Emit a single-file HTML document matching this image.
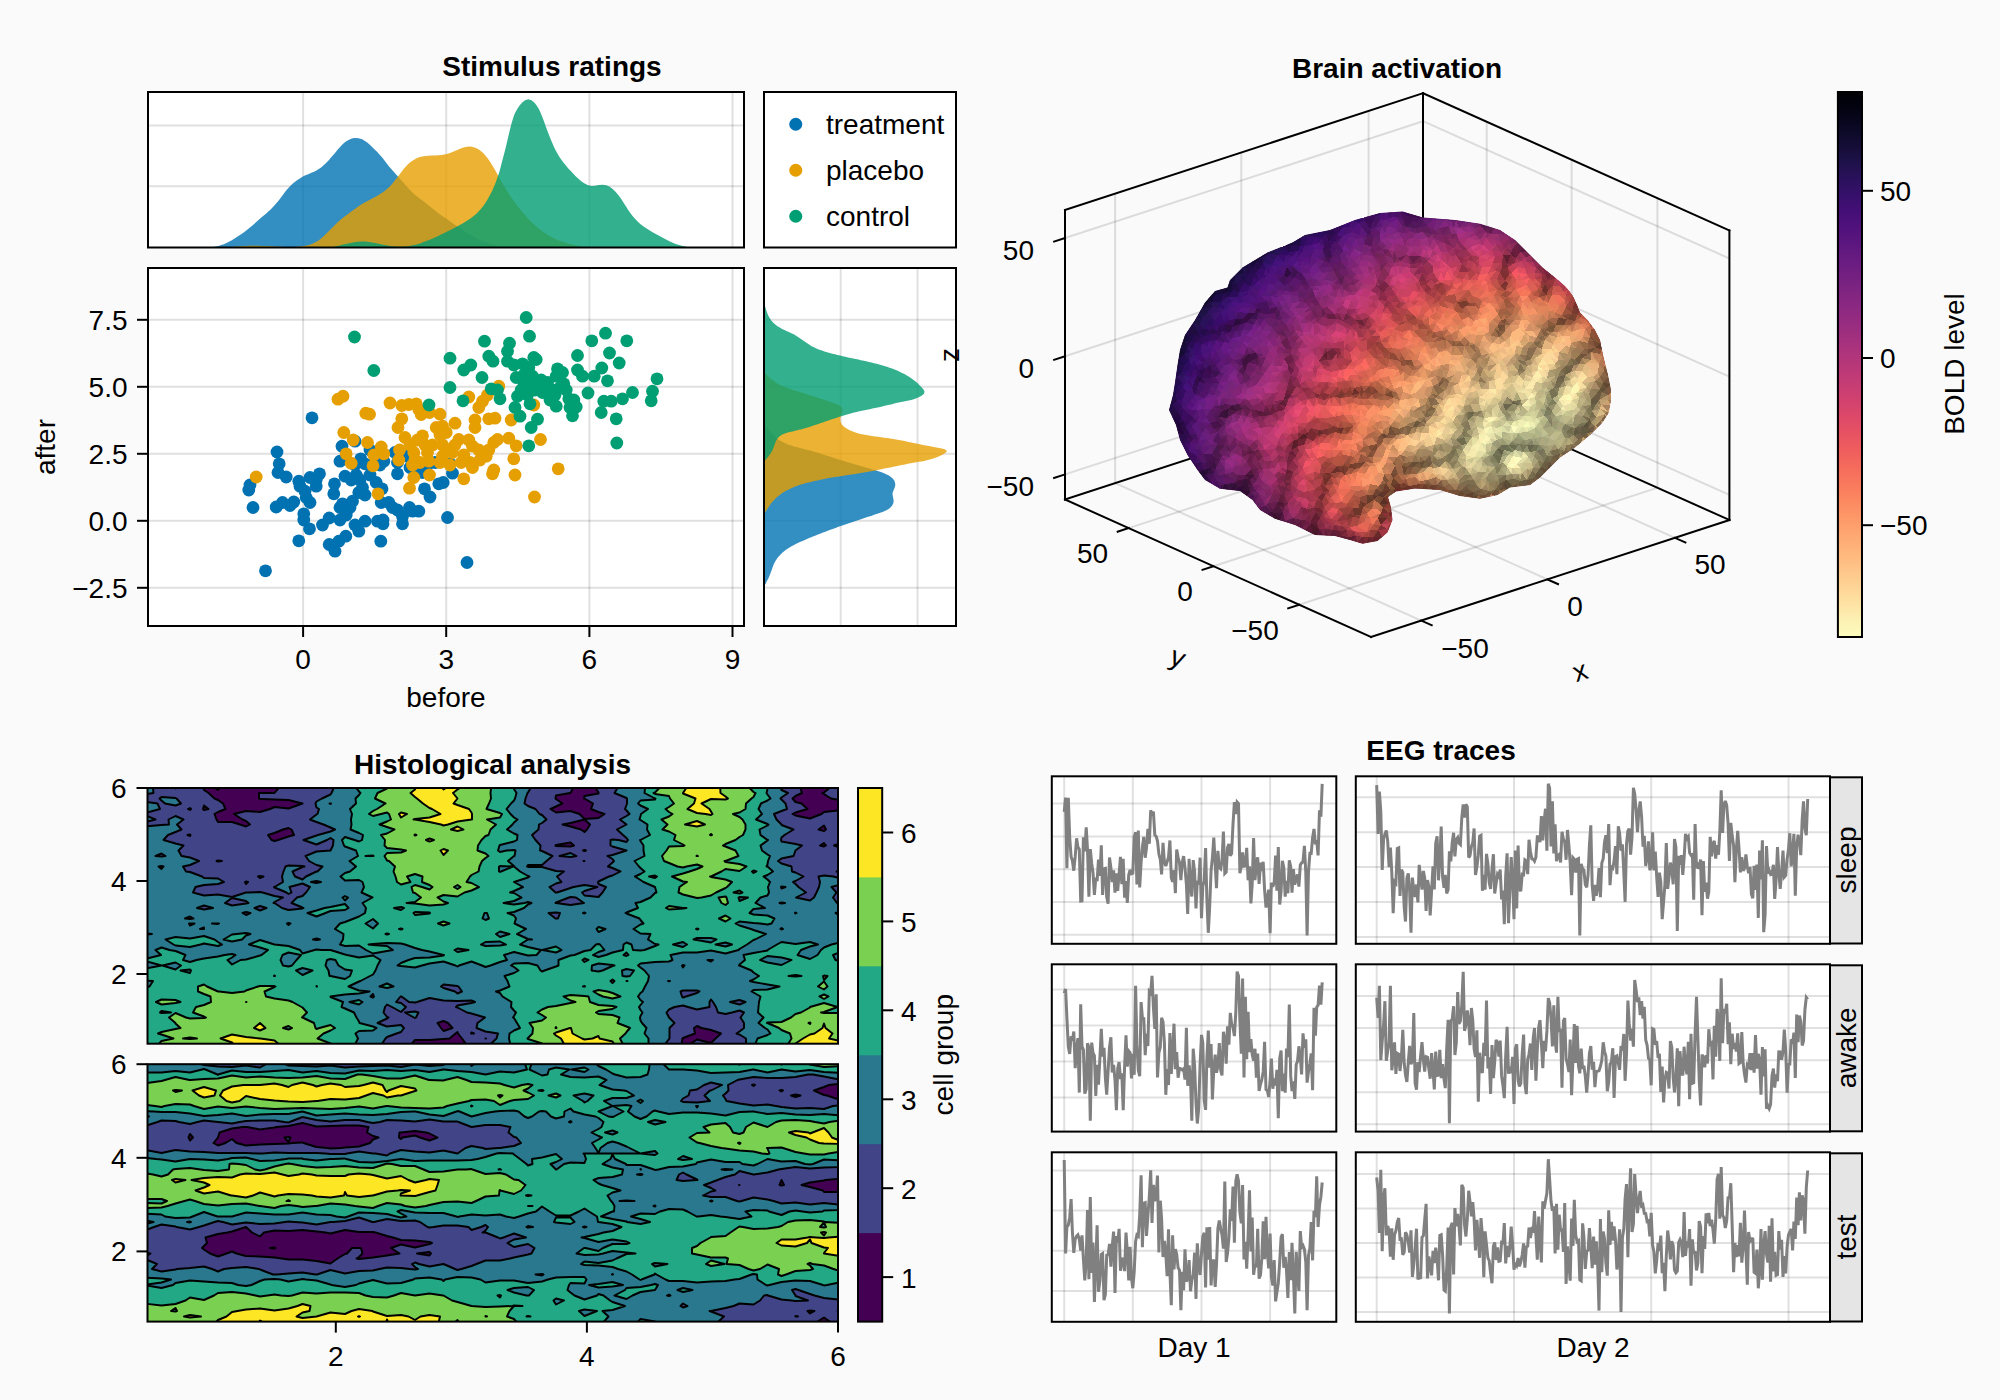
<!DOCTYPE html>
<html lang="en"><head><meta charset="utf-8"><title>Figure</title>
<style>
html,body{margin:0;padding:0;background:#fafafa;}
body{width:2000px;height:1400px;overflow:hidden;}
svg{display:block;font-family:"Liberation Sans", sans-serif;}
</style></head><body>
<svg width="2000" height="1400" viewBox="0 0 2000 1400">
<rect width="2000" height="1400" fill="#fafafa"/>
<g id="panel_a">
<text x="552" y="76" font-size="28" text-anchor="middle" font-weight="bold" fill="#000">Stimulus ratings</text>
<rect x="148" y="92" width="596" height="155.5" fill="#fff" stroke="none" stroke-width="2"/>
<line x1="303.1" y1="92" x2="303.1" y2="247.5" stroke="rgba(0,0,0,0.12)" stroke-width="2"/>
<line x1="446.2" y1="92" x2="446.2" y2="247.5" stroke="rgba(0,0,0,0.12)" stroke-width="2"/>
<line x1="589.4" y1="92" x2="589.4" y2="247.5" stroke="rgba(0,0,0,0.12)" stroke-width="2"/>
<line x1="732.5" y1="92" x2="732.5" y2="247.5" stroke="rgba(0,0,0,0.12)" stroke-width="2"/>
<line x1="148" y1="125.5" x2="744" y2="125.5" stroke="rgba(0,0,0,0.12)" stroke-width="2"/>
<line x1="148" y1="186.2" x2="744" y2="186.2" stroke="rgba(0,0,0,0.12)" stroke-width="2"/>
<clipPath id="cA1"><rect x="148" y="92" width="596" height="155.5"/></clipPath>
<g clip-path="url(#cA1)" fill-opacity="0.8">
<polygon fill="#0072b2" points="207.5,249.5 207.5,247.5 210.3,247.2 213.1,246.9 215.8,246.5 218.5,245.9 221.2,245.1 223.8,244.2 226.4,243.1 228.9,241.8 231.4,240.5 233.8,239.1 236.1,237.6 238.4,236.1 240.7,234.5 243,232.9 245.3,231.2 247.5,229.5 249.6,227.8 251.8,226 253.9,224.2 256,222.3 258,220.5 260.1,218.6 262.2,216.8 264.4,215 266.5,213.2 268.6,211.3 270.6,209.4 272.5,207.5 274.4,205.4 276.3,203.3 278.1,201.2 279.8,199 281.5,196.8 283.2,194.5 284.8,192.3 286.6,190.1 288.4,188 290.3,186 292.3,184.1 294.4,182.3 296.7,180.6 299,179 301.3,177.5 303.7,176.1 306.2,174.9 308.8,173.9 311.4,172.8 314,171.7 316.5,170.5 318.8,169 321.1,167.4 323.3,165.6 325.3,163.7 327.3,161.7 329.2,159.7 331,157.6 332.8,155.5 334.6,153.4 336.4,151.3 338.2,149.1 340.1,147 341.9,144.9 344,143 346.2,141.3 348.6,139.9 351.2,138.8 353.9,138.1 356.7,138 359.5,138.4 362.2,139.3 364.6,140.7 366.9,142.3 369,144.1 371.1,146 373.1,147.9 375.1,149.9 377.1,151.8 379,153.9 380.8,156 382.6,158.1 384.3,160.3 386,162.5 387.7,164.7 389.5,166.9 391.3,169 393.1,171.1 395,173.2 396.8,175.2 398.7,177.3 400.6,179.4 402.4,181.5 404.2,183.6 406,185.7 407.9,187.8 409.8,189.8 411.8,191.8 413.8,193.7 415.9,195.5 418.1,197.2 420.3,198.9 422.5,200.6 424.7,202.3 426.9,204 429.1,205.8 431.3,207.5 433.4,209.3 435.6,211 437.8,212.7 440,214.4 442.3,216 444.6,217.6 446.9,219.1 449.2,220.7 451.5,222.3 453.8,223.9 456,225.5 458.3,227.1 460.6,228.7 462.9,230.3 465.2,231.8 467.6,233.3 470,234.7 472.4,236.1 474.9,237.4 477.3,238.7 479.9,239.9 482.4,241 485,242.1 487.6,243 490.3,243.9 492.9,244.7 495.6,245.4 498.4,246 501.1,246.4 503.9,246.8 506.6,247 509.4,247.2 512.2,247.4 515,247.5 515,249.5"/>
<polygon fill="#e69f00" points="230,249.5 230,247.2 233.2,246.9 236.4,246.6 239.6,246.4 242.8,246.1 246,245.9 249.2,245.8 252.4,245.7 255.6,245.7 258.8,245.8 262,245.9 265.2,246 268.4,246.1 271.6,246.3 274.8,246.5 278,246.7 281.2,246.8 284.4,246.9 287.6,247 290.8,247 294,246.9 297.2,246.7 300.5,246.5 303.7,246.1 306.9,245.5 310,244.7 312.9,243.6 315.8,242.1 318.5,240.4 321.1,238.4 323.6,236.3 325.9,234.1 328.2,231.8 330.4,229.5 332.7,227.2 334.9,225 337.2,222.8 339.6,220.6 342.1,218.6 344.6,216.6 347.1,214.7 349.7,212.7 352.3,210.8 354.9,208.9 357.5,207 360.1,205.2 362.8,203.5 365.6,202 368.5,200.4 371.3,199 374.1,197.5 377,195.9 379.7,194.3 382.4,192.6 385,190.7 387.5,188.6 389.8,186.4 392,184.1 394.1,181.6 396,179.1 398,176.5 399.9,173.9 401.8,171.4 403.8,168.8 405.9,166.4 408.2,164.1 410.6,162 413.2,160.2 416.1,158.6 419,157.3 422.1,156.5 425.2,156 428.4,155.7 431.7,155.5 434.9,155.4 438.2,155.2 441.4,154.9 444.6,154.4 447.7,153.7 450.7,152.8 453.7,151.6 456.6,150.3 459.5,148.9 462.6,147.8 465.7,146.9 468.8,146.5 472,146.8 475.2,147.7 478.1,149.1 480.7,150.9 483.2,153 485.3,155.4 487.4,157.9 489.2,160.5 491,163.2 492.7,165.9 494.3,168.7 495.9,171.5 497.4,174.3 499,177.1 500.6,179.9 502.2,182.7 503.8,185.4 505.4,188.2 507.1,190.9 508.8,193.6 510.6,196.3 512.4,198.9 514.3,201.5 516.2,204.1 518.1,206.7 520.1,209.2 522.2,211.7 524.2,214.1 526.4,216.5 528.5,218.9 530.8,221.2 533,223.5 535.4,225.6 537.8,227.8 540.3,229.8 542.9,231.7 545.5,233.5 548.2,235.2 551,236.8 553.9,238.2 556.8,239.5 559.8,240.7 562.8,241.8 565.9,242.8 569,243.7 572.1,244.6 575.2,245.3 578.3,246 581.5,246.5 584.7,246.8 587.9,247.1 591.1,247.3 594.3,247.4 597.5,247.5 597.5,249.5"/>
<polygon fill="#009e73" points="332.5,249.5 332.5,247.2 336.1,246.3 339.7,245.4 343.2,244.5 346.9,243.7 350.5,242.9 354.1,242.2 357.8,241.7 361.5,241.5 365.2,241.6 368.9,242 372.5,242.5 376.2,243.2 379.8,244 383.4,244.7 387.1,245.4 390.7,246 394.4,246.4 398.1,246.7 401.8,246.7 405.5,246.5 409.2,246 412.8,245.3 416.4,244.4 420,243.4 423.5,242.1 426.9,240.8 430.4,239.4 433.8,238 437.1,236.4 440.5,234.8 443.8,233.2 447.1,231.6 450.4,229.9 453.7,228.2 457,226.5 460.2,224.7 463.5,222.9 466.6,221 469.7,218.9 472.7,216.7 475.6,214.4 478.3,211.8 480.8,209.1 483.1,206.2 485.2,203.2 487.2,200.1 489,196.8 490.8,193.5 492.4,190.2 493.9,186.8 495.3,183.4 496.6,180 497.8,176.5 499,172.9 500,169.4 501,165.8 501.9,162.2 502.8,158.7 503.8,155.1 504.7,151.5 505.6,147.9 506.5,144.3 507.3,140.7 508.2,137.1 509,133.4 509.9,129.8 510.8,126.2 511.7,122.7 512.8,119.2 513.9,115.8 515.3,112.5 517.1,109.2 519.2,106 521.9,102.8 525,100.3 528.3,99.2 531.5,100.2 534.5,102.8 537,106 539,109.3 540.5,112.6 541.9,115.9 543.2,119.3 544.5,122.8 545.7,126.2 547,129.7 548.3,133.2 549.7,136.7 551,140.1 552.5,143.6 554,147 555.6,150.3 557.4,153.5 559.3,156.7 561.4,159.7 563.6,162.7 565.9,165.6 568.3,168.4 570.8,171.1 573.3,173.8 575.9,176.4 578.7,178.9 581.6,181.4 584.7,183.6 588,185.2 591.6,185.9 595.3,185.7 599,185.1 602.7,184.8 606.3,185.3 609.7,186.8 612.7,189.1 615.5,191.8 617.9,194.6 620.2,197.6 622.2,200.6 624.2,203.7 626.2,206.8 628.2,209.9 630.3,213 632.6,215.9 635,218.7 637.6,221.4 640.3,223.9 643.2,226.2 646.2,228.3 649.4,230.3 652.6,232.2 655.8,234 659.1,235.7 662.3,237.5 665.6,239.3 668.9,241 672.2,242.6 675.6,244 679.1,245.1 682.7,246 686.3,246.8 690,247.5 690,249.5"/>
</g>
<rect x="148" y="92" width="596" height="155.5" fill="none" stroke="#000" stroke-width="2"/>
<rect x="764" y="92" width="192" height="155.5" fill="#fff" stroke="#000" stroke-width="2"/>
<circle cx="795.75" cy="124.25" r="6.5" fill="#0072b2"/>
<text x="826" y="134.2" font-size="28" text-anchor="start" fill="#000">treatment</text>
<circle cx="795.75" cy="170.25" r="6.5" fill="#e69f00"/>
<text x="826" y="180.2" font-size="28" text-anchor="start" fill="#000">placebo</text>
<circle cx="795.75" cy="216.25" r="6.5" fill="#009e73"/>
<text x="826" y="226.2" font-size="28" text-anchor="start" fill="#000">control</text>
<rect x="148" y="268" width="596" height="358" fill="#fff" stroke="none" stroke-width="2"/>
<line x1="303.1" y1="268" x2="303.1" y2="626" stroke="rgba(0,0,0,0.12)" stroke-width="2"/>
<line x1="446.2" y1="268" x2="446.2" y2="626" stroke="rgba(0,0,0,0.12)" stroke-width="2"/>
<line x1="589.4" y1="268" x2="589.4" y2="626" stroke="rgba(0,0,0,0.12)" stroke-width="2"/>
<line x1="732.5" y1="268" x2="732.5" y2="626" stroke="rgba(0,0,0,0.12)" stroke-width="2"/>
<line x1="148" y1="319.8" x2="744" y2="319.8" stroke="rgba(0,0,0,0.12)" stroke-width="2"/>
<line x1="148" y1="386.8" x2="744" y2="386.8" stroke="rgba(0,0,0,0.12)" stroke-width="2"/>
<line x1="148" y1="453.8" x2="744" y2="453.8" stroke="rgba(0,0,0,0.12)" stroke-width="2"/>
<line x1="148" y1="520.8" x2="744" y2="520.8" stroke="rgba(0,0,0,0.12)" stroke-width="2"/>
<line x1="148" y1="587.8" x2="744" y2="587.8" stroke="rgba(0,0,0,0.12)" stroke-width="2"/>
<g fill="#0072b2">
<circle cx="265.5" cy="570.8" r="6.4"/>
<circle cx="467" cy="562.5" r="6.4"/>
<circle cx="447.5" cy="517.5" r="6.4"/>
<circle cx="312" cy="417.8" r="6.4"/>
<circle cx="277" cy="452" r="6.4"/>
<circle cx="279.2" cy="463.8" r="6.4"/>
<circle cx="278" cy="472.5" r="6.4"/>
<circle cx="286.2" cy="477" r="6.4"/>
<circle cx="250" cy="485" r="6.4"/>
<circle cx="248.8" cy="490" r="6.4"/>
<circle cx="253" cy="507.5" r="6.4"/>
<circle cx="276.2" cy="507" r="6.4"/>
<circle cx="282.5" cy="502.5" r="6.4"/>
<circle cx="290" cy="505.5" r="6.4"/>
<circle cx="293.8" cy="502" r="6.4"/>
<circle cx="298.8" cy="481.2" r="6.4"/>
<circle cx="300" cy="486.2" r="6.4"/>
<circle cx="310" cy="477.5" r="6.4"/>
<circle cx="316.2" cy="480" r="6.4"/>
<circle cx="319.5" cy="473.8" r="6.4"/>
<circle cx="316.2" cy="486.2" r="6.4"/>
<circle cx="305" cy="491.2" r="6.4"/>
<circle cx="306.2" cy="497.5" r="6.4"/>
<circle cx="310" cy="502.5" r="6.4"/>
<circle cx="303.8" cy="513.8" r="6.4"/>
<circle cx="303.8" cy="520" r="6.4"/>
<circle cx="309.5" cy="528.8" r="6.4"/>
<circle cx="298.8" cy="540.8" r="6.4"/>
<circle cx="322.5" cy="525" r="6.4"/>
<circle cx="329.2" cy="518" r="6.4"/>
<circle cx="329.2" cy="544.5" r="6.4"/>
<circle cx="335" cy="551.2" r="6.4"/>
<circle cx="338.8" cy="541.2" r="6.4"/>
<circle cx="345.8" cy="536.2" r="6.4"/>
<circle cx="334.5" cy="483.8" r="6.4"/>
<circle cx="333.8" cy="493.8" r="6.4"/>
<circle cx="340" cy="507.5" r="6.4"/>
<circle cx="342.5" cy="503.8" r="6.4"/>
<circle cx="340" cy="520" r="6.4"/>
<circle cx="346.2" cy="515" r="6.4"/>
<circle cx="350" cy="507.5" r="6.4"/>
<circle cx="352.5" cy="501.2" r="6.4"/>
<circle cx="345" cy="476.2" r="6.4"/>
<circle cx="351.2" cy="480" r="6.4"/>
<circle cx="356.2" cy="475" r="6.4"/>
<circle cx="360" cy="480" r="6.4"/>
<circle cx="362.5" cy="487.5" r="6.4"/>
<circle cx="365" cy="495" r="6.4"/>
<circle cx="358.8" cy="492.5" r="6.4"/>
<circle cx="355" cy="525" r="6.4"/>
<circle cx="358.8" cy="531.2" r="6.4"/>
<circle cx="365" cy="521.2" r="6.4"/>
<circle cx="377.5" cy="521.2" r="6.4"/>
<circle cx="383" cy="520" r="6.4"/>
<circle cx="383" cy="523.8" r="6.4"/>
<circle cx="380.8" cy="541.2" r="6.4"/>
<circle cx="376.2" cy="482.5" r="6.4"/>
<circle cx="382" cy="488.8" r="6.4"/>
<circle cx="381.2" cy="502.5" r="6.4"/>
<circle cx="388.8" cy="502.5" r="6.4"/>
<circle cx="392.5" cy="507.5" r="6.4"/>
<circle cx="397.5" cy="510" r="6.4"/>
<circle cx="402.5" cy="516.2" r="6.4"/>
<circle cx="402.5" cy="523.8" r="6.4"/>
<circle cx="409.5" cy="507.5" r="6.4"/>
<circle cx="412.5" cy="511.2" r="6.4"/>
<circle cx="418.8" cy="511.2" r="6.4"/>
<circle cx="397.5" cy="473.8" r="6.4"/>
<circle cx="410" cy="467.5" r="6.4"/>
<circle cx="424.5" cy="488.8" r="6.4"/>
<circle cx="430" cy="497" r="6.4"/>
<circle cx="438.8" cy="483.8" r="6.4"/>
<circle cx="443.2" cy="482.5" r="6.4"/>
<circle cx="452.5" cy="473.2" r="6.4"/>
<circle cx="342" cy="446.2" r="6.4"/>
<circle cx="340" cy="461.2" r="6.4"/>
<circle cx="355" cy="441.2" r="6.4"/>
<circle cx="360.8" cy="458.8" r="6.4"/>
<circle cx="365" cy="463.8" r="6.4"/>
<circle cx="383.8" cy="461.2" r="6.4"/>
<circle cx="397.5" cy="462.5" r="6.4"/>
<circle cx="450" cy="463.8" r="6.4"/>
<circle cx="407.5" cy="456.2" r="6.4"/>
<circle cx="417.5" cy="470" r="6.4"/>
<circle cx="427.5" cy="465" r="6.4"/>
<circle cx="422.5" cy="472.5" r="6.4"/>
<circle cx="370" cy="450" r="6.4"/>
<circle cx="395" cy="452.5" r="6.4"/>
<circle cx="435" cy="462.5" r="6.4"/>
<circle cx="380" cy="465" r="6.4"/>
<circle cx="355" cy="465" r="6.4"/>
<circle cx="370" cy="475" r="6.4"/>
</g>
<g fill="#e69f00">
<circle cx="256.2" cy="477" r="6.4"/>
<circle cx="338" cy="399.2" r="6.4"/>
<circle cx="343" cy="396.2" r="6.4"/>
<circle cx="365.8" cy="413.2" r="6.4"/>
<circle cx="369.5" cy="414.2" r="6.4"/>
<circle cx="390" cy="403" r="6.4"/>
<circle cx="401.8" cy="405.5" r="6.4"/>
<circle cx="408.8" cy="404.5" r="6.4"/>
<circle cx="416.2" cy="403.8" r="6.4"/>
<circle cx="418.8" cy="409.5" r="6.4"/>
<circle cx="421.2" cy="414.5" r="6.4"/>
<circle cx="429.5" cy="412.5" r="6.4"/>
<circle cx="440" cy="414.2" r="6.4"/>
<circle cx="401.8" cy="418.8" r="6.4"/>
<circle cx="398" cy="427.5" r="6.4"/>
<circle cx="343.8" cy="432.5" r="6.4"/>
<circle cx="353.2" cy="440" r="6.4"/>
<circle cx="367.5" cy="442.5" r="6.4"/>
<circle cx="381.2" cy="447" r="6.4"/>
<circle cx="383.8" cy="453.8" r="6.4"/>
<circle cx="373.8" cy="455" r="6.4"/>
<circle cx="346.2" cy="453.8" r="6.4"/>
<circle cx="351.2" cy="463.2" r="6.4"/>
<circle cx="373" cy="465.8" r="6.4"/>
<circle cx="378" cy="493.8" r="6.4"/>
<circle cx="405" cy="437.5" r="6.4"/>
<circle cx="422.5" cy="435.8" r="6.4"/>
<circle cx="410" cy="445" r="6.4"/>
<circle cx="425" cy="445" r="6.4"/>
<circle cx="399.5" cy="450" r="6.4"/>
<circle cx="398.8" cy="460" r="6.4"/>
<circle cx="413.8" cy="452.5" r="6.4"/>
<circle cx="415" cy="460" r="6.4"/>
<circle cx="420" cy="462.5" r="6.4"/>
<circle cx="427.5" cy="452.5" r="6.4"/>
<circle cx="428.8" cy="461.2" r="6.4"/>
<circle cx="436.2" cy="427.5" r="6.4"/>
<circle cx="442.5" cy="426.2" r="6.4"/>
<circle cx="455" cy="423.2" r="6.4"/>
<circle cx="440" cy="435" r="6.4"/>
<circle cx="446.2" cy="432.5" r="6.4"/>
<circle cx="442.5" cy="445" r="6.4"/>
<circle cx="446.2" cy="450" r="6.4"/>
<circle cx="442.5" cy="456.2" r="6.4"/>
<circle cx="440" cy="462.5" r="6.4"/>
<circle cx="450" cy="465" r="6.4"/>
<circle cx="458.8" cy="439.5" r="6.4"/>
<circle cx="468.8" cy="440" r="6.4"/>
<circle cx="472.5" cy="446.2" r="6.4"/>
<circle cx="463.8" cy="455" r="6.4"/>
<circle cx="461.2" cy="462.5" r="6.4"/>
<circle cx="470" cy="462.5" r="6.4"/>
<circle cx="472.5" cy="467.5" r="6.4"/>
<circle cx="478.8" cy="450" r="6.4"/>
<circle cx="486.2" cy="456.2" r="6.4"/>
<circle cx="488.8" cy="450" r="6.4"/>
<circle cx="493.8" cy="442.5" r="6.4"/>
<circle cx="497.5" cy="439.5" r="6.4"/>
<circle cx="508.8" cy="438.2" r="6.4"/>
<circle cx="516.2" cy="445.8" r="6.4"/>
<circle cx="513.8" cy="458.8" r="6.4"/>
<circle cx="515" cy="475" r="6.4"/>
<circle cx="492.5" cy="473.8" r="6.4"/>
<circle cx="493.8" cy="470" r="6.4"/>
<circle cx="463.8" cy="478.8" r="6.4"/>
<circle cx="429.5" cy="475" r="6.4"/>
<circle cx="413.8" cy="477.5" r="6.4"/>
<circle cx="409.5" cy="488.2" r="6.4"/>
<circle cx="534.5" cy="497" r="6.4"/>
<circle cx="558.2" cy="468.8" r="6.4"/>
<circle cx="540.5" cy="439.5" r="6.4"/>
<circle cx="475" cy="420" r="6.4"/>
<circle cx="475" cy="427.5" r="6.4"/>
<circle cx="488.8" cy="418.8" r="6.4"/>
<circle cx="495" cy="418.2" r="6.4"/>
<circle cx="511.2" cy="420" r="6.4"/>
<circle cx="478.8" cy="407.5" r="6.4"/>
<circle cx="482.5" cy="401.2" r="6.4"/>
<circle cx="487.5" cy="395" r="6.4"/>
<circle cx="468.8" cy="397" r="6.4"/>
<circle cx="498.8" cy="386.2" r="6.4"/>
<circle cx="533.8" cy="405" r="6.4"/>
<circle cx="417.5" cy="440" r="6.4"/>
<circle cx="432.5" cy="445" r="6.4"/>
<circle cx="452.5" cy="452.5" r="6.4"/>
<circle cx="455" cy="445" r="6.4"/>
<circle cx="480" cy="460" r="6.4"/>
<circle cx="412.5" cy="465" r="6.4"/>
</g>
<g fill="#009e73">
<circle cx="526.2" cy="317.5" r="6.4"/>
<circle cx="529.5" cy="336.2" r="6.4"/>
<circle cx="354.5" cy="337" r="6.4"/>
<circle cx="373.8" cy="370.5" r="6.4"/>
<circle cx="429" cy="405" r="6.4"/>
<circle cx="450" cy="358.2" r="6.4"/>
<circle cx="450" cy="387.5" r="6.4"/>
<circle cx="463" cy="400.8" r="6.4"/>
<circle cx="463.8" cy="370" r="6.4"/>
<circle cx="470.8" cy="365" r="6.4"/>
<circle cx="484.5" cy="341.2" r="6.4"/>
<circle cx="482" cy="377.5" r="6.4"/>
<circle cx="488.8" cy="356.2" r="6.4"/>
<circle cx="493" cy="361.2" r="6.4"/>
<circle cx="491.2" cy="388.8" r="6.4"/>
<circle cx="497.5" cy="390" r="6.4"/>
<circle cx="500" cy="398.8" r="6.4"/>
<circle cx="509.5" cy="343.2" r="6.4"/>
<circle cx="507.5" cy="351.2" r="6.4"/>
<circle cx="507.5" cy="361.2" r="6.4"/>
<circle cx="513.8" cy="365" r="6.4"/>
<circle cx="522.5" cy="363.8" r="6.4"/>
<circle cx="533.8" cy="357.5" r="6.4"/>
<circle cx="536.2" cy="359.5" r="6.4"/>
<circle cx="528.8" cy="367.5" r="6.4"/>
<circle cx="523.8" cy="375" r="6.4"/>
<circle cx="532.5" cy="376.2" r="6.4"/>
<circle cx="523.8" cy="382.5" r="6.4"/>
<circle cx="541.2" cy="380" r="6.4"/>
<circle cx="521.2" cy="390" r="6.4"/>
<circle cx="517.5" cy="396.2" r="6.4"/>
<circle cx="527.5" cy="395" r="6.4"/>
<circle cx="530" cy="403.8" r="6.4"/>
<circle cx="515" cy="407.5" r="6.4"/>
<circle cx="520" cy="416.2" r="6.4"/>
<circle cx="537.5" cy="419.2" r="6.4"/>
<circle cx="531.2" cy="427.5" r="6.4"/>
<circle cx="528.8" cy="445.8" r="6.4"/>
<circle cx="536.2" cy="387.5" r="6.4"/>
<circle cx="545" cy="385" r="6.4"/>
<circle cx="552.5" cy="390" r="6.4"/>
<circle cx="557.5" cy="368.8" r="6.4"/>
<circle cx="556.2" cy="376.2" r="6.4"/>
<circle cx="562.5" cy="372.5" r="6.4"/>
<circle cx="563.8" cy="383.8" r="6.4"/>
<circle cx="566.2" cy="390" r="6.4"/>
<circle cx="550" cy="400" r="6.4"/>
<circle cx="556.2" cy="406.2" r="6.4"/>
<circle cx="568.8" cy="398.8" r="6.4"/>
<circle cx="576.2" cy="407" r="6.4"/>
<circle cx="572.5" cy="415.8" r="6.4"/>
<circle cx="577.5" cy="355.5" r="6.4"/>
<circle cx="577.5" cy="370" r="6.4"/>
<circle cx="582.5" cy="376.2" r="6.4"/>
<circle cx="588" cy="393" r="6.4"/>
<circle cx="591.8" cy="340.8" r="6.4"/>
<circle cx="594.2" cy="376.2" r="6.4"/>
<circle cx="601.8" cy="368" r="6.4"/>
<circle cx="605.5" cy="333.2" r="6.4"/>
<circle cx="609.5" cy="353" r="6.4"/>
<circle cx="607.5" cy="380.8" r="6.4"/>
<circle cx="619.2" cy="363" r="6.4"/>
<circle cx="626.8" cy="340.8" r="6.4"/>
<circle cx="603.8" cy="401.2" r="6.4"/>
<circle cx="611.2" cy="401.2" r="6.4"/>
<circle cx="601.2" cy="412.5" r="6.4"/>
<circle cx="616.2" cy="418.8" r="6.4"/>
<circle cx="622.5" cy="398.8" r="6.4"/>
<circle cx="632.5" cy="392.5" r="6.4"/>
<circle cx="652.5" cy="391.2" r="6.4"/>
<circle cx="651.2" cy="400.8" r="6.4"/>
<circle cx="657" cy="378.8" r="6.4"/>
<circle cx="616.8" cy="443" r="6.4"/>
<circle cx="542.5" cy="392.5" r="6.4"/>
<circle cx="547.5" cy="382.5" r="6.4"/>
<circle cx="516.2" cy="377.5" r="6.4"/>
<circle cx="530" cy="385" r="6.4"/>
<circle cx="527.5" cy="372.5" r="6.4"/>
<circle cx="535" cy="390" r="6.4"/>
<circle cx="555" cy="395" r="6.4"/>
<circle cx="560" cy="387.5" r="6.4"/>
<circle cx="570" cy="407.5" r="6.4"/>
<circle cx="573.8" cy="400" r="6.4"/>
</g>
<rect x="148" y="268" width="596" height="358" fill="none" stroke="#000" stroke-width="2"/>
<line x1="303.1" y1="626" x2="303.1" y2="637" stroke="#000" stroke-width="2"/>
<text x="303.1" y="669" font-size="28" text-anchor="middle" fill="#000">0</text>
<line x1="446.2" y1="626" x2="446.2" y2="637" stroke="#000" stroke-width="2"/>
<text x="446.2" y="669" font-size="28" text-anchor="middle" fill="#000">3</text>
<line x1="589.4" y1="626" x2="589.4" y2="637" stroke="#000" stroke-width="2"/>
<text x="589.4" y="669" font-size="28" text-anchor="middle" fill="#000">6</text>
<line x1="732.5" y1="626" x2="732.5" y2="637" stroke="#000" stroke-width="2"/>
<text x="732.5" y="669" font-size="28" text-anchor="middle" fill="#000">9</text>
<line x1="137" y1="319.8" x2="148" y2="319.8" stroke="#000" stroke-width="2"/>
<text x="127.5" y="329.8" font-size="28" text-anchor="end" fill="#000">7.5</text>
<line x1="137" y1="386.8" x2="148" y2="386.8" stroke="#000" stroke-width="2"/>
<text x="127.5" y="396.8" font-size="28" text-anchor="end" fill="#000">5.0</text>
<line x1="137" y1="453.8" x2="148" y2="453.8" stroke="#000" stroke-width="2"/>
<text x="127.5" y="463.8" font-size="28" text-anchor="end" fill="#000">2.5</text>
<line x1="137" y1="520.8" x2="148" y2="520.8" stroke="#000" stroke-width="2"/>
<text x="127.5" y="530.8" font-size="28" text-anchor="end" fill="#000">0.0</text>
<line x1="137" y1="587.8" x2="148" y2="587.8" stroke="#000" stroke-width="2"/>
<text x="127.5" y="597.8" font-size="28" text-anchor="end" fill="#000">−2.5</text>
<text x="446" y="707" font-size="28" text-anchor="middle" fill="#000">before</text>
<text x="55" y="447" font-size="28" text-anchor="middle" transform="rotate(-90 55 447)" fill="#000">after</text>
<rect x="764" y="268" width="192" height="358" fill="#fff" stroke="none" stroke-width="2"/>
<line x1="840.7" y1="268" x2="840.7" y2="626" stroke="rgba(0,0,0,0.12)" stroke-width="2"/>
<line x1="917.5" y1="268" x2="917.5" y2="626" stroke="rgba(0,0,0,0.12)" stroke-width="2"/>
<line x1="764" y1="319.8" x2="956" y2="319.8" stroke="rgba(0,0,0,0.12)" stroke-width="2"/>
<line x1="764" y1="386.8" x2="956" y2="386.8" stroke="rgba(0,0,0,0.12)" stroke-width="2"/>
<line x1="764" y1="453.8" x2="956" y2="453.8" stroke="rgba(0,0,0,0.12)" stroke-width="2"/>
<line x1="764" y1="520.8" x2="956" y2="520.8" stroke="rgba(0,0,0,0.12)" stroke-width="2"/>
<line x1="764" y1="587.8" x2="956" y2="587.8" stroke="rgba(0,0,0,0.12)" stroke-width="2"/>
<clipPath id="cA2"><rect x="764" y="268" width="192" height="358"/></clipPath>
<g clip-path="url(#cA2)" fill-opacity="0.8">
<polygon fill="#0072b2" points="762,424.2 764.4,424.2 765.9,426.2 767.4,428.1 768.8,430 770.4,431.8 771.9,433.6 773.6,435.3 775.2,436.9 777,438.4 778.8,439.8 780.8,441 782.8,442.1 784.9,443.1 787,444 789.2,444.9 791.5,445.6 793.8,446.4 796.1,447 798.4,447.6 800.8,448.2 803.1,448.8 805.5,449.4 807.8,450 810.2,450.6 812.5,451.3 814.8,451.9 817,452.6 819.3,453.3 821.6,454 823.8,454.7 826,455.4 828.3,456.1 830.5,456.8 832.7,457.6 835,458.3 837.2,459 839.4,459.7 841.7,460.4 843.9,461.1 846.2,461.8 848.4,462.5 850.7,463.1 853,463.8 855.3,464.4 857.5,465.1 859.8,465.7 862.1,466.4 864.3,467 866.6,467.7 868.9,468.3 871.1,469 873.4,469.7 875.6,470.3 877.8,471.1 880.1,471.8 882.3,472.6 884.5,473.5 886.7,474.5 888.9,475.6 890.9,476.9 892.7,478.5 894.1,480.3 895,482.5 895.3,484.9 894.8,487.2 893.9,489.4 892.9,491.7 892.5,493.9 892.8,496.2 893.3,498.6 893.7,500.9 893.3,503.2 892.2,505.4 890.7,507.3 889,508.8 886.9,510 884.8,511.1 882.5,511.9 880.2,512.8 878,513.6 875.7,514.3 873.5,515.1 871.2,515.9 869,516.6 866.7,517.3 864.5,518 862.3,518.8 860.1,519.5 857.9,520.2 855.6,520.9 853.4,521.7 851.2,522.4 848.9,523.2 846.7,524 844.5,524.7 842.3,525.5 840,526.3 837.8,527.1 835.6,527.9 833.3,528.7 831.1,529.5 828.9,530.3 826.7,531.2 824.5,532 822.3,532.8 820.1,533.7 817.9,534.5 815.7,535.4 813.5,536.3 811.3,537.2 809.1,538.1 807,539 804.8,539.9 802.6,540.9 800.5,541.8 798.3,542.8 796.2,543.8 794,544.9 792,546 789.9,547.2 787.9,548.5 786,549.8 784.1,551.3 782.3,552.8 780.6,554.4 778.9,556.2 777.4,558 776.1,560 774.9,562 773.9,564.1 773,566.3 772.2,568.5 771.4,570.8 770.6,573 769.7,575.2 768.8,577.4 767.8,579.5 766.7,581.6 765.6,583.7 764.4,585.7 762,585.7"/>
<polygon fill="#e69f00" points="762,372.6 764.4,372.6 766.6,374.7 768.7,376.8 770.9,378.8 773.2,380.6 775.6,382.3 778.1,383.9 780.7,385.2 783.3,386.4 786.1,387.5 788.9,388.5 791.8,389.5 794.6,390.4 797.5,391.3 800.4,392.2 803.3,393.1 806.1,394 808.9,394.9 811.7,395.7 814.4,396.6 817.1,397.4 819.7,398.3 822.4,399.1 825.1,400.1 828,401 831,402.1 834.3,403.2 837.5,404.5 840.3,406.1 842.1,408 842.6,410.3 841.9,413.1 840.8,416.1 840.3,419.2 840.7,422.1 842,424.7 844.1,426.8 846.6,428.5 849.3,430 852.1,431.3 854.9,432.3 857.7,433.2 860.5,433.9 863.4,434.6 866.3,435.1 869.2,435.5 872.1,436 875.1,436.4 878.1,436.8 881.1,437.2 884.2,437.7 887.2,438.1 890.2,438.6 893.2,439.1 896.1,439.6 899,440.1 901.9,440.6 904.6,441.1 907.3,441.7 909.9,442.2 912.4,442.7 914.9,443.2 917.4,443.8 920,444.3 922.8,444.9 925.8,445.5 929,446.1 932.5,446.8 936.4,447.5 940.5,448.2 944,449.1 946.4,450.2 946.8,451.6 944.9,453.2 941.9,455 938.6,456.5 935.5,457.7 932.5,458.7 929.6,459.6 926.9,460.3 924.2,460.9 921.5,461.4 918.8,461.8 916.1,462.3 913.4,462.8 910.6,463.3 907.8,463.8 905,464.4 902.1,465 899.2,465.6 896.3,466.2 893.3,466.8 890.4,467.4 887.4,468 884.4,468.6 881.5,469.2 878.5,469.8 875.6,470.4 872.6,470.9 869.7,471.5 866.8,472 863.8,472.5 860.9,473 858,473.4 855.1,473.9 852.2,474.4 849.3,474.8 846.4,475.3 843.5,475.7 840.6,476.2 837.7,476.7 834.8,477.1 831.9,477.6 829,478.1 826.1,478.6 823.2,479.2 820.3,479.8 817.4,480.4 814.5,481 811.6,481.7 808.7,482.4 805.8,483.1 803,483.9 800.1,484.8 797.3,485.7 794.6,486.8 791.8,487.9 789.2,489.2 786.5,490.5 784,492 781.5,493.6 779.1,495.4 776.8,497.3 774.6,499.4 772.6,501.5 770.8,503.8 769.1,506.2 767.5,508.7 765.9,511.2 764.4,513.8 762,513.8"/>
<polygon fill="#009e73" points="762,303.4 764.4,303.4 765.1,306.1 765.8,308.7 766.6,311.3 767.5,313.8 768.6,316.2 770,318.5 771.5,320.7 773.3,322.7 775.3,324.5 777.5,326.2 779.8,327.6 782.1,328.9 784.5,330.1 787,331.2 789.4,332.3 791.9,333.4 794.2,334.6 796.5,336 798.8,337.4 801,339 803.2,340.5 805.3,342.1 807.6,343.6 809.8,345 812.1,346.4 814.5,347.6 816.9,348.7 819.4,349.7 822,350.6 824.5,351.4 827.1,352.2 829.7,353 832.3,353.7 834.9,354.3 837.5,355 840.2,355.6 842.8,356.2 845.4,356.8 848,357.4 850.6,357.9 853.2,358.5 855.8,359.1 858.4,359.6 861,360.2 863.7,360.8 866.3,361.3 868.9,361.9 871.5,362.5 874.1,363.2 876.7,363.8 879.2,364.5 881.8,365.2 884.4,366 887,366.8 889.5,367.7 892.1,368.6 894.6,369.6 897.1,370.6 899.6,371.7 902.1,372.9 904.5,374.1 906.8,375.4 909,376.8 911.2,378.2 913.3,379.7 915.3,381.3 917.3,383 919.3,384.9 921.3,386.9 923.3,389.2 924.5,391.5 924,393.7 922,395.5 919.2,397.1 916.4,398.3 913.8,399.2 911.2,400 908.7,400.6 906.2,401.1 903.7,401.5 901.2,402 898.7,402.6 896.1,403.1 893.5,403.7 890.9,404.4 888.3,405 885.6,405.6 883,406.3 880.3,406.9 877.7,407.5 875,408.1 872.4,408.6 869.7,409.2 867.1,409.7 864.5,410.2 861.9,410.8 859.3,411.3 856.7,411.9 854.1,412.5 851.5,413.2 848.9,413.9 846.3,414.7 843.8,415.5 841.2,416.3 838.6,417.1 836.1,417.9 833.5,418.8 831,419.6 828.4,420.5 825.9,421.3 823.4,422.2 820.9,423.1 818.4,423.9 815.9,424.7 813.4,425.6 810.9,426.4 808.4,427.2 805.9,427.9 803.3,428.7 800.7,429.4 798,430.1 795.3,430.8 792.5,431.4 789.7,432.1 786.9,432.8 784.3,433.7 781.8,434.8 779.7,436.2 777.9,437.9 776.5,440 775.4,442.4 774.5,445 773.6,447.6 772.5,450.2 771.2,452.5 769.7,454.8 768,456.9 766.3,458.9 764.4,460.9 762,460.9"/>
</g>
<rect x="764" y="268" width="192" height="358" fill="none" stroke="#000" stroke-width="2"/>
</g>
<g id="panel_b">
<text x="1397" y="78" font-size="28" text-anchor="middle" font-weight="bold" fill="#000">Brain activation</text>
<g stroke="rgba(0,0,0,0.12)" stroke-width="2">
<line x1="1115.1" y1="483.2" x2="1115.1" y2="193.7"/>
<line x1="1421.2" y1="620.6" x2="1115.2" y2="483.1"/>
<line x1="1241.3" y1="442" x2="1241.3" y2="152.5"/>
<line x1="1547.5" y1="579.4" x2="1241.5" y2="441.9"/>
<line x1="1368.6" y1="400.5" x2="1368.6" y2="111"/>
<line x1="1674.9" y1="537.8" x2="1368.9" y2="400.3"/>
<line x1="1486.7" y1="411.3" x2="1486.7" y2="121.8"/>
<line x1="1128.6" y1="528.1" x2="1486.6" y2="411.4"/>
<line x1="1571.6" y1="449.3" x2="1571.6" y2="159.8"/>
<line x1="1213.4" y1="566.2" x2="1571.4" y2="449.4"/>
<line x1="1657.4" y1="487.7" x2="1657.4" y2="198.2"/>
<line x1="1299.1" y1="604.7" x2="1657.1" y2="487.9"/>
<line x1="1065" y1="474.4" x2="1423" y2="357.6"/>
<line x1="1423" y1="357.6" x2="1729.4" y2="494.9"/>
<line x1="1065" y1="356.2" x2="1423" y2="239.4"/>
<line x1="1423" y1="239.4" x2="1729.4" y2="376.7"/>
<line x1="1065" y1="238" x2="1423" y2="121.2"/>
<line x1="1423" y1="121.2" x2="1729.4" y2="258.5"/>
</g>
<g stroke="#000" stroke-width="2" stroke-linecap="square" fill="none">
<line x1="1065" y1="499.5" x2="1065" y2="210"/>
<line x1="1065" y1="210" x2="1423" y2="93.2"/>
<line x1="1423" y1="93.2" x2="1729.4" y2="230.5"/>
<line x1="1423" y1="382.8" x2="1423" y2="93.2"/>
<line x1="1729.4" y1="520" x2="1729.4" y2="230.5"/>
<line x1="1065" y1="499.5" x2="1371" y2="637"/>
<line x1="1371" y1="637" x2="1729.4" y2="520"/>
<line x1="1065" y1="499.5" x2="1423" y2="382.8"/>
<line x1="1423" y1="382.8" x2="1729.4" y2="520"/>
<line x1="1128.6" y1="528.1" x2="1117.7" y2="531.7"/>
<line x1="1213.4" y1="566.2" x2="1202.5" y2="569.8"/>
<line x1="1299.1" y1="604.7" x2="1288.2" y2="608.3"/>
<line x1="1421.2" y1="620.6" x2="1431.7" y2="625.3"/>
<line x1="1547.5" y1="579.4" x2="1558" y2="584.1"/>
<line x1="1674.9" y1="537.8" x2="1685.4" y2="542.5"/>
<line x1="1065" y1="474.4" x2="1054.1" y2="478"/>
<line x1="1065" y1="356.2" x2="1054.1" y2="359.8"/>
<line x1="1065" y1="238" x2="1054.1" y2="241.6"/>
</g>
<text x="1034" y="260" font-size="28" text-anchor="end" fill="#000">50</text>
<text x="1034" y="377.5" font-size="28" text-anchor="end" fill="#000">0</text>
<text x="1034" y="496" font-size="28" text-anchor="end" fill="#000">−50</text>
<text x="1092.5" y="562.5" font-size="28" text-anchor="middle" fill="#000">50</text>
<text x="1185" y="601" font-size="28" text-anchor="middle" fill="#000">0</text>
<text x="1255" y="640" font-size="28" text-anchor="middle" fill="#000">−50</text>
<text x="1465" y="657.5" font-size="28" text-anchor="middle" fill="#000">−50</text>
<text x="1575" y="615.8" font-size="28" text-anchor="middle" fill="#000">0</text>
<text x="1710" y="573.8" font-size="28" text-anchor="middle" fill="#000">50</text>
<text x="1174.5" y="666" font-size="28" text-anchor="middle" transform="rotate(21.5 1174.5 666)" fill="#000">y</text>
<text x="1583" y="680" font-size="28" text-anchor="middle" transform="rotate(-18.1 1583 680)" fill="#000">x</text>
<text x="959" y="355" font-size="28" text-anchor="middle" transform="rotate(-90 959 355)" fill="#000">z</text>
<clipPath id="cBrain"><path d="M1423,217.5 1402.5,211.5 1380,213 1355,220 1330,230 1305,235 1292.5,242.5 1267.5,252.5 1242.5,267.5 1230,280 1227.5,287.5 1215,291 1205,302.5 1195,320 1185,335 1180,350 1177.5,365 1175,382.5 1173,395 1169,410 1176,425 1180,440 1187.5,455 1197.5,470 1205,480 1220,488.8 1240,491 1252.5,500 1260,510 1275,518.8 1295,525 1315,535 1335,536 1350,540 1362.5,543.8 1377.5,541 1387.5,532.5 1392.5,520 1391,507.5 1388,497 1396,491.5 1415,488.5 1440,490 1460,496 1480,498.8 1497.5,495 1510,487.5 1530,485 1540,477.5 1547.5,470 1560,457.5 1575,447.5 1590,435 1602.5,422.5 1608.8,412.5 1611,400 1611,390 1608,375 1603.5,357 1600,340 1595,330 1587.5,320 1580,312.5 1577.5,306 1572.5,295 1565,286 1555,277.5 1542.5,267.5 1530,255 1515,240 1500,230 1480,223.8 1455,220z"/></clipPath>
<g clip-path="url(#cBrain)" shape-rendering="crispEdges">
<path d="M1423,217.5 1402.5,211.5 1380,213 1355,220 1330,230 1305,235 1292.5,242.5 1267.5,252.5 1242.5,267.5 1230,280 1227.5,287.5 1215,291 1205,302.5 1195,320 1185,335 1180,350 1177.5,365 1175,382.5 1173,395 1169,410 1176,425 1180,440 1187.5,455 1197.5,470 1205,480 1220,488.8 1240,491 1252.5,500 1260,510 1275,518.8 1295,525 1315,535 1335,536 1350,540 1362.5,543.8 1377.5,541 1387.5,532.5 1392.5,520 1391,507.5 1388,497 1396,491.5 1415,488.5 1440,490 1460,496 1480,498.8 1497.5,495 1510,487.5 1530,485 1540,477.5 1547.5,470 1560,457.5 1575,447.5 1590,435 1602.5,422.5 1608.8,412.5 1611,400 1611,390 1608,375 1603.5,357 1600,340 1595,330 1587.5,320 1580,312.5 1577.5,306 1572.5,295 1565,286 1555,277.5 1542.5,267.5 1530,255 1515,240 1500,230 1480,223.8 1455,220z" fill="#8a4a6a"/>
<path fill="#785436" d="M1604 371l6 1-2 5zM1553 332l-5-5 8-2z"/>
<path fill="#842a6c" d="M1511 234l-7 1-2-7zM1480 226l-4 9-2-7zM1242 466l-7 0 6-2zM1267 370l-5-4 8-1zM1267 498l-8-4 5-4zM1284 523l7 1 6 5zM1321 297l7-2-1 7zM1267 370l-3 4-4-2zM1342 285l2 5-5-1z"/>
<path fill="#782460" d="M1504 235l-5-1 3-6zM1237 445l5 4-6 5zM1434 239l-2-5 6 0zM1257 480l2-6 2 6zM1247 417l-6-2 1-6zM1242 466l5-4 4 7zM1248 400l-3 5-1-6zM1281 342l-1-7 7 2zM1312 311l4 7-5 3zM1317 315l-1-9 6 2z"/>
<path fill="#6c1e60" d="M1495 227l-11-4 18 5zM1480 226l-6 2 5-5zM1375 252l3-7 5 4zM1259 494l5 9-9 0zM1432 234l2-5 4 5zM1444 235l-5-7 10-2zM1251 380l-6 3 5-6zM1265 506l-7 2 6-5zM1340 274l9 0-5 3zM1260 372l-2-7 4 1zM1338 279l4 6-8-2zM1278 326l8-2-3 5zM1278 326l5 3-8 3zM1311 302l-3-4 7-1zM1308 298l3 4-6 1zM1258 357l8 0-4 9z"/>
<path fill="#782466" d="M1499 234l-4-7 7 1zM1385 255l-10-3 8-3zM1231 452l6-7-1 9zM1229 446l-2-9 8 0zM1242 466l3 9-7 0zM1256 375l3 6-8-1zM1275 334l5 1-4 5zM1258 365l2 7-5-2zM1304 312l6-5 2 4zM1342 285l-3 4-5-6zM1353 279l-4-5 7 0zM1311 302l5 4-6 1z"/>
<path fill="#5a1854" d="M1495 227l-8 1-3-5zM1229 409l-3-5 6 1zM1218 444l3-5 3 7zM1221 439l6-2-3 9zM1236 481l-1 2-4-5zM1254 496l5-2-4 9zM1248 363l7-4 3 6z"/>
<path fill="#725436" d="M1606 388l5-4 3 5z"/>
<path fill="#724e36" d="M1611 384l-1-12 4 17zM1456 490l5 1-5 6zM1444 487l-3 5-4-7zM1448 490l8 0-5 7zM1591 352l-3 2 0-5zM1396 435l-8 0 2-9zM1499 331l-1-6 7 0z"/>
<path fill="#845a3c" d="M1610 372l1 12-3-7zM1604 371l0-6 6 7zM1396 464l-1 2-2-3zM1404 475l4-8 2 7zM1408 467l-6-1 2-3zM1427 480l5 5-7-1zM1399 429l-3 6-6-9zM1591 352l5-4 4 6zM1499 331l3 4-3 2z"/>
<path fill="#6c543c" d="M1603 383l3 5-6 1zM1498 498l-3-8 4 0zM1473 492l-8 3 3-6zM1465 495l-4-4 7-2zM1517 484l8 3 0 2zM1486 495l3-4 2 3zM1417 427l-4 0 3-6z"/>
<path fill="#72543c" d="M1611 384l-8-1 5-6zM1525 487l5-4-5 6zM1588 354l-6 4-2-4zM1439 386l0-3 6-2z"/>
<path fill="#604830" d="M1603 383l8 1-5 4z"/>
<path fill="#d2845a" d="M1610 372l-6-7 4-7zM1381 421l8 0 1 5zM1373 463l0-6 7 5zM1387 468l4 6-7 0zM1454 341l4-4 2 4z"/>
<path fill="#7e5a42" d="M1608 395l-2-7 8 1zM1441 480l3 7-7-2z"/>
<path fill="#c69060" d="M1613 400l-5-5 6-6zM1464 346l4 7-5 2z"/>
<path fill="#1e124e" d="M1172 386l3-17 1 8z"/>
<path fill="#1e0c48" d="M1175 369l7 2-6 6zM1182 371l-7-2 4-4zM1180 358l4 7-5 0zM1176 394l-4 6 0-14zM1175 384l2 3-5-1zM1228 292l4-1-4 6zM1195 335l-3 5-5-4zM1212 302l3-7 6 7zM1221 302l-6-7 8-1zM1244 273l1 8-5-4z"/>
<path fill="#3c1248" d="M1246 497l-16-6 5-1zM1255 313l1-4 2 4z"/>
<path fill="#6c1e4e" d="M1258 469l-7 0 1-7zM1251 469l-4-7 5 0zM1517 243l-3-5 11 7zM1250 454l5 1-3 7zM1397 258l9-3-6 6z"/>
<path fill="#5a1866" d="M1213 415l-7 2 5-8zM1210 423l-4-6 7-2zM1223 478l2 6-9-4zM1363 238l4-4 0 3zM1329 263l3-6 3 6zM1340 254l1 7-9-4zM1301 280l0 4-6 3zM1269 317l-5 2 3-5zM1267 314l-3 5-6-6zM1241 359l-3 5-5-4z"/>
<path fill="#300c5a" d="M1179 446l-7-20 6 7zM1205 336l4 5-8-4zM1202 344l-7-2 6-5zM1180 391l2 9-6-6zM1210 330l2-4 6 5zM1182 406l-9-1 4-5zM1309 237l5-5 3 5zM1256 272l3 8-6-2z"/>
<path fill="#180c36" d="M1218 289l4-3 1 8zM1180 358l-4-1 1-2zM1187 347l-8 1 6-7zM1185 354l-5 4-3-3zM1172 400l-5 7 5-21zM1189 329l-1-4 5-2zM1222 286l6 6-5 2zM1232 284l-10 2 5-8zM1261 258l-9 0 17-8zM1209 297l3 5-4 1zM1190 320l7-3-4 6zM1255 263l-3-5 9 0zM1252 258l-8 6-4 2z"/>
<path fill="#120c30" d="M1213 292l9-6-4 3zM1187 336l-2 5-2-9zM1179 348l6 6-8 1zM1188 325l2-5 3 3zM1188 325l1 4-6 3zM1208 303l-5 5 1-12zM1232 284l-4 8-6-6zM1215 295l-2-3 5-3zM1209 297l-1 6-4-7zM1209 297l6-2-3 7zM1255 263l-6-1 3-4z"/>
<path fill="#5a1e2a" d="M1370 547l7-5 10-4zM1292 450l1-9 5 5z"/>
<path fill="#9c3c42" d="M1393 512l0 12-3-6z"/>
<path fill="#ae6648" d="M1373 495l-6 0 1-4zM1367 435l8-4-3 6zM1515 307l-3 8-6-7zM1576 323l-6 2 5-4zM1384 395l3 5-4 0z"/>
<path fill="#724230" d="M1373 495l1 5-7-5zM1358 463l7-1-4 5zM1572 314l3 7-8-2zM1376 489l1 7-4-1z"/>
<path fill="#96363c" d="M1314 490l7-5 2 7zM1387 529l3-6 0 8zM1555 279l-2 7-5-6z"/>
<path fill="#fcfcc0" d="M1513 456l9 2-6 6zM1512 468l-4-4 8 0zM1518 427l-4 6-3-7z"/>
<path fill="#8a6648" d="M1515 491l2-7 8 5zM1600 377l4-6 4 6zM1422 468l-5 6-4-7zM1448 490l1-6 7 6zM1584 349l4 5-8 0zM1433 386l6 0-1 9z"/>
<path fill="#cc9c6c" d="M1595 426l6 2-3 5zM1454 375l5 8-10-1zM1570 347l-2 7-3-8zM1418 418l-2 3-6-4zM1545 340l4-5 4 9z"/>
<path fill="#c6966c" d="M1607 422l-2-8 6 3zM1469 369l-3-4 10-1z"/>
<path fill="#a8966c" d="M1591 423l5-6-1 9zM1532 471l-5 9 0-11zM1556 369l-1 7-6-6zM1434 445l7-1-3 6zM1589 394l2 5-5 0zM1441 444l5-1-1 9zM1434 456l8 2-5 2z"/>
<path fill="#604e36" d="M1606 388l-4 4-2-3zM1540 468l7 1-2 5z"/>
<path fill="#725a42" d="M1608 395l-6-3 4-4zM1473 492l8-3-3 6zM1461 491l5-6 2 4zM1432 463l-3 4-4-6zM1582 358l-3 6-4-4z"/>
<path fill="#b4a878" d="M1569 438l4 6-7 1zM1481 479l5-7 0 6zM1522 473l-2 8-1-7z"/>
<path fill="#842a66" d="M1509 238l-5-3 7-1zM1514 238l-5 0 2-4zM1247 439l2 7-5-2zM1261 485l5-1-2 6zM1242 466l-1-2 6-2zM1385 255l8 3-6 5zM1266 484l5 5-7 1zM1299 337l-7-1 3-6z"/>
<path fill="#6c1e72" d="M1479 223l-10 0-7-6zM1469 223l-6 0-1-6zM1217 398l2 8-5 0zM1210 434l8-2-5 9zM1230 364l8 0-3 5zM1238 364l0 7-3-2zM1211 445l2-4 5 3zM1327 267l1 5-5 1zM1333 268l-5 4-1-5zM1280 312l2-5 3 5zM1298 296l-8-1 1-3zM1311 278l7 2-4 6zM1341 261l5-6 2 6zM1298 291l0 5-7-4zM1237 353l4 6-8 1z"/>
<path fill="#7e2466" d="M1491 234l4-7 4 7zM1377 258l0 5-4-7zM1440 241l-6-2 4-5zM1261 485l-4-5 4 0zM1256 491l5-6 3 5zM1242 449l0 8-6-3zM1240 441l-3 4-2-8zM1444 235l-4 6-2-7zM1261 485l-9 0 5-5zM1245 475l-3-9 9 3zM1267 370l-7 2 2-6zM1259 494l8 4-3 5zM1268 503l-3 3-1-3zM1283 353l-5-7 8 3zM1339 289l-6 1 1-7zM1292 336l-3 6-2-5zM1290 332l3-8 2 6zM1353 279l-4 6-5-8z"/>
<path fill="#601e4e" d="M1491 234l-4-6 8-1zM1241 415l-4-4 5-2zM1265 506l3-3 3 9z"/>
<path fill="#8a6042" d="M1475 501l3-6 8 6zM1448 490l-4-3 5-3zM1502 335l-3-4 6 0z"/>
<path fill="#606048" d="M1502 456l-5-7 7 1z"/>
<path fill="#360c5a" d="M1334 229l9-2-6 8zM1375 216l-8 1 12-7zM1188 456l7 7-8-2zM1188 456l-7-5 8 0zM1336 241l-8 0 6-6zM1380 215l-5 1 4-6zM1184 422l5 1-3 4zM1226 324l-4 7-3-6zM1202 378l-5-2 2-6zM1181 451l4-7 4 7zM1185 444l2-6 3 5z"/>
<path fill="#481278" d="M1343 227l2 8-8 0zM1211 352l-10-3 7-3zM1235 312l-6 8-2-7zM1202 363l-6 2 3-6zM1211 352l-9 3-1-6zM1201 349l1-5 6 2zM1229 307l6 5-8 1zM1248 295l-2 6-5-4zM1292 256l6 1-1 4zM1287 263l-3-1 3-7zM1284 262l3 5-8 0zM1287 267l-3-5 3 1zM1251 303l-5-2 2-6zM1292 256l6-5 0 6zM1309 250l-5-4 7-1zM1304 246l5 4-6 1zM1268 274l-4 1 2-6zM1268 274l4-8 3 8zM1262 285l-3 6-4-6zM1248 291l4-2-4 6z"/>
<path fill="#300c60" d="M1345 222l-2 5-9 2zM1184 365l5-5 2 5zM1266 269l-7 0 4-6zM1180 391l-3-4 6 0zM1177 387l5-5 1 5zM1189 370l-5-5 7 0zM1317 237l2-4 3 5zM1319 233l8 1-5 4zM1176 394l6 6-5 0zM1283 250l4 5-9 0zM1283 250l6 2-2 3zM1215 321l-3 5-1-8zM1309 237l-5 9-3-8z"/>
<path fill="#8a2a72" d="M1377 263l-8-2 4-5zM1432 234l2 5-6-1zM1241 415l6 2-3 6zM1451 234l3-6 3 6zM1280 335l1 7-5-2zM1306 323l-7 0 5-5zM1328 295l5-5 3 7zM1293 324l6-1-4 7zM1293 324l3-7 3 6zM1262 366l4-9 4 8zM1319 303l2-6 6 5z"/>
<path fill="#8a2a78" d="M1369 261l-5-6 9 1zM1364 255l5 6-8 0zM1474 228l-1 4-5-6zM1454 228l-3 6-2-8zM1420 239l3-7 5 6zM1235 466l-1-6 7 4zM1234 460l-9 0 5-3zM1303 308l-4 7-4-7zM1386 245l7-1-4 6zM1273 346l-4 6-2-6zM1303 308l1 4-5 3zM1350 269l9-3-3 8z"/>
<path fill="#48126c" d="M1393 211l-7-1 21-2zM1361 226l-3-3 7-2zM1211 352l0 7-5 1zM1183 409l7 1-1 4zM1400 212l-7-1 14-3z"/>
<path fill="#5a185a" d="M1372 247l-8-3 3-7zM1373 238l-1 9-5-10zM1218 410l1-4 3 5zM1223 478l2-4 6 4zM1244 358l-3 1 3-4z"/>
<path fill="#c6845a" d="M1383 457l-6-8 9 0zM1382 469l5-1-3 6zM1596 360l4-6 2 3zM1567 329l-9 3 6-7zM1543 324l-8 2 4-6z"/>
<path fill="#d28a5a" d="M1373 457l10 0-3 5zM1402 386l1 6-6 1zM1567 329l3-4 2 7z"/>
<path fill="#c67e5a" d="M1383 457l-10 0 4-8zM1377 449l5-6 4 6zM1387 468l-1-5 7 0z"/>
<path fill="#e4d89c" d="M1472 463l4 0-4 5z"/>
<path fill="#180c3c" d="M1175 369l1-12 3 8zM1176 357l4 1-1 7zM1185 354l-6-6 8-1zM1189 329l-2 7-4-4zM1235 275l0 5-8-2zM1285 246l9-8-1 7zM1187 336l5 4-7 1zM1235 280l-3 4-5-6zM1228 292l4-8 0 7zM1215 295l3-6 5 5zM1197 317l-7 3 5-7zM1244 273l-9 2 5-9zM1199 314l-2-5 6-1zM1197 309l2 5-4-1zM1240 266l4-2 4 5zM1244 264l5-2-1 7zM1255 263l-2 5-4-6z"/>
<path fill="#240c4e" d="M1184 365l-2 6-3-6zM1185 354l4 6-9-2zM1177 387l-1 7-4-8zM1190 352l-5 2 2-7zM1182 382l-7 2 1-7zM1329 229l-2 5-6-7zM1329 229l16-7-11 7zM1192 340l3-5 0 7zM1245 281l-1-8 6 0zM1245 281l-7 3 2-7zM1253 268l3 4-6 1z"/>
<path fill="#240c54" d="M1189 360l-5 5-4-7zM1182 382l-5 5-2-3z"/>
<path fill="#421254" d="M1241 324l-5 7-3-5zM1206 475l8-2-4 8zM1413 217l-2 5-3-6zM1284 275l3 2-4 8zM1293 266l5 6-7 1z"/>
<path fill="#240c48" d="M1172 400l4-6 1 6zM1171 410l2-5 5 7zM1171 410l-3 7-3-6zM1175 417l-5 5-2-5zM1228 292l0 5-5-3zM1201 337l-6-2 3-3zM1205 329l0 7-7-4zM1232 291l6-7 1 8zM1259 269l-4-6 8 0zM1289 252l-4-6 8-1zM1253 268l2-5 4 6zM1253 268l-3 5-2-4z"/>
<path fill="#24124e" d="M1175 384l-3 2 4-9zM1193 323l7 2-2 7zM1271 254l4-4 3 5zM1261 258l6-3-4 8zM1240 277l-2 7-3-4zM1283 250l-8 0 10-4zM1305 235l-4 3-1-3z"/>
<path fill="#3c0c4e" d="M1211 378l-6-9 7 1zM1413 217l-2-5 10 6zM1411 212l2 5-5-1z"/>
<path fill="#360c4e" d="M1212 370l-7-1 5-4zM1195 473l0-3 3 4zM1202 463l-7 7 0-7zM1187 438l2-5 4 6zM1199 382l-4-2 2-4zM1205 383l-6-1 3-4z"/>
<path fill="#300c4e" d="M1205 369l-3 9-3-8zM1367 217l-4 1 16-8zM1328 241l-1-7 7 1zM1189 433l-5 1 2-7zM1222 331l-4 0 1-6zM1182 441l3 3-6 2zM1187 438l-3-4 5-1zM1187 438l-2 6-3-3z"/>
<path fill="#3c0c54" d="M1202 378l3-9 6 9zM1370 229l-5-8 8 0zM1324 246l6 3-7 1zM1330 249l-6-3 4-5zM1202 463l2 7-9 0zM1190 443l-3-5 6 1z"/>
<path fill="#9c306c" d="M1268 469l6 6-10-3zM1495 240l-4-6 8 0zM1274 475l-6 5-4-8zM1437 244l8-1-4 9zM1495 240l-9-2 5-4zM1375 272l-1 7-4-5zM1397 266l-3-3 6-2zM1288 369l-6-3 6-1zM1358 291l-3 4-3-3zM1299 337l4 4-7 1zM1262 400l3-7 3 6zM1276 376l7 0-3 6zM1338 313l-4 1 2-5zM1265 393l8 0-5 6z"/>
<path fill="#54126c" d="M1202 480l11 3 5 9zM1193 418l6-1-2 5zM1205 398l-4-6 7 2zM1199 441l-2 2-4-4z"/>
<path fill="#48125a" d="M1213 483l7 3-2 6zM1220 486l3 4-5 2zM1216 480l4 6-7-3zM1403 218l-3-6 8 4zM1371 232l-4 2 3-5zM1269 309l-8 0 6-8zM1261 309l8 0-2 5zM1202 463l5-1-3 8zM1416 222l-3-5 8 1zM1254 324l-9-1 4-4zM1301 280l-3-8 4 1z"/>
<path fill="#721e78" d="M1257 511l-6-11 4 3zM1361 252l-2-6 5-2zM1396 229l6-3-4 6zM1437 220l-3 9-2-9zM1398 220l4 6-6 3zM1260 326l4-7 3 5zM1262 331l-2-5 7-2z"/>
<path fill="#78247e" d="M1246 497l5 3 6 11zM1217 398l4-5 1 5zM1221 393l3-5 4 4zM1224 388l5 0-1 4zM1346 255l4 1-2 5zM1257 329l3 8-8 0zM1262 331l-2 6-3-8zM1249 343l8-1-4 7zM1257 342l3-5 3 6zM1257 342l-8 1 3-6z"/>
<path fill="#962a60" d="M1270 456l-7 1 2-7zM1316 537l8-1 5 2zM1503 246l-3-5 9-3zM1272 461l3 7-7 1zM1448 252l-3-9 8 4zM1277 479l1 6-6 0zM1273 393l5-1-4 9z"/>
<path fill="#782454" d="M1249 446l9 0-5 5zM1254 441l4 5-9 0zM1380 267l4 0-3 5zM1384 267l-3-3 6-1zM1255 455l3 6-6 1zM1258 461l0 8-6-7zM1445 243l3-4 5 8zM1283 513l1-6 5 5zM1292 349l-1 5-5-5z"/>
<path fill="#601e48" d="M1254 475l-3-6 7 0zM1247 452l2-6 4 5zM1303 527l2 3-8-1zM1296 526l7 1-6 2z"/>
<path fill="#4e184e" d="M1222 456l-7 2 4-7zM1225 424l-8-3 1-4zM1219 406l7-2-4 7zM1250 492l4 4-8 1zM1251 500l3-4 1 7zM1215 460l5 0-4 8zM1215 458l-2-6 6-1zM1243 366l2 6-7-1z"/>
<path fill="#9c3084" d="M1232 428l-1-5 6-1zM1254 394l-9 1 3-7zM1242 393l3 2-1 4zM1296 317l3-2 5 3z"/>
<path fill="#78246c" d="M1233 414l-2 9-4-5zM1230 399l5-1-3 7zM1235 398l4 6-7 1zM1245 383l6-3-3 8zM1280 335l-5-1 0-2zM1349 274l1-5 6 5zM1350 269l-1 5-2-5z"/>
<path fill="#842a78" d="M1231 423l2-9 4 8zM1242 388l3-5 3 5zM1330 284l3-3 1 2zM1320 290l1 7-6 0z"/>
<path fill="#240c42" d="M1173 405l-1-5 5 0zM1171 410l4 7-7 0zM1175 417l-4-7 7 2z"/>
<path fill="#1e063c" d="M1172 426l8 0-2 7zM1170 422l9 1-7 3zM1179 423l-9-1 5-5z"/>
<path fill="#3c123c" d="M1218 417l4-6 5 7zM1248 363l-5 3 1-8zM1249 354l-1 9-4-5z"/>
<path fill="#842478" d="M1225 428l7 0-4 7zM1360 256l4-1-3 6zM1242 393l-10 1 4-6zM1232 394l10-1-7 5zM1404 233l4 6-6-1zM1233 472l-8-3 7-1zM1269 340l6-6 1 6zM1273 346l-4-6 7 0zM1293 324l-7 0 5-7zM1264 355l-5-9 8 0z"/>
<path fill="#902a7e" d="M1225 428l6-5 1 5zM1234 460l1 6-3 2zM1245 395l-3-7 6 0zM1393 244l2-4 2 4zM1296 317l-2-3 5 1zM1310 307l-6 5-1-4zM1321 297l4-7 3 5z"/>
<path fill="#3c0c60" d="M1187 461l8 2-3 5zM1367 217l-2 4-2-3zM1202 363l3 6-6 1zM1181 418l2-9 6 5zM1181 451l7 5-1 5zM1327 234l1 7-6-3zM1328 241l8 0-4 3zM1217 340l-8 1 4-7zM1220 336l-3 4-4-6zM1328 241l-4 5-2-8zM1184 422l-3-4 8-4zM1182 406l1 3-5 3zM1197 376l-3-7 5 1z"/>
<path fill="#2a0c54" d="M1228 297l-7 5 2-8zM1187 347l5-7 1 9zM1192 340l3 2-2 7zM1177 387l3 4-4 3zM1321 227l-2 6-2-4zM1327 234l-8-1 2-6zM1314 232l5 1-2 4zM1200 325l5 4-7 3zM1289 252l-6-2 2-4zM1256 272l-3 6-3-5zM1253 278l-8 3 5-8zM1238 284l6-1-5 9zM1245 281l-1 2-6 1zM1298 251l-9 1 4-7zM1300 246l-2 5-5-6zM1250 286l-6-3 1-2zM1250 286l-5-5 8-3z"/>
<path fill="#4e1272" d="M1345 235l-3 2-5-2zM1384 220l-4-5 6-5zM1238 312l-2 7-1-7zM1187 405l3 5-7-1zM1190 443l5 6-6 2zM1195 449l2 7-8-5zM1293 266l-6 1 0-4zM1287 267l-3 8-5-8zM1350 227l2 5-7 3zM1252 289l7 2-2 7zM1308 257l1-7 2 7zM1274 285l-5-2 4-2z"/>
<path fill="#5a1878" d="M1342 237l2 7-6-1zM1227 357l-6 3 2-6zM1200 429l-8-3 5-4zM1192 426l8 3-3 6zM1367 234l-7 1 1-9zM1221 360l-5-9 7 3zM1216 351l5-3 2 6zM1240 337l-8 1 4-7zM1316 262l-6 1 1-6zM1271 291l0 5-5-5zM1298 272l2-4 2 5zM1271 291l3-6 4 5z"/>
<path fill="#300c54" d="M1334 235l0-6 3 6zM1183 409l-2 9-3-6zM1205 336l5-6 3 4zM1173 405l9 1-4 6z"/>
<path fill="#782442" d="M1389 285l-5 7-4-6zM1287 462l6-2-6 9zM1311 521l-6-1 5-7zM1307 509l-4 6-2-8z"/>
<path fill="#72243c" d="M1384 292l-4-2 0-4zM1319 361l4-6 4 5zM1293 472l-2 7-5-5zM1287 462l2-8 4 6zM1333 348l4 5-10-1zM1291 395l-4-6 9-2z"/>
<path fill="#902a54" d="M1380 290l-3 4-6-3zM1422 273l-4-5 5-2zM1376 285l4 5-9 1zM1286 474l-5-6 6 1zM1413 264l10-2-5 6zM1278 416l0 4-7-5zM1456 255l-2-6 8 1zM1293 496l-8 1 6-6z"/>
<path fill="#9c3054" d="M1377 294l3 1-1 5zM1463 258l4-8 4 5zM1392 289l-5 8-3-5zM1351 326l-6 1-2-6zM1296 397l-5-2 8-1z"/>
<path fill="#963054" d="M1380 290l0 5-3-1zM1278 462l7-5 2 5zM1462 250l5 0-4 8zM1531 256l2 6-6 0zM1456 255l6-5 1 8zM1427 261l6 6-10-1zM1297 489l-4 7-2-5z"/>
<path fill="#842a48" d="M1380 295l0-5 4 2zM1292 450l-3 4-4-3zM1286 487l5-3 0 7zM1296 387l4-3 1 4zM1351 326l0-8 4 2z"/>
<path fill="#ae3660" d="M1374 301l3-7 2 6zM1279 439l7-1-5 8zM1446 255l5 1-4 8zM1323 355l-4 6-4-6zM1374 301l-6-4 9-3zM1322 342l5 0-2 6zM1357 314l-2 6-5-5zM1456 255l-3 7-2-6zM1347 335l-2-8 5 2zM1278 420l7-6-2 8zM1289 398l7-1-2 9zM1286 406l3-8 5 8zM1288 411l-4-1 2-4z"/>
<path fill="#784e36" d="M1451 497l5-7 0 7zM1393 495l-9 2 6-7zM1391 474l4-8 3 8zM1386 483l-4 9-3-6zM1386 483l-3-3 6 1zM1444 487l4 3-7 2z"/>
<path fill="#d87e5a" d="M1436 492l5 0 4 3zM1555 313l-6-2 5-1zM1420 352l-2 8-2-5z"/>
<path fill="#7e4830" d="M1441 492l-5 0 1-7zM1356 469l2-6 3 4zM1420 484l5 0-5 6z"/>
<path fill="#ae3c54" d="M1366 544l4 3-7 1zM1305 449l-6 2-1-5zM1299 451l6-2-2 6zM1330 366l2-6 4 3zM1303 468l-5-1 0-6zM1332 360l5-7 0 6z"/>
<path fill="#f08460" d="M1377 509l4 4-5 2zM1358 438l2-4 3 6zM1360 486l1-8 2 9zM1360 422l5-5 5 3z"/>
<path fill="#c6724e" d="M1377 509l-3-9 6 4zM1379 407l-4-8 8 1zM1404 372l-4 3-1-5zM1387 400l-3 5-1-5z"/>
<path fill="#c66c4e" d="M1381 513l-3 5-2-3zM1358 452l-2-9 7 4zM1585 329l5-4 1 4zM1361 454l-3 9-4-6zM1515 307l-5-5 7 0zM1408 353l-3 7-4-7zM1478 314l-7 1 4-9zM1471 315l-5-9 9 0z"/>
<path fill="#662a24" d="M1378 518l9 0-6 7z"/>
<path fill="#72362a" d="M1387 518l-9 0 3-5zM1361 515l-2-7 4-1zM1341 472l2-6 2 9z"/>
<path fill="#c0724e" d="M1383 508l-6 1 3-5zM1590 337l-5-8 6 0zM1361 454l4-2 2 5zM1377 429l-2 2-3-5zM1375 431l2-2 5 5zM1515 307l3 6-6 2zM1521 308l-3 5-3-6zM1500 309l-2 5-3-5zM1431 349l3-7 2 5z"/>
<path fill="#b46648" d="M1377 509l6-1-2 5zM1368 446l-5 1 0-7zM1367 435l5 2-9 3zM1365 462l5 4-9 1zM1356 469l5-2-4 5zM1399 370l-3-4 6 0zM1580 318l-4 5-1-2zM1404 372l-5-2 3-4zM1442 331l6-1-4 7zM1434 342l-7 0 5-4zM1432 338l-5 4-1-6zM1463 313l8 2-3 2z"/>
<path fill="#7e3630" d="M1347 520l2-6 4 3zM1334 426l1 6-7-3zM1354 515l6 3-7-1zM1335 432l-7 3 0-6zM1500 286l8-2-3 7zM1334 397l6-4 1 5zM1324 473l7 4-8 1zM1398 494l3-5 9 1zM1338 428l-3 4-1-6z"/>
<path fill="#b44248" d="M1390 531l0-8 3 1zM1400 308l0 7-6-8zM1343 514l-6 7 0-8zM1337 387l-7 8-1-8zM1330 395l-6-2 5-6zM1566 296l2-6 4 5zM1469 280l-1-8 8 1zM1322 422l-3 8-1-7z"/>
<path fill="#a83c48" d="M1387 518l3 5-9 2zM1312 495l6 3-2 3zM1313 485l-6-5 7 0zM1360 341l4-4 3 3zM1357 532l6 5-7-1zM1320 395l-7-3 9-3zM1334 525l-3-6 6 2zM1500 272l-5-3 7-1zM1308 423l10 0-7 5zM1352 361l-4 5-4-8zM1307 438l6 3-5 3zM1565 286l-1 6-4-6zM1305 428l3-5 3 5z"/>
<path fill="#a83c42" d="M1393 524l-3-1 0-5zM1376 342l-9-2 4-4zM1308 423l9-5 1 5z"/>
<path fill="#843c30" d="M1390 523l-3-5 3 0z"/>
<path fill="#722a36" d="M1370 547l1-6 6 1zM1507 264l1 3-6 1zM1316 512l7 0-3 6z"/>
<path fill="#66242a" d="M1371 541l3-4 3 5zM1374 537l9 1-6 4z"/>
<path fill="#722a30" d="M1374 537l-3 4-2-4zM1325 495l-7 3 5-6zM1318 498l7-3-3 6z"/>
<path fill="#60242a" d="M1371 541l-5 3 3-7zM1308 433l-1 5-4-4z"/>
<path fill="#782a36" d="M1366 544l5-3-1 6zM1308 433l5 8-6-3z"/>
<path fill="#782a30" d="M1377 542l6-4 4 0zM1366 544l-3-7 6 0zM1308 433l9 2-4 6zM1317 435l-9-2 3-5z"/>
<path fill="#963642" d="M1318 498l4 3-6 0zM1354 531l-6 6-1-7z"/>
<path fill="#9c3642" d="M1318 498l-4-8 9 2zM1383 538l4-9 0 9zM1400 302l0 6-6-1zM1322 389l5-7 2 5zM1324 393l-2-4 7-2zM1429 295l-4-3 7-3z"/>
<path fill="#a23648" d="M1318 498l-6-3 2-5zM1425 292l-4-6 5-2zM1392 314l-5-7 7 0zM1387 307l4-5 3 5zM1471 269l-3 3-2-5zM1324 517l-1-5 4 0z"/>
<path fill="#b4424e" d="M1321 485l-8 0 1-5zM1313 485l8 0-7 5zM1327 382l5 1-3 4zM1354 531l3 1-1 4zM1342 526l-8-1 3-4zM1426 284l9 0-3 5z"/>
<path fill="#ae3c4e" d="M1312 495l-4-4 6-1zM1305 449l-7-3 6-1zM1327 382l-5 7-2-7zM1421 286l-2 6-4-9zM1307 438l1 6-4 1zM1495 269l7-6 0 5zM1341 353l3-4 0 9zM1343 365l-6-6 7-1zM1343 365l-7-2 1-4zM1372 326l-3-9 6 4z"/>
<path fill="#c64854" d="M1308 491l5-6 1 5zM1332 383l5 4-8 0zM1456 278l-3-4 6-2zM1367 350l-10-4 3-5zM1406 303l1 6-7-1zM1306 475l8-3 0 8zM1308 444l5-3-2 8zM1435 284l3-4 5 3z"/>
<path fill="#ae4248" d="M1314 472l6 1-6 7zM1387 529l3 2-3 7zM1400 308l5 6-5 1zM1323 478l-2 7-7-5zM1553 286l2-7 5 7zM1468 272l3-3 5 4zM1407 309l-2 5-5-6zM1393 321l-1-7 8 1zM1443 283l6 3-3 6zM1318 423l1 7-8-2zM1349 527l-7-1 5-6z"/>
<path fill="#fc6060" d="M1324 456l-7 2 2-9zM1345 369l5 6-7 3zM1353 369l-3 6-5-6z"/>
<path fill="#cc4e4e" d="M1317 458l7-2-6 4zM1516 280l-4-2 0-5zM1566 296l-2-4 4-2z"/>
<path fill="#f05a60" d="M1317 458l-6-9 8 0zM1317 418l-3-6 6-1z"/>
<path fill="#de4e5a" d="M1311 449l6 9-7 0zM1353 349l4-3 4 6zM1386 326l-5-5 8-3zM1313 441l5 4-7 4z"/>
<path fill="#722436" d="M1298 446l0-7 6 6zM1545 274l8-1-5 7zM1319 508l-3 4-2-4zM1341 536l-1-5 7-1z"/>
<path fill="#969672" d="M1508 455l-6 1 2-6zM1524 440l8-1-5 6zM1535 438l4 7-5 0zM1524 440l-5 4-3-6zM1519 444l-7-3 4-3z"/>
<path fill="#e4dea8" d="M1522 458l1 5-7 1zM1528 457l-5 6-1-5zM1508 464l-5-1 5-8zM1491 426l5 2-2 5zM1497 440l-7-1 4-6zM1481 443l5 1 0 8zM1481 457l-3-6 8 1zM1528 412l-6-6 9 0z"/>
<path fill="#7e6c4e" d="M1588 429l3-6 4 3zM1578 440l1 7-6-3zM1568 452l-3-1 1-6zM1469 484l-2-4 7 0zM1467 480l-1 5-7-1zM1469 484l-3 1 1-5zM1477 486l4 3-8 3zM1477 486l-8-2 5-4zM1525 361l-5 2-3-3z"/>
<path fill="#665a42" d="M1591 423l-3 6 0-7zM1580 433l7 0-4 4zM1540 468l5 6-9 0zM1587 433l-4-7 5 3zM1525 487l-5-6 7-1zM1591 399l6 4-6 2zM1597 403l-6-4 8 1z"/>
<path fill="#784230" d="M1602 349l-2-6-1-14zM1358 463l-2 6-6-5zM1401 489l-1-5 4-1z"/>
<path fill="#8a4e36" d="M1600 343l-5-5 4-9z"/>
<path fill="#904e36" d="M1595 338l-4-9 8 0zM1400 361l5-1-3 6z"/>
<path fill="#7e6042" d="M1601 421l4-7 2 8zM1426 412l5-6 5 3zM1408 435l-2-9 7 1z"/>
<path fill="#b4966c" d="M1605 414l-4 7-5-4zM1561 366l-6-2 3-4zM1571 372l3-7 1 6zM1471 380l4-5 4 7zM1600 409l-3-6 4 2zM1480 377l8 0-2 6z"/>
<path fill="#ba9066" d="M1601 428l0-7 6 1zM1449 395l-2-7 6-2zM1444 391l-1 9-5-5zM1406 457l6-5 3 3zM1416 421l-9 3 3-7zM1478 358l5 1-3 6z"/>
<path fill="#b49c6c" d="M1596 417l5 4-6 5zM1454 478l5 2 0 4z"/>
<path fill="#7e6648" d="M1601 421l0 7-6-2zM1486 495l-5-6 8 2zM1477 486l-4 6-5-3zM1534 342l7-1-4 6zM1432 416l-7 1 1-5zM1425 417l1 6-5-1zM1531 359l-6 2 2-6z"/>
<path fill="#846c48" d="M1541 480l4-6 7-2zM1595 381l8 2-3 6z"/>
<path fill="#66543c" d="M1545 474l-4 6-5-6zM1530 483l-5 4 2-7zM1499 484l7-4-3 6zM1535 478l-5 5-3-3zM1541 480l-6-2 1-4z"/>
<path fill="#90724e" d="M1547 469l6-2-1 5zM1605 414l2-3 4 6zM1415 455l5 7-8 0zM1444 487l3-7 2 4zM1541 341l1 8-5-2zM1413 427l-6-3 9-3zM1425 417l-4-7 5 2z"/>
<path fill="#7e6048" d="M1545 474l2-5 5 3z"/>
<path fill="#604e3c" d="M1547 469l3-7 3 5z"/>
<path fill="#6c5a42" d="M1550 462l-3 7-3-7zM1560 454l-2 7-5-5zM1499 484l4 2-4 4zM1593 432l-5-3 7-3zM1599 400l-2-7 5-1zM1599 400l-8-1 6-6z"/>
<path fill="#c09c6c" d="M1591 440l-12 7 4-10zM1425 426l1-3 3 3z"/>
<path fill="#907254" d="M1573 444l6 3-4 5zM1525 361l-5-6 7 0z"/>
<path fill="#a88a60" d="M1566 456l2-4 7 0zM1449 484l5-6 5 6zM1424 449l-4 8-2-8zM1520 355l3-8 4 8z"/>
<path fill="#8a7854" d="M1573 444l-5 8-2-7zM1597 393l-6-4 9 0zM1459 480l5-5 3 5zM1496 481l3 3-4 6zM1437 460l5-2 3 3z"/>
<path fill="#786648" d="M1568 452l5-8 2 8zM1512 486l2-7 3 5zM1469 484l8 2-9 3zM1561 370l5-4-1 9zM1579 364l-5 1 1-5zM1574 365l-3-7 4 2z"/>
<path fill="#726042" d="M1558 461l-8 1 3-6zM1560 454l5-3 1 5zM1495 490l4-6 0 6z"/>
<path fill="#786048" d="M1550 462l8-1-5 6zM1430 455l2 8-7-2z"/>
<path fill="#ae9066" d="M1553 467l5-6-6 11zM1449 484l-2-4 7-2zM1568 354l-4 6-5-8zM1480 377l-5-2 2-4zM1515 354l5 1-3 5zM1517 360l3 3-7 1z"/>
<path fill="#dedea8" d="M1513 456l2-6 7 8zM1502 432l0 6-8-5zM1502 426l7 7-7-1zM1502 426l5-5 4 5zM1518 433l4-6 5 5zM1528 421l-9-1 4-4z"/>
<path fill="#b4ae84" d="M1555 444l0-3 6 5zM1528 457l2-5 4 5zM1555 444l-6-6 6 3zM1548 446l1-8 6 6zM1481 457l8-1-7 5zM1559 400l-2 3-5-4zM1544 416l-8 2 4-9zM1562 432l3 6-10 3zM1511 416l4-5 1 4z"/>
<path fill="#7e2460" d="M1514 238l-3-4 14 11zM1381 264l4-9 2 8zM1451 234l2 5-5 0zM1444 235l7-1-3 5zM1272 495l-5 3-3-8zM1291 524l5 2 1 3zM1292 349l-3-7 7 0zM1355 285l-2-6 6 1zM1344 290l5-5 3 7z"/>
<path fill="#8a2a5a" d="M1510 243l-7 3 6-8zM1510 243l7 0-5 7zM1258 446l1 4-6 1zM1258 422l6-2-4 8zM1384 281l-7-1 4-8zM1278 472l-1 7-3-4zM1457 243l2-3 4 6zM1462 250l-5-7 6 3zM1423 262l-3-6 3 1zM1265 416l6-1-7 5zM1457 243l-3 6-1-2zM1278 485l-4 4-2-4zM1268 399l4 5-7 2zM1294 360l5-2-4 5zM1299 358l-5 2 2-5zM1268 399l6 2-2 3zM1283 376l5-7 3 6zM1288 384l-5-8 8-1zM1273 393l1 8-6-2z"/>
<path fill="#78245a" d="M1510 243l4-5 3 5zM1385 255l-4 9-4-6zM1242 457l8-3-3 8zM1445 243l-1-8 4 4zM1291 354l-8-1 3-4zM1389 250l4 8-8-3zM1322 308l5-1-1 7zM1289 342l3-6 4 6zM1317 315l5-7 0 9z"/>
<path fill="#842460" d="M1514 238l-4 5-1-5zM1459 240l-6-1 4-5zM1247 417l4-7 2 8zM1271 489l1 6-8-5z"/>
<path fill="#a2308a" d="M1457 234l2-6 7 4z"/>
<path fill="#902a78" d="M1459 228l9-2-2 6zM1359 266l4 8-7 0zM1420 239l-8 7 1-8zM1266 357l3-5 5 7zM1299 315l5-3 0 6z"/>
<path fill="#72246c" d="M1479 223l-5 5-5-5zM1226 404l4-5 2 6zM1231 423l-6 1 2-6zM1222 435l3-7 3 7zM1434 229l5-1-1 6zM1333 281l-5-9 6-1zM1271 331l1-4 3 5z"/>
<path fill="#842472" d="M1474 228l-6-2 1-3zM1237 434l-2 3-7-2zM1259 494l-3-3 8-1zM1235 466l-2 6-1-4zM1248 388l3-8 3 6zM1239 404l-4-6 9 1zM1333 290l-3-6 4-1zM1269 352l-3 5-2-2zM1278 346l-5 0 3-6zM1266 357l-8 0 6-2z"/>
<path fill="#a23072" d="M1429 247l8-3-4 6zM1258 433l-6 2 0-6zM1263 469l5 0-4 3zM1258 422l-6 7-2-6zM1476 235l4 5-5 0zM1374 279l-9 0 5-5zM1266 484l2-4 4 5zM1486 232l0 6-6 2zM1288 365l-6 1 2-7zM1336 309l4-7 3 4zM1313 324l4-1-3 6zM1363 284l-4-4 6-1zM1271 382l5-6 4 6z"/>
<path fill="#a8307e" d="M1459 240l-2-6 9-2zM1365 279l-2-5 7 0zM1424 245l-1 4-3-3zM1424 245l3 6-4-2zM1247 439l-3-5 8 1zM1248 429l-4 5-3-6zM1252 429l-4 0 2-6zM1340 302l-6 1 2-6zM1310 332l-7 0 3-9zM1275 366l-3 6-2-7zM1263 386l-2 8-7-8z"/>
<path fill="#a83072" d="M1459 240l9-2-5 8zM1252 435l6-2 0 6zM1258 422l2 6-8 1zM1268 480l9-1-5 6zM1374 279l-5 5-4-5zM1343 306l-3-4 5-2zM1317 334l-3 1 0-6zM1369 284l-6 0 2-5z"/>
<path fill="#a23078" d="M1468 238l-9 2 7-8zM1434 239l3 5-8 3zM1423 249l-10 2 7-5zM1374 267l1 5-5 2zM1409 256l0-7 4 2zM1409 256l-3-1 3-6zM1244 434l4-5 4 6zM1303 332l-4 5-4-7zM1334 303l6-1-4 7zM1313 324l-3 8-4-9zM1281 372l-9 0 3-6zM1261 394l2-8 2 7zM1271 382l-5 1 4-9z"/>
<path fill="#ba3678" d="M1437 254l0-10 4 8zM1397 275l-5-8 5-1zM1304 335l10 5-4 3zM1351 300l4-5 4 7z"/>
<path fill="#ba367e" d="M1437 244l0 10-4-4zM1260 428l-2 5-6-4zM1263 435l-5-2 2-5zM1423 249l4 2-4 6zM1355 295l3-4 2 5zM1349 295l2 5-6 0zM1349 295l6 0-4 5zM1314 335l-4-3 4-3zM1270 388l3 5-8 0z"/>
<path fill="#782448" d="M1542 266l0-2 8 4zM1384 281l5 4-9 1zM1277 479l9-5-2 7zM1380 290l-4-5 4 1zM1337 319l1-6 5 8zM1287 389l1-5 4 0z"/>
<path fill="#ba3c5a" d="M1560 286l-5-7 10 1zM1294 477l5-3 4 5zM1298 467l5 1-4 6zM1453 262l9 2-5 3zM1450 268l3-6 4 5zM1356 330l-2 8-4-9zM1312 381l-2 7-5-7z"/>
<path fill="#8a2a42" d="M1542 266l3 8-3 0zM1358 323l7 3-5 3zM1310 388l-6 4-3-4zM1333 348l6 0-2 5z"/>
<path fill="#7e2442" d="M1545 274l-3-8 8 2zM1303 515l4-6 3 4z"/>
<path fill="#963042" d="M1545 274l-3 5 0-5zM1431 279l-5 5 0-3zM1298 433l7-5-2 6z"/>
<path fill="#8a303c" d="M1542 279l3-5 3 6zM1426 284l-5 2 5-5zM1348 537l6-6 2 5zM1316 501l3 7-5 0zM1323 512l-4-4 5-1z"/>
<path fill="#f6725a" d="M1516 289l8 0-4 7zM1347 404l3 7-7 0zM1350 411l-6 4-1-4zM1344 415l6-4 2 4zM1341 450l-9 0 5-3zM1341 478l5 6-7 2zM1346 484l-6 5-1-3z"/>
<path fill="#d2ba84" d="M1452 473l1-4 3 5zM1454 478l-2-5 4 1zM1571 372l3 4-4 4zM1508 377l5-1-1 7z"/>
<path fill="#966c48" d="M1498 498l1-8 4 6zM1584 349l4-6 0 6zM1588 343l-4 6-5-8z"/>
<path fill="#d29666" d="M1498 498l5-2-17 5zM1553 332l5 0-1 5zM1505 341l-3-6 8 2z"/>
<path fill="#b47e5a" d="M1491 494l7 4-12 3zM1396 435l1 4-4-1z"/>
<path fill="#6c4e36" d="M1495 490l3 8-7-4zM1478 495l8 0 0 6zM1413 467l-5 0 4-5zM1596 348l-5 4-3-3z"/>
<path fill="#968460" d="M1467 480l4-5 3 5zM1441 444l4 8-7-2zM1433 452l1 4-4-1zM1434 456l-1-4 5-2z"/>
<path fill="#96845a" d="M1495 490l-6 1 0-8zM1433 452l1-7 4 5z"/>
<path fill="#786042" d="M1489 491l6-1-4 4zM1587 433l4 7-8-3zM1565 451l3 1-2 4zM1481 489l5 6-8 0zM1429 467l-7 1 3-7z"/>
<path fill="#421260" d="M1375 216l5 4-7 1zM1236 331l-6 1 3-6zM1217 340l3-4 4 6zM1236 319l2-7 4 7zM1197 388l4 4-6 3zM1189 423l4-5 4 4zM1197 456l5 7-7 0z"/>
<path fill="#3c0c5a" d="M1367 217l8-1-2 5zM1195 470l0 3-3-5zM1336 241l-2-6 3 0zM1229 320l7-1-3 7zM1188 456l9 0-2 7zM1197 456l-9 0 1-5zM1330 249l-2-8 4 3zM1408 216l-8-4 7-4zM1226 324l3-4 4 6zM1193 418l-4 5 0-9zM1189 423l-5-1 5-8z"/>
<path fill="#360c54" d="M1365 221l2-4 6 4zM1195 463l0 7-3-2zM1218 331l2 5-7-2zM1192 388l5 0-2 7zM1218 331l4 0-2 5zM1195 380l2 8-5 0z"/>
<path fill="#601e6c" d="M1364 244l-1-6 4-1zM1423 220l9 0-5 6z"/>
<path fill="#6c1e7e" d="M1356 239l7-1 1 6zM1219 383l5 5-7 1zM1210 434l-3 5-5-6zM1273 302l6-1-2 6zM1230 364l-2 6-4-5zM1238 341l1 7-7 1zM1229 354l8-1-4 7zM1310 273l-4 7-4-7zM1243 342l-4 6-1-7zM1246 336l-3 6-3-5z"/>
<path fill="#902a72" d="M1374 267l-5-6 8 2zM1434 239l-5 8-1-9zM1476 235l-3-3 1-4zM1244 434l-4 7-3-7zM1402 250l-8 1 3-7zM1408 239l4 7-7 0zM1279 359l-5 0 3-6zM1273 346l5 0-1 7zM1328 295l6 8-7-1zM1304 312l8-1-8 7zM1359 280l-6-1 3-5z"/>
<path fill="#421266" d="M1393 211l-4 7-3-8zM1202 363l4-3 4 5zM1205 369l-3-6 8 2zM1380 215l0 5-5-4zM1192 426l-3 7-3-6zM1189 423l3 3-6 1zM1220 336l2-5 4 3zM1197 388l2-6 5 7z"/>
<path fill="#481266" d="M1370 229l-9-3 4-5zM1332 244l4-3 2 2zM1336 241l6-4-4 6zM1206 360l5-1-1 6zM1220 336l6-2-2 8zM1336 249l-6 0 2-5zM1238 312l10 1-6 6zM1201 392l-4-4 7 1zM1400 212l-5 5-2-6zM1287 267l6-1-2 7zM1199 382l6 1-1 6z"/>
<path fill="#842466" d="M1377 258l4 6-4-1zM1266 484l-5 1 0-5zM1486 232l-10 3 4-9zM1278 346l5 7-6 0zM1312 311l-1 10-7-3z"/>
<path fill="#721e60" d="M1375 252l2 6-4-2zM1370 251l5 1-2 4zM1252 485l9 0-5 6zM1311 302l-1 5-5-4z"/>
<path fill="#72245a" d="M1375 252l10 3-8 3zM1249 446l-7 3 2-5zM1453 239l-2-5 6 0zM1237 445l3-4 4 3zM1252 406l-1 4-6-5zM1248 400l4 6-7-1zM1292 336l-2-4 5-2zM1353 279l2 6-6 0zM1316 306l1 9-5-4zM1344 290l-2-5 7 0zM1316 306l3-3 3 5z"/>
<path fill="#54186c" d="M1427 217l-4 3-2-2zM1210 387l4-4 3 6zM1200 449l-3-6 5 4zM1250 308l5 5-7 0zM1243 330l-3 7-4-6zM1200 449l-5 0 2-6zM1256 309l-1 4-5-5zM1288 284l-3 7-2-6zM1398 220l-3-3 8 1zM1271 296l0-5 7-1z"/>
<path fill="#b47854" d="M1388 445l-4-7 9 0zM1599 364l3-7 2 8zM1388 457l9 0-4 6z"/>
<path fill="#ea9066" d="M1389 421l-8 0 4-5zM1423 365l-5-5 8-2z"/>
<path fill="#d88a60" d="M1381 421l9 5-6 3zM1585 329l5 8-7 0zM1390 417l-1 4-4-5zM1386 463l2-6 5 6zM1572 332l4-9 4 6zM1458 337l6 0-4 4zM1538 314l4 1-3 5zM1447 351l-8 1 7-3zM1419 369l1 8-7-1z"/>
<path fill="#ba7e54" d="M1395 466l-8 2 6-5zM1510 325l-5 6 0-6zM1590 337l-2 6-5-6zM1491 336l-2-4 6-3zM1452 346l4 0-4 9z"/>
<path fill="#f68460" d="M1358 438l-2 5-4-3zM1356 443l2 9-7-3zM1389 376l1-7 4 8zM1358 438l-5-6 7 2zM1372 509l5 0-1 6zM1360 416l5 1-5 5zM1389 376l-3-8 4 1zM1380 378l6-10 3 8zM1446 320l6-1-1 6zM1482 315l-3-6 6-3z"/>
<path fill="#e47e5a" d="M1363 447l-7-4 7-3zM1498 304l-3 5-6-6zM1418 347l-8 3 3-6zM1425 346l-7 1 5-6zM1448 330l-3-4 6-1z"/>
<path fill="#fc8a66" d="M1356 443l2-5 5 2zM1361 478l-5 2 1-8zM1356 443l-6 1 2-4zM1528 296l-5 6-3-6zM1445 326l-3 5-6-8z"/>
<path fill="#d27254" d="M1358 452l-4 5-3-8zM1375 399l4 8-6-2zM1410 350l-2 3-3-6z"/>
<path fill="#ae6c48" d="M1373 457l0 6-6-6zM1375 431l3 6-6 0zM1391 474l-2 7-5-7zM1404 475l-2 5-4-6zM1409 486l-3-7 9-2zM1602 357l-2-3 8 4zM1376 489l-6-5 9 2z"/>
<path fill="#9c5a42" d="M1373 463l-8-1 2-5zM1402 480l4-1-2 4zM1365 462l-4-8 6 3zM1443 340l-9 2 4-5z"/>
<path fill="#cc3c72" d="M1400 274l10-2-4 6zM1414 275l-3 3-1-6zM1279 428l-1-8 5 2zM1310 366l-3 5-4-4z"/>
<path fill="#d24278" d="M1398 280l2-6 6 4zM1437 254l4 6-5 2zM1274 435l5-7 3 5zM1483 245l6 6-8-1z"/>
<path fill="#de6654" d="M1437 312l3-6 3 7zM1365 520l5 3-8 0zM1485 291l-6 7-1-8zM1472 296l-3-6 9 0zM1424 314l5 3-6 4zM1402 340l-5-6 6 3zM1376 366l-5 3-2-3zM1344 496l3 8-5-2zM1365 370l6-1-2 9z"/>
<path fill="#ea6c54" d="M1440 306l8 2-5 5zM1396 342l-4 6-4-6zM1344 496l-4-7 11 0z"/>
<path fill="#842a42" d="M1419 281l3-8 4 8zM1292 450l7 1-3 5zM1357 542l9 2-3 4zM1317 523l3-5 4 6zM1316 512l-6 1 4-5zM1536 268l6-2 0 8zM1369 317l-4 9-3-6z"/>
<path fill="#a8365a" d="M1419 281l-5-6 8-2zM1394 286l-2 3-3-4zM1357 314l8-1-3 7zM1501 252l4-3-2 6zM1293 496l4-7 1 8zM1327 342l6 6-8 0zM1291 395l5-8 3 7z"/>
<path fill="#cc4266" d="M1414 275l5 6-4 2zM1483 255l-4 2 2-7zM1402 283l5 2 0 4zM1354 338l-7-3 3-6zM1312 381l-1-4 5 0zM1287 428l4 6-9-1z"/>
<path fill="#cc4260" d="M1407 289l6 2-4 6zM1407 285l6 6-6-2zM1324 369l-7 0 5-4zM1384 306l-1 7-6-5zM1400 297l7-8 2 8zM1400 297l-4-2 2-6zM1347 343l7-5 2 2zM1303 492l-5-8 8 1zM1306 405l-5 0 0-4z"/>
<path fill="#90303c" d="M1425 292l1-8 6 5zM1324 393l-4 2 2-6zM1305 428l3 5-5 1z"/>
<path fill="#b4a278" d="M1471 475l7-3-4 8zM1464 406l1 8-4-2zM1457 429l5 4-8 0zM1475 422l-2-6 4 0zM1442 458l3-6 3 2z"/>
<path fill="#c0b484" d="M1478 472l-7 3 1-7zM1495 467l-5 5-3-6zM1545 392l-6 8-2-8zM1579 398l7 1-4 7zM1471 429l4-7 2 5zM1492 417l-6-7 6-1zM1458 460l8 0-4 6zM1463 450l3 6-7 1z"/>
<path fill="#d2c696" d="M1476 463l2 9-6-4zM1482 461l0 5-6-3zM1512 468l7 6-7 0zM1574 410l3-4 3 4z"/>
<path fill="#727254" d="M1493 455l4-6 5 7zM1534 445l2 6-6 1zM1539 445l-3 6-2-6zM1515 445l4-1-4 6zM1497 449l4-4 3 5z"/>
<path fill="#9c9672" d="M1482 461l8 0-3 5zM1482 461l7-5 1 5zM1552 421l-1-6 4 1zM1539 445l9 1-4 3zM1565 424l8 0-2 3zM1559 421l-7 6 0-6zM1497 440l4 5-4 4z"/>
<path fill="#3c0c6c" d="M1201 349l-6 6-2-6zM1319 243l-2-6 5 1zM1195 359l1 6-5 0zM1196 365l-2 4-3-4zM1189 370l2 8-6-3zM1224 321l-9 0 6-9zM1215 321l9 0-5 4zM1185 444l-4 7-2-5zM1287 255l-3 7-6-7zM1311 245l-2-8 8 0zM1351 220l-1 7-5-5zM1350 227l-7 0 2-5zM1264 275l-5-6 7 0zM1298 251l-6 5-3-4zM1304 246l5-9 2 8zM1264 275l-5 5-3-8zM1253 278l6 2-4 5zM1298 251l2-5 3 5z"/>
<path fill="#2a0c5a" d="M1205 336l-4 1-3-5zM1237 297l-5-6 7 1zM1232 291l5 6-9 0zM1184 365l5 5-7 1zM1212 326l-6-1 5-7zM1304 246l-4 0 1-8z"/>
<path fill="#541278" d="M1221 348l-4-8 7 2zM1389 218l-5 2 2-10zM1319 243l5 3-1 4zM1187 405l4-5 4 6zM1360 235l-6-6 7-3zM1352 232l2-3 6 6zM1196 401l-5-1 4-5zM1350 227l4 2-2 3zM1251 303l5 6-6-1zM1261 296l-3 7-1-5zM1310 263l-2-6 3 0zM1278 280l-4 5-1-4z"/>
<path fill="#120c2a" d="M1185 341l-6 7 4-16zM1240 266l-5 9-8 3zM1215 295l-6 2 4-5zM1249 262l-5 2 8-6z"/>
<path fill="#1e0c42" d="M1189 329l4-6 5 9zM1173 405l-6 2 5-7zM1171 410l-4-3 6-2zM1167 407l4 3-6 1zM1192 340l-5 7-2-6zM1203 308l5-5 4 4zM1267 255l-6 3 8-8zM1189 329l6 6-8 1zM1232 284l6 0-6 7zM1250 273l-6 0 4-4zM1255 263l6-5 2 5zM1300 235l1 3-7 0zM1249 262l4 6-5 1zM1294 238l6 8-7-1zM1301 238l-1 8-6-8z"/>
<path fill="#360c6c" d="M1195 342l6 7-8 0zM1232 302l-4 1 0-6zM1272 266l-2-2 5-4z"/>
<path fill="#4e1266" d="M1241 324l2 6-7 1zM1375 228l-5 1 3-8zM1210 387l-2 7-4-5zM1205 383l5 4-6 2zM1210 387l-5-4 9 0zM1197 443l-7 0 3-4zM1197 456l3-7 3 5zM1336 249l-4-5 6-1zM1245 323l-2 7-2-6zM1201 392l4 6-10-3zM1208 394l-7-2 3-3zM1230 332l2 6-6-4zM1232 338l-2-6 6-1zM1336 249l-4 8-2-8zM1395 217l5-5 3 6zM1343 251l-7-2 2-6z"/>
<path fill="#3c1272" d="M1237 297l-5 5-4-5zM1195 355l0 4-6 1zM1189 360l6-1-4 6zM1229 307l-1-4 4-1zM1228 303l1 4-4 2zM1185 375l6 3-5 4zM1284 262l-9-2 3-5zM1270 264l2 2-6 3zM1248 291l-7 6-2-5z"/>
<path fill="#4e127e" d="M1237 308l-5-6 9 1zM1213 347l-2 5-3-6zM1209 341l4 6-5-1zM1246 301l-5 7 0-5zM1293 266l-6-3 10-2zM1287 263l5-7 5 5zM1272 266l7 1-4 7zM1309 250l2-5 4 4zM1266 277l2-3 5 7zM1259 280l3 5-7 0z"/>
<path fill="#421278" d="M1232 302l5-5 4 6zM1196 365l-1-6 4 0zM1221 312l4-3 2 4zM1186 382l6 6-9-1zM1225 309l4-2-2 6zM1224 321l-3-9 6 1zM1272 266l3-6 4 7z"/>
<path fill="#4e126c" d="M1226 334l3 9-5-1zM1190 410l3 8-4-4zM1192 426l5 9-8-2zM1190 410l7 0-4 8zM1216 365l-5-6 10 1zM1192 426l-3-3 8-1zM1197 456l-2-7 5 0zM1395 217l-6 1 4-7zM1284 275l-6 5-3-6zM1251 303l7 0-2 6z"/>
<path fill="#6c1e84" d="M1208 394l6 1-3 2zM1246 336l-6 1 3-7zM1273 302l-2-6 6 2zM1318 271l-7-4 8 1zM1311 267l5-5 3 6z"/>
<path fill="#54184e" d="M1226 404l3 5-7 2zM1487 228l-7-2 4-3zM1250 492l2-7 4 6zM1265 506l0 9-7-7zM1238 371l7 1-3 3z"/>
<path fill="#361236" d="M1222 411l7-2-2 9zM1235 483l5 4-5 3zM1245 479l3 6-8 2zM1242 489l6-4 2 7z"/>
<path fill="#4e1848" d="M1229 409l4 5-6 4zM1218 444l6 2-5 5zM1265 515l0-9 6 6z"/>
<path fill="#5a1860" d="M1218 410l-5 5-2-6zM1217 421l-7 2 3-8zM1421 227l2-7 4 6zM1225 474l-2 4-5-3zM1214 429l-8-2 4-4zM1277 320l3-8 1 8z"/>
<path fill="#601866" d="M1214 406l4 4-7-1zM1373 238l-2-6 9 1zM1333 268l-4-5 6 0zM1327 267l-3-6 5 2zM1298 291l-7 1 4-5zM1301 284l-3 7-3-4zM1275 313l-6 4-2-3z"/>
<path fill="#54185a" d="M1218 410l0 7-5-2zM1219 406l-1 4-4-4zM1218 444l-5-3 8-2zM1213 441l5-9 3 7zM1402 226l2-4 3 5zM1212 454l1-2 2 6zM1416 228l0-6 5 5zM1306 280l3 6-8-2zM1280 312l-5 1 2-6zM1241 359l2 7-5-2z"/>
<path fill="#541854" d="M1218 417l0-7 4 1zM1217 421l8 3-3 2zM1220 460l-5-2 7-2zM1218 432l-4-3 8-3zM1249 354l-5 4 0-3z"/>
<path fill="#721e84" d="M1214 395l3 3-6-1zM1214 406l-8-2 5-7zM1206 404l-1-6 6-1zM1359 246l-7 0 4-7zM1204 409l2-5 5 5zM1398 220l-2 9-5-7zM1282 295l-3 6-2-3zM1279 301l-6 1 4-4zM1318 271l-7 7-1-5zM1239 348l-2 5-5-4zM1254 324l3 5-6 1zM1240 337l3 5-5-1zM1249 343l-6-1 3-6z"/>
<path fill="#721e7e" d="M1217 398l-3 8-3-9zM1206 404l8 2-3 3zM1352 246l7 0-5 3zM1396 229l-8-3 3-4zM1350 251l2-5 2 3zM1213 441l-2 4-4-6zM1290 295l-5-4 6 1zM1350 256l0-5 4-2zM1228 370l2-6 5 5zM1318 271l1-3 4 5zM1286 301l-7 0 3-6zM1237 353l2-5 5 7zM1350 256l-4-1 4-4zM1260 326l-3 3-3-5zM1229 375l-5-1 4-4zM1229 375l-1-5 7-1zM1243 342l4 5-8 1zM1252 337l-3 6-3-7z"/>
<path fill="#2a125a" d="M1182 371l3 4-9 2zM1185 354l5-2-1 8zM1202 319l4 6-6 0zM1206 325l-4-6 9-1zM1218 308l-6-6 9 0zM1319 233l-5-1 3-3zM1206 325l-1 4-5-4zM1275 250l8 0-5 5zM1314 232l-9 3 12-6z"/>
<path fill="#420c6c" d="M1196 365l6-2-3 7zM1199 359l3-4 4 5zM1191 378l1 10-6-6zM1197 376l-6 2 3-9z"/>
<path fill="#420c66" d="M1202 363l-3-4 7 1zM1342 237l-6 4 1-6zM1185 444l5-1-1 8z"/>
<path fill="#481260" d="M1214 383l-9 0 6-5zM1380 220l-5 8-2-7zM1427 217l-16-5-4-4zM1411 212l16 5-6 1zM1370 229l-3 5-6-8zM1211 359l5 6-6 0zM1197 435l2 6-6-2zM1216 365l4 7-8-2zM1256 309l2-6 3 6zM1261 309l-3-6 9-2zM1287 277l1 7-5 1z"/>
<path fill="#42125a" d="M1205 383l-3-5 9 0zM1215 377l-4 1 1-8zM1189 433l8 2-4 4zM1216 365l-4 5-2-5zM1278 280l6-5-1 10zM1294 278l-7-1 4-4z"/>
<path fill="#7e247e" d="M1221 393l7-1-6 6zM1324 280l-6 0 5-7zM1233 380l7 4-4 4zM1328 272l-4 8-1-7zM1290 310l-4-9 6 2zM1263 343l-3-6 6-1zM1260 337l2-6 4 5zM1259 346l-2-4 6 1z"/>
<path fill="#661e72" d="M1221 393l-7 2 3-6zM1319 268l8-1-4 6zM1211 445l2 7-5-2zM1207 439l4 6-9 2zM1208 450l4 4-9 0zM1279 301l3 6-5 0zM1260 326l-6-2 3-5zM1346 255l-5 6-1-7zM1306 280l5-2-2 8z"/>
<path fill="#6c1e78" d="M1221 393l-4 5-3-3zM1456 220l-8-5 14 2zM1359 246l-3-7 8 5zM1382 227l6-1-3 7zM1210 434l3 7-6-2zM1285 291l5 4-8 0zM1224 374l4 7-9 2zM1346 255l-3-4 7 0zM1311 278l-5 2 4-7zM1224 374l5 1-1 6z"/>
<path fill="#5a186c" d="M1214 383l5 0-2 6zM1208 394l2-7 4 8zM1206 427l-6 2 2-7zM1203 454l-3-5 2-2zM1230 364l-6 1 3-8zM1285 291l3-7 3 8zM1285 291l-7-1 5-5zM1288 284l6-6 1 9zM1294 278l7 2-6 7z"/>
<path fill="#721e6c" d="M1230 399l-4 5-4-6zM1456 220l7 3-4 5zM1412 232l-8 1 3-6z"/>
<path fill="#782478" d="M1228 392l2 7-8-1zM1393 234l3-5 2 3zM1229 388l3 6-4-2zM1232 394l-2 5-2-7zM1229 388l4-8 3 8zM1434 229l3-9 2 8zM1449 226l-4-6 6 1zM1282 307l8 3-5 2zM1350 256l4 5-6 0zM1238 371l-1 6-2-8zM1298 296l2 6-8 1zM1313 290l-4-4 5 0zM1272 327l-1 4-4-7zM1249 343l4 6-6-2zM1271 331l-9 0 5-7zM1257 342l2 4-6 3z"/>
<path fill="#ae3672" d="M1275 468l-1 7-6-6zM1480 240l-1 4-4-4zM1468 238l3 9-8-1zM1427 251l3 7-7-1zM1317 334l4-3 5 6zM1365 288l4-4 2 7zM1314 335l0 5-10-5zM1303 341l1-6 6 8zM1273 393l3-5 2 4z"/>
<path fill="#b43666" d="M1270 456l5-7 3 6zM1275 449l-4-6 6 3zM1357 314l-1-5 6-2z"/>
<path fill="#a83060" d="M1275 449l-5 7-5-6zM1278 472l3-4 5 6zM1281 468l-3-6 9 0zM1300 384l-3-6 5-3z"/>
<path fill="#360c48" d="M1210 481l3 2-11-3zM1411 212l-3 4-1-8zM1245 323l-4 1 1-5z"/>
<path fill="#240636" d="M1195 473l3 1 4 6z"/>
<path fill="#2a0c36" d="M1198 474l8 1-4 5zM1242 489l4 8-11-7zM1206 475l-2-5 7-2z"/>
<path fill="#300c42" d="M1206 475l4 6-8-1zM1241 324l-5-5 6 0zM1195 470l9 0-6 4zM1230 332l-4-8 7 2zM1284 275l3-8 4 6zM1287 277l-3-2 7-2z"/>
<path fill="#4e1260" d="M1223 490l7 1-12 1zM1210 481l6-1-3 3zM1215 377l-1 6-3-5zM1215 377l4 6-5 0zM1287 277l7 1-6 6zM1298 272l3 8-7-2z"/>
<path fill="#300c36" d="M1230 491l5-8 0 7zM1223 490l2-6 5 7zM1240 487l2 2-7 1z"/>
<path fill="#5a1848" d="M1254 475l3 5-7-1zM1271 512l-3-9 5 7zM1291 524l-7-1 1-2z"/>
<path fill="#4e1842" d="M1245 479l0-4 5 4zM1229 409l8 2-4 3zM1285 521l-1 2-4-3zM1274 513l-3-1 2-2z"/>
<path fill="#421236" d="M1245 475l9 0-4 4zM1274 513l9 0-3 7zM1274 513l0 7-3-8z"/>
<path fill="#4e183c" d="M1254 475l-9 0 6-6zM1279 506l-5 7-1-3zM1274 513l5-7 4 7z"/>
<path fill="#5a184e" d="M1245 475l0 4-7-4zM1245 479l-9 2 2-6zM1228 451l1-5 2 6z"/>
<path fill="#902a5a" d="M1263 457l-4-7 6 0zM1264 420l2 7-6 1zM1510 243l-5 6-2-3zM1413 264l-3 4 0-4zM1294 370l1-7 4 7zM1328 319l3 6-7 1zM1337 319l-6 6-3-6zM1294 370l3 8-6-3zM1343 321l-5-8 8 1zM1272 404l2-3 4 3z"/>
<path fill="#661e48" d="M1259 450l-4 5-2-4zM1247 462l3-8 2 8zM1250 454l-8 3 5-5zM1253 418l-2-8 4 0zM1413 264l-4-8 11 0zM1259 416l-6 2 2-8z"/>
<path fill="#722448" d="M1255 455l4-5 4 7zM1311 523l-6 7-2-3zM1281 494l-3-9 7 6zM1526 252l5 4-6 1zM1288 503l-4 0 1-6z"/>
<path fill="#9c3066" d="M1264 461l-1-4 7-1zM1263 446l-4 4-1-4zM1298 514l-5 4-4-6zM1346 314l-8-1 5-7zM1298 349l3 5-5 1z"/>
<path fill="#902a60" d="M1263 469l1-8 4 8zM1400 261l6-6 4 9zM1328 319l-4 7-2-9zM1262 400l6-1-3 7z"/>
<path fill="#963060" d="M1263 446l-5 0 0-7zM1430 258l-3 3-4-4zM1283 376l5 8-8-2z"/>
<path fill="#a8306c" d="M1259 450l4-4 2 4zM1369 284l5-5 2 6zM1493 246l-7-8 9 2zM1486 238l-3 7-3-5zM1321 331l-4 3-3-5z"/>
<path fill="#8a2a60" d="M1258 446l-4-5 4-2zM1448 239l5 0 0 8zM1375 272l5-5 1 5zM1453 239l4 4-4 4zM1392 267l-8 0 3-4zM1324 326l-7-3 5-6zM1292 349l6 0-2 6zM1303 341l-5 8-2-7z"/>
<path fill="#ae3678" d="M1254 441l-2-6 6 4zM1321 331l-4-8 7 3zM1340 302l3-5 2 3zM1343 297l6-2-4 5zM1272 372l9 0-5 4zM1276 388l-5-6 9 0zM1271 382l5 6-6 0zM1270 388l6 0-3 5z"/>
<path fill="#a83078" d="M1254 441l-7-2 5-4zM1468 238l8-3-1 5zM1343 297l-3 5-4-5zM1288 369l-7 3 1-6zM1334 314l-7-7 9 2zM1261 394l4-1-3 7zM1276 376l-5 6-1-8z"/>
<path fill="#902a6c" d="M1247 439l7 2-5 5zM1434 239l6 2-3 3zM1367 266l7 1-4 7zM1261 480l-2-6 5-2zM1279 359l4-6 1 6zM1240 441l4-7 3 5zM1406 255l-4-5 7-1zM1393 258l-4-8 5 1zM1268 503l-1-5 5-3zM1252 406l-4-6 10-2zM1282 366l-7 0 4-7zM1316 318l-3 6-2-3zM1349 295l-5-5 8 2z"/>
<path fill="#661e5a" d="M1231 478l2-6 5 3zM1227 437l2 9-5 0zM1231 452l-2-6 8-1zM1283 329l-3 6-5-3zM1303 298l5 0-3 5zM1319 303l-8-1 4-5z"/>
<path fill="#5a183c" d="M1250 454l-3-2 6-1zM1526 252l-6 0 5-7zM1264 412l-5 4-4-6zM1296 526l5-6 2 7z"/>
<path fill="#601e42" d="M1255 455l-5-1 3-3zM1520 252l-3-9 8 2zM1283 513l-4-7 5 1zM1301 520l-5 6-3-8z"/>
<path fill="#722466" d="M1235 437l-8 0 1-2zM1228 451l3 1-1 5zM1378 245l8 0-3 4zM1256 375l-5 5-1-3zM1260 372l-4 3-1-5zM1338 279l-5 2 1-10z"/>
<path fill="#722454" d="M1247 452l-5-3 7-3zM1384 267l-4 0 1-3zM1394 263l-1-5 4 0zM1397 258l-4 0 1-7zM1251 410l1-4 3 4zM1278 502l-10 1 4-8zM1316 318l1-3 5 2z"/>
<path fill="#6c1e54" d="M1242 449l-5-4 7-1zM1259 474l-5 1 4-6zM1491 234l-5-2 1-4zM1289 342l3 7-6 0zM1317 315l-1 3-4-7z"/>
<path fill="#842a72" d="M1232 428l5 6-9 1zM1230 457l1-5 5 2zM1386 245l3 5-6-1zM1281 342l-3 4-2-6z"/>
<path fill="#240642" d="M1181 418l-6-1 3-5zM1181 418l-2 5-4-6z"/>
<path fill="#661e7e" d="M1210 423l-8-1 4-5zM1205 398l3-4 3 3zM1238 341l-6 8-3-6zM1352 246l-3-9 7 2zM1388 226l-4-6 7 2zM1207 439l-8 2 3-8zM1204 409l-5-6 7 1zM1246 336l-3-6 8 0z"/>
<path fill="#601e5a" d="M1225 424l-7-7 9 1zM1225 424l0 4-3-2zM1222 435l5 2-6 2zM1236 481l-5-3 7-3zM1264 503l-6 5-3-5zM1254 496l-4-4 6-1zM1432 234l-9-2 4-6zM1224 446l4 5-9 0zM1250 377l-5 6-3-8zM1245 372l5 5-8-2zM1340 269l0 5-6-3zM1338 279l2-5 4 3zM1315 297l-7 1 5-8zM1256 353l-7 1 4-5z"/>
<path fill="#782472" d="M1225 428l0-4 6-1zM1468 226l-5-3 6 0zM1459 228l4-5 5 3zM1361 252l9-1-6 4zM1372 247l-2 4-6-7zM1386 245l-8 0 2-5zM1225 460l0 9-5-9zM1303 308l-3-6 5 1zM1300 302l3 6-8 0zM1275 334l-6 6-3-4zM1271 331l4 3-9 2zM1350 269l-3 0 1-8zM1256 353l3-7 5 9z"/>
<path fill="#481248" d="M1214 429l3-8 5 5zM1215 460l-3-6 3 4zM1243 366l-2-7 3-1z"/>
<path fill="#48124e" d="M1217 421l-3 8-4-6zM1216 468l-2 5-3-5zM1254 496l-3 4-5-3zM1212 454l3 6-8 2zM1275 313l-6-4 8-2z"/>
<path fill="#4e1854" d="M1218 417l-1 4-4-6zM1411 222l5 6-9-1zM1277 320l-2-7 5-1z"/>
<path fill="#661e66" d="M1225 428l-3 7 0-9zM1378 245l-5-7 7 2zM1222 435l-4-3 4-6zM1218 432l4 3-1 4zM1404 233l-2-7 5 1zM1258 508l7 7-8-4zM1220 460l5 9-9-1zM1328 272l5-4 1 3zM1281 320l-1-8 5 0zM1243 366l-5 5 0-7zM1307 292l2-6 4 4zM1272 327l-5-3 2-7zM1277 320l-5 7-3-10zM1308 298l-5 0 4-6z"/>
<path fill="#6c1e66" d="M1227 437l-5-2 6 0zM1373 238l5 7-6 2zM1434 229l-2 5-5-8zM1228 451l2 6-8-1zM1245 383l-5 1 2-9zM1412 232l4-4 0 5zM1347 269l-7 5 0-5zM1349 274l-9 0 7-5zM1278 326l-1-6 4 0zM1272 327l6-1-3 6z"/>
<path fill="#420c72" d="M1237 297l4 0 0 6zM1195 355l7 0-3 4zM1195 359l0-4 4 4zM1202 344l7-3-1 5zM1229 320l-5 1 3-8zM1311 245l6-8 2 6zM1298 251l5 0-5 6zM1272 266l-4 8-2-5zM1266 277l-7 3 5-5zM1248 291l0 4-7 2z"/>
<path fill="#36126c" d="M1241 297l-4 0 2-5zM1195 355l-5-3 3-3zM1228 303l-3 6-4-7zM1182 382l3-7 1 7zM1270 264l-4 5-3-6z"/>
<path fill="#5a187e" d="M1349 237l-7 0 3-2zM1342 237l7 0-5 7zM1241 308l9 0-2 5zM1352 232l-3 5-4-2zM1318 258l-3-9 8 1zM1315 249l3 9-7-1zM1205 398l-9 3-1-6zM1191 400l5 1-1 5zM1304 266l-2-5 8 2zM1269 283l2 8-5 0z"/>
<path fill="#ba3c60" d="M1377 308l-3-7 5-1zM1291 434l-5 4-4-5zM1453 262l-3 6-3-4zM1370 315l-1 2-4-4zM1525 268l-4-7 6 1zM1311 377l2-6 3 6z"/>
<path fill="#cc724e" d="M1375 399l-2 6-5-6zM1521 308l-6-1 2-5zM1363 490l0-3 5 4zM1408 353l2-3 6 5zM1408 353l4 7-7 0zM1479 309l-1 5-3-8z"/>
<path fill="#cc6c4e" d="M1436 323l-3 9-4-7zM1357 427l-4 5 0-6zM1581 324l-1-6 6 2zM1405 347l3 6-7 0zM1377 381l3-3 5 4z"/>
<path fill="#cc604e" d="M1355 398l4 7-6-2zM1512 292l-7-1 7-5zM1413 325l6 4-6 2zM1336 478l5 0-2 8zM1381 364l-5 2 1-7zM1365 383l-3 3-2-4zM1444 301l9 3-5 4z"/>
<path fill="#f06c5a" d="M1341 406l6-2-4 7zM1485 291l2-8 2 9zM1527 285l4 7-7-3zM1424 314l6-6 3 6zM1429 317l-5-3 9 0zM1344 496l-5-1 1-6z"/>
<path fill="#d86054" d="M1347 404l-6 2 0-8zM1328 458l4-8 2 7zM1559 295l-7 0 5-3zM1531 292l-4-7 7-2zM1365 370l-1 7-5-5z"/>
<path fill="#e46c54" d="M1350 411l-3-7 6-1zM1341 444l-2-5 5 1zM1441 318l-4-6 6 1zM1413 337l-4-7 4 1zM1346 484l-5-6 4-3zM1370 518l3 7-3-2zM1343 455l-2-5 3 0zM1479 298l-7-2 6-6zM1497 290l-3 6-5-4zM1371 382l-6 1 4-5z"/>
<path fill="#e4845a" d="M1370 420l2 6-5 1zM1370 420l6 2-4 4zM1542 315l-4-9 10 0zM1536 304l-2 4-3-6zM1418 347l2 5-4 3zM1457 325l-1 6-5-6z"/>
<path fill="#9c307e" d="M1254 394l-6-6 6-2zM1374 267l-7-1 2-5zM1244 423l-3 5-4-6zM1367 266l-4 8-4-8zM1241 415l3 8-7-1zM1424 245l-4-6 8-1zM1389 250l4-6 1 7zM1306 323l-3 9-4-9zM1259 381l4 5-9 0z"/>
<path fill="#b4366c" d="M1268 435l-2-8 8 0zM1271 443l4 6-10 1zM1427 261l3-3 6 4zM1281 468l-3 4-3-4zM1314 340l8 2-4 5zM1311 353l1-4 3 6zM1299 358l5 0-1 9zM1301 354l10-1-7 5z"/>
<path fill="#902a66" d="M1253 418l5 4-8 1zM1509 238l-9 3 4-6zM1380 267l-5 5-1-5zM1274 489l-3 0 1-4zM1271 489l3 0-2 6zM1292 349l4 6-5-1zM1313 324l3-6 1 5z"/>
<path fill="#664830" d="M1461 491l4 4-9 2z"/>
<path fill="#846648" d="M1459 484l2 7-5-1zM1420 462l0-5 5 4zM1541 341l-4-4 7-1zM1435 398l-4 8-3-8z"/>
<path fill="#9c543c" d="M1420 490l9 0 7 2zM1405 360l-5 1 1-8zM1367 504l5 5-9-2zM1400 484l2-4 2 3zM1356 469l-6 5-1-6zM1510 302l-6-1 3-4zM1562 315l4-8 6 7z"/>
<path fill="#722a2a" d="M1389 513l4-1-3 6z"/>
<path fill="#844230" d="M1387 518l2-5 1 5zM1343 466l1-2 5 4zM1360 393l4-1-3 7z"/>
<path fill="#8a3036" d="M1389 513l-2 5-6-5z"/>
<path fill="#72302a" d="M1383 508l6 5-8 0zM1548 290l-1 5-5-4zM1323 478l8-1-6 9zM1331 477l-7-4 6 0z"/>
<path fill="#663c2a" d="M1374 500l-7 4 0-9z"/>
<path fill="#903c36" d="M1347 520l-4-6 6 0zM1541 284l4 0-3 7zM1388 504l3 4-8 0zM1376 342l5 0-5 4zM1370 530l8 0-4 7z"/>
<path fill="#c04848" d="M1338 509l5 5-6-1zM1319 437l7 1-5 5z"/>
<path fill="#90363c" d="M1343 514l4 6-10 1zM1329 491l-4 4-2-3zM1317 398l3-3 4 5zM1545 284l-4 0 1-5zM1553 286l-8-2 3-4zM1435 284l8-1-6 8z"/>
<path fill="#a23c42" d="M1324 507l-2-6 7 2zM1400 315l-8-1 2-7zM1347 520l-5 6-5-5zM1429 295l8-4-2 7zM1380 336l-4 6-5-6zM1371 348l-4 2 0-10zM1342 526l7 1-2 3zM1327 512l-4 0 1-5zM1497 279l3-7 5 9zM1435 284l2 7-5-2z"/>
<path fill="#c04854" d="M1390 523l-3 6-6-4zM1482 267l-3 8-1-7z"/>
<path fill="#cc544e" d="M1331 497l4 6-6 0zM1435 306l-5 2 3-4zM1541 284l-3 5-4-6zM1557 292l-4-6 7 0zM1329 443l-3-5 6 0zM1367 350l3 4-5 4zM1512 278l4 2-4 6zM1385 337l6-2-3 7zM1564 292l-7 0 3-6z"/>
<path fill="#ae4842" d="M1325 486l8-2-4 7zM1405 323l-3-2 5 0zM1435 298l4 3-6 3zM1446 296l-4-1 4-3zM1341 389l6-8 4 6zM1357 526l-8 1 4-10zM1367 532l3-2-1 7zM1383 353l-6 2-1-9zM1377 355l-7-1 1-6zM1377 355l-3 3-4-4zM1334 422l4 6-4-2z"/>
<path fill="#7e3030" d="M1325 486l4 5-6 1zM1321 485l4 1-2 6zM1389 513l2-5 2 4zM1500 272l9 2-4 7z"/>
<path fill="#ba5448" d="M1333 484l3-6 3 8zM1505 291l3-7 4 2zM1405 323l8 2-4 5zM1352 380l2 8-3-1zM1357 526l3-8 2 5zM1497 290l-4-4 7 0zM1384 358l-7-3 6-2zM1341 421l-3 7-4-6zM1566 296l3 6-4-1zM1466 297l-9 5 6-7z"/>
<path fill="#a84242" d="M1331 497l-6-2 4-4zM1402 321l-9 0 7-6zM1439 301l-4-3 7-3zM1323 434l5 1-2 3zM1500 286l-3-7 8 2zM1322 422l6 1 0 6zM1319 430l3-8 6 7zM1319 437l4-3 3 4zM1317 418l5 4-4 1z"/>
<path fill="#ba4848" d="M1325 495l6 2-2 6zM1335 503l-4 5-2-5zM1541 284l-6-5 7 0zM1429 295l6 3-9 3zM1449 286l2 3-5 3zM1393 321l9 0-3 4zM1370 354l-3-4 4-2zM1341 389l-4-2 0-5zM1449 286l4-2-2 5zM1322 422l2-4 4 5zM1317 418l7 0-2 4z"/>
<path fill="#9c3c3c" d="M1322 501l3-6 4 8zM1320 473l3 5-9 2zM1442 295l-5-4 9 1zM1376 342l-5 6-4-8zM1330 395l0 3-6 2zM1437 291l6-8 3 9z"/>
<path fill="#c04254" d="M1308 491l-2-6 7 0zM1308 444l-3 5-1-4zM1303 455l2-6 5 9zM1476 273l-5-4 7-1zM1471 269l3-7 4 6zM1419 292l2-6 4 6zM1508 267l9 0-5 6zM1344 349l6 3-6 6zM1358 337l6 0-4 4zM1357 346l-10-3 9-3zM1357 346l-4 3-6-6zM1372 326l4 5-8-2zM1306 475l1 5-4-1zM1495 269l1 2-5-4zM1314 407l-6-8 9-1z"/>
<path fill="#de7254" d="M1350 474l1 7-6-6zM1494 296l4 8-9-1zM1350 486l6 5-5-2zM1482 302l7-5 0 6zM1386 368l1-1 3 2zM1387 367l9-1-6 3z"/>
<path fill="#ae5a42" d="M1349 468l1 6-5 1zM1590 325l4-2-3 6zM1547 295l-3 6-5-4zM1428 329l-4-5 5 1zM1419 329l0 8-6-6z"/>
<path fill="#ea5a60" d="M1317 458l-5 3-2-3zM1319 404l6 2-5 5zM1352 361l3-6 3 5zM1345 369l-2 9-3-8z"/>
<path fill="#d24e54" d="M1312 461l5-3 1 2zM1337 387l-5-4 5-1zM1314 472l2-6 4 7zM1479 275l-1 5-2-7zM1529 278l6 1-1 4zM1463 283l-7-5 7 1zM1478 280l-9 0 7-7z"/>
<path fill="#d24860" d="M1307 480l-1 5-3-6zM1568 290l-3-4 0-6zM1303 492l3-7 2 6zM1302 410l4-5 3 6z"/>
<path fill="#c64254" d="M1306 485l1-5 6 5zM1392 314l-9-1 4-6zM1493 263l2 6-4-2zM1377 326l-5 0 3-5z"/>
<path fill="#b44e42" d="M1332 463l-4-5 6-1zM1538 289l3-5 1 7zM1413 325l-8-2 2-2zM1439 301l5 0-4 5zM1446 296l-2 5-2-6zM1334 417l7 4-7 1zM1569 302l-3-6 6-1z"/>
<path fill="#c04e48" d="M1324 456l0 6-6-2zM1328 458l-4 4 0-6z"/>
<path fill="#c04e4e" d="M1324 462l-3 4-3-6z"/>
<path fill="#9c423c" d="M1321 466l3-4 3 6zM1381 342l4 6-9-2zM1347 507l-4 7-5-5zM1347 507l6 1-4 6zM1337 466l-7 7-3-5zM1402 321l3 2-6 2zM1328 423l6 3-6 3zM1582 314l-4 0 3-8zM1573 308l-4-6 6-1z"/>
<path fill="#964236" d="M1324 462l8 1-5 5zM1385 348l-2 5-7-7zM1345 394l3 3-7 1zM1362 386l-2 7-6-5z"/>
<path fill="#a84842" d="M1324 462l4-4 4 5zM1332 463l5 3-10 2zM1360 518l-3 8-4-9z"/>
<path fill="#661e36" d="M1293 472l-7 2 1-5zM1317 523l-6-2 9-3zM1289 454l3-4 4 6zM1337 537l-4-7 7 1zM1337 537l4-1 9 7z"/>
<path fill="#8a2a48" d="M1292 450l-7 1 3-6zM1326 529l-7 0 5-5zM1380 295l7 2-8 3zM1387 297l0 4-8-1zM1293 460l5 7-11 2zM1516 258l-1 5-4-8zM1351 326l4-6 3 3z"/>
<path fill="#cc485a" d="M1305 461l-2-6 7 3zM1572 295l-4-5-3-10zM1358 337l2 4-4-1zM1377 315l4 6-6 0zM1410 302l-4 1 3-6z"/>
<path fill="#de4e60" d="M1312 461l-7 0 5-3zM1453 274l3 4-4 2zM1327 382l4-5 1 6zM1406 303l-6-6 9 0zM1306 475l-3-7 7-2zM1517 267l8 1-6 5z"/>
<path fill="#c6485a" d="M1305 449l3-5 3 5z"/>
<path fill="#ea5466" d="M1305 449l6 0-1 9zM1491 267l-3 6-6-6z"/>
<path fill="#846042" d="M1603 383l-3-6 8 0zM1408 467l-4-4 8-1zM1545 331l4 4-5 1zM1541 329l4 2-1 5zM1588 354l-4-5 4 0zM1446 378l3 4-4-1zM1439 383l4-6 2 4zM1406 426l-5 8-2-5z"/>
<path fill="#ae7854" d="M1599 364l5 1 0 6zM1464 346l-1 9-7-9zM1464 346l5 0-1 7z"/>
<path fill="#c0ba8a" d="M1507 467l5 7-6 1zM1572 417l-7 7-3-9zM1536 403l-1-6 4 3zM1535 411l1-8 4 6zM1561 409l-9 2 5-8zM1552 411l9-2-6 7zM1545 392l2-4 2 3zM1554 432l8 0-7 9z"/>
<path fill="#d2cc9c" d="M1523 463l-2 5-5-4zM1561 409l1 6-7 1zM1496 428l-5-2 2-5zM1490 439l7 1-5 3zM1519 420l-3-5 7 1z"/>
<path fill="#ccc690" d="M1521 468l2-5 4 6zM1489 456l-8 1 5-5zM1563 395l-4 5-1-5zM1546 397l-2 7-5-4zM1466 460l9-3-3 6z"/>
<path fill="#8a7e5a" d="M1532 471l1-3 3 6zM1533 468l7 0-4 6zM1520 481l2-8 5 7zM1464 428l-3-4 7-4zM1474 412l8-1-5 5zM1449 463l9-3-5 9z"/>
<path fill="#baae7e" d="M1533 468l-1 3-5-2zM1486 472l4 0-4 6zM1577 406l2-8 3 8zM1486 410l-2 8-2-7zM1466 460l-8 0 1-3z"/>
<path fill="#787254" d="M1549 391l9 4-6 4zM1549 391l5-3 4 7zM1583 426l-8 2 4-4zM1583 426l-4-2 9-2zM1519 405l-6-4 8-1z"/>
<path fill="#a2966c" d="M1574 435l-1 9-4-6zM1486 472l-5 7-3-7zM1464 475l2-7 5 7zM1586 399l5 0 0 6zM1473 416l2 6-7-2zM1458 460l4 6-9 3zM1456 449l7 1-4 7z"/>
<path fill="#cc664e" d="M1591 329l3-6 5 6zM1355 398l6 1-2 6zM1364 405l-3-6 7 0zM1544 301l3-6 1 8zM1512 292l1 6-6-1zM1528 296l4-1-1 7zM1532 295l7 2-8 5zM1399 349l6-2-4 6zM1356 491l-3 4-2-6z"/>
<path fill="#ba5a42" d="M1594 323l-4 2-4-5zM1500 296l-3-6 8 1zM1580 318l2-4 4 6z"/>
<path fill="#fcba7e" d="M1614 406l-1-6 1-11zM1402 409l-3 5-4-5zM1404 438l-4 7-3-6zM1420 407l-8-1 7-7zM1422 386l-6 7-2-7zM1525 334l-6 3 0-9zM1519 337l-7-5 7-4zM1512 332l7 5-9 0zM1570 336l1 7-5-2zM1418 381l4 5-8 0zM1519 337l-4 4-5-4z"/>
<path fill="#d2a26c" d="M1607 411l4-2 0 8z"/>
<path fill="#f6ba7e" d="M1614 406l-3-1 2-5zM1557 337l3 6-7 1zM1563 336l-3 7-3-6zM1499 349l-7-6 8 1z"/>
<path fill="#eaae78" d="M1611 405l3 1-3 3zM1449 370l6-5 2 6zM1529 342l-4-8 4 2zM1484 348l5 0 0 6z"/>
<path fill="#ba8a60" d="M1607 411l4-6 0 4zM1417 474l5-6 1 4zM1549 335l4-3 4 5zM1396 435l5-1-4 5z"/>
<path fill="#a88460" d="M1611 405l-4 6-6-6zM1416 421l2-3 3 4zM1527 355l-4-8 5 1zM1426 423l-1-6 7-1z"/>
<path fill="#908a66" d="M1579 424l4-8 5 6zM1536 451l6 5-8 1zM1547 456l3-5 3 5zM1575 428l-2-4 6 0zM1501 468l-2-4 4-1zM1562 432l0-3 4 3zM1458 460l-4-4 5 1zM1522 406l-3-1 2-5zM1512 404l3 7-9 0zM1511 416l-6 0 1-5z"/>
<path fill="#b49666" d="M1600 409l7 2-2 3zM1475 375l5 2-1 5zM1421 433l-4-6 8-1z"/>
<path fill="#e4ba84" d="M1607 411l-7-2 1-4zM1582 371l3-7 5 5zM1463 395l-7-1 4-6zM1454 398l-5 0 0-3zM1510 360l-8-1 6-4zM1496 364l1-6 2 5zM1421 433l-1 8-4-9z"/>
<path fill="#d8ba84" d="M1600 409l5 5-9 3zM1457 405l7 1-3 6zM1438 416l1 6-4 0zM1470 392l7-1-2 7z"/>
<path fill="#baa278" d="M1592 411l8-2-4 8zM1449 469l0-6 4 6zM1525 375l-6 0 6-4z"/>
<path fill="#8a8460" d="M1542 456l-4 5-4-4zM1565 438l1-6 3 6zM1499 464l2 4-6-1zM1464 437l-8 3 6-7zM1461 445l2 5-7-1z"/>
<path fill="#908466" d="M1538 461l4-5 2 6z"/>
<path fill="#6c6042" d="M1547 469l-7-1 4-6zM1566 366l5 6-6 3z"/>
<path fill="#7e7854" d="M1540 468l-2-7 6 1zM1590 418l-4-8 6 1zM1451 452l2-6 3 3z"/>
<path fill="#9c906c" d="M1538 461l2 7-7 0zM1575 415l8 1-4 8zM1558 449l-8 2 5-7zM1559 388l5-7 2 5zM1497 475l-1 6-6-9zM1506 411l-6-2 3-5zM1482 411l2 7-7-2zM1453 446l-2-8 5 2z"/>
<path fill="#7e6c48" d="M1579 447l-1-7 5-3z"/>
<path fill="#9c8a66" d="M1574 435l4 5-5 4zM1597 403l3 6-8 2zM1474 412l-6 0 2-8z"/>
<path fill="#726048" d="M1578 440l2-7 3 4zM1466 485l3-1-1 5zM1574 365l-3 7-5-6z"/>
<path fill="#72664e" d="M1578 440l-4-5 6-2zM1558 377l6 4-8 2z"/>
<path fill="#a89c72" d="M1565 451l-4-5 5-1zM1464 428l-7 1 4-5zM1547 388l7 0-5 3zM1473 432l-7 0 5-3zM1473 432l-1 5-6-5zM1445 452l6 0-3 2z"/>
<path fill="#967e54" d="M1558 461l2-7 6 2z"/>
<path fill="#f69c6c" d="M1585 329l-2 8-3-8zM1376 466l-3-3 7-1zM1428 354l3 6-5-2z"/>
<path fill="#8a5436" d="M1590 337l1-8 4 9zM1446 340l-3 0 1-3zM1412 360l2 6-7-1z"/>
<path fill="#7e785a" d="M1547 456l-5 0 2-7zM1542 456l5 0-3 6zM1566 432l8 3-5 3z"/>
<path fill="#786c4e" d="M1550 462l-3-6 6 0zM1583 416l7 2-2 4zM1590 418l2-7 4 6zM1558 449l2 5-7 2zM1550 451l8-2-5 7zM1506 480l-7-1 7-4zM1499 479l7 1-7 4zM1532 471l3 7-8 2zM1564 381l-5 7-3-5zM1451 452l5-3-2 7z"/>
<path fill="#6c6648" d="M1547 456l3 6-6 0zM1591 405l6-2-5 8zM1468 412l6 0-1 4z"/>
<path fill="#66664e" d="M1534 445l-4 7-3-7z"/>
<path fill="#cccc9c" d="M1515 450l8 2-1 6zM1509 433l-7-7 9 0z"/>
<path fill="#90906c" d="M1530 452l-7 0 4-7zM1489 456l4-1-3 6zM1546 409l-2-5 4 2zM1551 415l1-4 3 5zM1548 406l-2-9 6 2z"/>
<path fill="#f0eaae" d="M1523 452l5 5-6 1zM1478 451l3-8 5 9z"/>
<path fill="#baba8a" d="M1528 457l-5-5 7 0zM1542 433l-7-5 8 0zM1544 416l4 4-8 1zM1509 433l3 8-10-3zM1505 416l2 5-7-1z"/>
<path fill="#c6c696" d="M1508 455l4-3 1 4zM1512 441l-3-8 5 0z"/>
<path fill="#c0c090" d="M1512 452l3-2-2 6zM1548 434l-6-1 1-5zM1535 428l5-7 3 7zM1535 428l0 6-8-2zM1502 438l-5 2-3-7zM1514 433l4 0-2 5zM1500 420l2 6-6 2zM1519 420l-5 1 2-6z"/>
<path fill="#a8a87e" d="M1512 452l-4 3-4-5zM1552 427l-4 7-5-6zM1549 438l-1 8-6-9zM1535 434l0 4-3 1z"/>
<path fill="#7e2a36" d="M1502 263l5 1-5 4zM1313 392l7 3-3 3zM1298 433l5 1-5 5z"/>
<path fill="#60186c" d="M1448 215l8 5-5 1zM1371 232l4-4 5 5zM1210 434l-4-7 8 2zM1445 220l3-5 3 6zM1230 364l-3-7 6 3zM1324 261l3 6-8 1zM1332 257l9 4-6 2zM1398 220l6 2-2 4zM1264 319l-4 7-3-7z"/>
<path fill="#661e6c" d="M1463 223l-7-3 6-3zM1226 404l-7 2 3-8zM1238 364l-8 0 3-4zM1213 452l-1 2-4-4zM1267 324l-3-5 5-2zM1241 359l-4-6 7 2zM1307 292l-9-1 3-7z"/>
<path fill="#601e60" d="M1480 226l-1-3 5 0zM1423 232l-2-5 6-1zM1340 269l-7-1 2-5zM1341 261l6 8-7 0zM1416 233l0-5 5-1zM1278 326l-6 1 5-7zM1307 292l-4 6-5-7z"/>
<path fill="#a2364e" d="M1479 257l-5 5-3-7zM1303 455l-5 6-2-5zM1332 360l-2 6-3-6zM1462 264l6-4-2 7zM1309 502l-4-4 7-3zM1307 509l2-7 5 6zM1358 337l-2-7 4-1zM1291 434l7-1 0 6zM1535 273l1-5 6 6zM1298 497l5-5 2 6zM1310 388l6-1-3 5zM1341 353l-2-5 5 1z"/>
<path fill="#c63c66" d="M1489 255l3-5 3 7zM1307 509l-6-7 8 0zM1298 497l3 5-5-2zM1439 269l-6-2 3-5zM1344 341l-9 2 5-5z"/>
<path fill="#8a2a66" d="M1504 235l-4 6-1-7zM1380 267l-6 0 3-4zM1259 474l4-5 1 3zM1476 235l10-3-6 8zM1486 238l0-6 5 2zM1402 250l-5 8-3-7zM1402 250l4 5-9 3zM1393 258l1 5-7 0zM1260 403l-8 3 6-8zM1349 285l6 0-3 7zM1355 285l3 6-6 1z"/>
<path fill="#96306c" d="M1500 241l-5-1 4-6zM1358 291l-3-6 8-1zM1355 295l-6 0 3-3z"/>
<path fill="#9c3078" d="M1473 232l-5 6-2-6zM1413 251l-1-5 8 0zM1412 246l-3 3-4-3zM1420 239l4 6-4 1zM1429 247l-5-2 4-7zM1363 274l-4 6-3-6zM1359 280l4-6 2 5zM1339 289l4 8-7 0zM1272 372l-2 2-3-4zM1264 374l2 9-7-2z"/>
<path fill="#962a7e" d="M1468 226l5 6-7 0zM1397 244l5-6 3 8zM1369 261l-2 5-6-5zM1367 266l-8 0 2-5zM1241 428l-9 0 5-6zM1242 457l-8 3 2-6zM1412 246l-4-7 5-1zM1299 323l-3-6 8 1zM1269 352l4-6 4 7zM1325 290l8 0-5 5z"/>
<path fill="#c63c72" d="M1473 251l6-7 2 6zM1410 272l1 6-5 0zM1394 286l-5-1 3-7zM1314 358l-3-5 4 2zM1314 358l-4 8-6-8zM1303 367l4 4-8-1z"/>
<path fill="#d24272" d="M1479 257l-6-6 8-1zM1407 285l-5-2 4-5zM1279 439l-5-4 8-2zM1310 366l4-8 0 8zM1287 428l-8 0 4-6zM1279 428l8 0-5 5zM1313 371l-6 0 3-5zM1285 414l3 7-5 1z"/>
<path fill="#c03c66" d="M1473 251l6 6-8-2zM1411 278l3-3 1 8zM1489 251l3-1-3 5zM1314 366l5-5 3 4zM1314 358l5 3-5 5zM1302 375l9 2-6 4zM1307 371l6 0-2 6zM1288 411l-2-5 8 0z"/>
<path fill="#ba3c66" d="M1467 250l6 1-2 4zM1441 260l5-5 1 9zM1369 307l-2-5 7-1zM1451 256l2 6-6 2zM1307 371l4 6-9-2zM1288 411l-3 3-1-4z"/>
<path fill="#c03c78" d="M1441 260l-4-6 4-2zM1392 267l5 8-8-1zM1267 438l-4-3 5 0zM1322 342l-5-8 9 3z"/>
<path fill="#c03c72" d="M1430 258l7-4-1 8zM1400 274l5-7 5 5zM1471 247l2 4-6-1zM1274 435l-6 0 6-8zM1271 441l3-6 5 4zM1267 438l4 3 0 2zM1271 441l-4-3 7-3zM1331 336l-4 6-1-5zM1359 302l8 0-5 5zM1377 294l-9 3 3-6zM1311 353l3 5-10 0zM1304 358l6 8-7 1zM1360 296l7 6-8 0zM1360 296l8 1-1 5zM1328 329l3 7-5 1z"/>
<path fill="#a8366c" d="M1437 254l-7 4 3-8zM1480 240l3 5-4-1zM1299 358l2-4 3 4z"/>
<path fill="#b43678" d="M1420 256l3-7 0 8zM1258 433l5 2-5 4zM1471 247l-3-9 7 2zM1314 340l0-5 3-1zM1308 347l-7 7-3-5z"/>
<path fill="#9c3072" d="M1423 249l-3 7-7-5zM1268 480l-7 0 3-8zM1252 435l-4-6 4 0zM1299 337l4-5 1 3zM1327 307l7-4 2 6zM1344 290l5 5-6 2z"/>
<path fill="#78243c" d="M1553 273l-8 1 5-6zM1293 460l-4-6 7 2z"/>
<path fill="#a83654" d="M1555 279l-2-6 12 7zM1468 260l-5-2 8-3zM1387 297l4 5-4-1zM1428 275l3 4-5 2zM1387 301l-3 5-5-6zM1298 461l0 6-5-7zM1298 467l1 7-6-2zM1515 263l1-5 5 3zM1428 275l5-3-2 7zM1365 313l4 4-7 3zM1297 489l-6-5 7 0zM1301 401l-5-4 3-3zM1304 392l4 7-7 2zM1339 348l-4-5 9-2z"/>
<path fill="#842a3c" d="M1553 273l2 6-7 1zM1337 353l4 0-4 6zM1337 353l2-5 2 5z"/>
<path fill="#f6785a" d="M1524 289l4 7-8 0zM1355 410l-5 1 3-8zM1531 292l-3 4-4-7zM1341 450l0-6 3 6zM1409 330l0 10-6-3zM1374 376l-3 6-2-4z"/>
<path fill="#e4b47e" d="M1429 467l3 6-9-1zM1429 467l5 1-2 5zM1542 349l3-9 7 9zM1412 452l3-6 3 3z"/>
<path fill="#eaba7e" d="M1437 474l-1 3-4-4zM1500 352l-3 6-4-5z"/>
<path fill="#ae7e5a" d="M1436 477l5 3-4 5z"/>
<path fill="#d8a872" d="M1441 480l-5-3 1-3zM1465 372l-3 3-5-4zM1529 342l-6 5-3-5z"/>
<path fill="#ccb484" d="M1449 469l4 0-1 4zM1451 438l-5 5-2-3z"/>
<path fill="#c0ae7e" d="M1453 469l9-3-6 8zM1551 381l-4-3 8-2zM1474 412l5-8 3 7z"/>
<path fill="#907e5a" d="M1459 480l8 0-8 4zM1496 481l-1 9-6-7zM1597 393l-8 1 2-5zM1591 399l-2-5 8-1zM1597 403l2-3 2 5zM1445 461l-3-3 6-4zM1519 375l-1-4 7 0z"/>
<path fill="#c6ae7e" d="M1459 480l-5-2 2-4zM1441 444l-4-7 7 3zM1464 406l2-8 4 6zM1525 371l2-5 5 6zM1479 404l-5 8-4-8z"/>
<path fill="#604230" d="M1473 492l0 6-8-3zM1473 498l5-3-3 6z"/>
<path fill="#906042" d="M1456 497l17 1 2 3zM1413 467l4 7-7 0zM1506 319l4 6-5 0zM1588 343l8 5-8 1z"/>
<path fill="#7e5436" d="M1465 495l8 3-17-1zM1389 481l-6-1 1-6z"/>
<path fill="#664e36" d="M1473 498l0-6 5 3zM1503 486l4 3-8 1zM1420 462l-7 5-1-5zM1422 468l-2-6 5-1z"/>
<path fill="#78543c" d="M1486 495l5-1-5 7zM1499 331l0 6-4-8z"/>
<path fill="#a29066" d="M1486 485l0-7 3 5zM1462 466l2 9-8-1zM1481 479l-4 7-3-6zM1556 369l5 1-6 6zM1468 412l-4-6 6-2zM1468 412l-3 2-1-8zM1446 443l5 9-6 0z"/>
<path fill="#a89066" d="M1489 491l-3-6 3-2zM1564 360l-3 6-3-6zM1434 468l-2-5 7 4zM1520 363l7 3-2 5zM1520 363l-2 8-5-7zM1525 361l6-2 1 5z"/>
<path fill="#9c8460" d="M1481 489l5-4 3 6zM1561 370l0-4 5 0zM1520 355l5 6-8-1z"/>
<path fill="#601878" d="M1384 220l5-2 2 4zM1197 435l3-6 2 4zM1202 422l-3-5 7 0zM1352 232l8 3-4 4zM1360 235l7-1-4 4zM1229 354l-2 3-4-3zM1224 365l-8 0 5-5zM1199 441l8-2-5 8zM1199 417l5-8 2 8zM1204 409l-5 8-2-7zM1440 218l-3 2-4-4zM1344 244l-1 7-5-8zM1304 266l6 7-8 0zM1271 296l7-6-1 8zM1271 296l2 6-6-1zM1316 262l-5 5-1-4z"/>
<path fill="#541272" d="M1380 215l4 5-4 0zM1211 359l5-8 5 9zM1195 449l-5-6 7 0zM1258 303l3-7 6 5z"/>
<path fill="#481272" d="M1380 215l-1-5 7 0zM1213 347l-4-6 8-1zM1235 312l1 7-7 1zM1186 391l6-3 3 7zM1191 400l-5-9 9 4zM1182 400l4-9 5 9zM1187 405l-5-5 9 0zM1279 267l5 8-9-1zM1354 229l-3-9 7 3zM1182 406l5-1-4 4zM1354 229l-4-2 1-7zM1343 227l7 0-5 8zM1262 285l-3-5 7-3zM1259 291l-7-2 3-4zM1252 289l5 9-9-3z"/>
<path fill="#360c66" d="M1363 218l-5 5-1-6zM1195 342l7 2-1 5zM1182 382l4 0-3 5zM1351 220l-6 2 12-5zM1358 223l-7-3 6-3zM1186 391l-6 0 3-4zM1194 369l-5 1 2-5zM1212 326l3-5 4 4zM1289 252l3 4-5-1zM1264 275l-8-3 3-3zM1244 283l4 8-9 1zM1250 286l-2 5-4-8zM1250 286l3-8 2 7z"/>
<path fill="#3c0c66" d="M1365 221l-7 2 5-5zM1224 321l2 3-7 1zM1226 324l-2-3 5-1zM1218 331l-6-5 7-1zM1182 400l0 6-5-6z"/>
<path fill="#661878" d="M1360 235l3 3-7 1zM1448 215l-8 3-7-2zM1437 220l-5 0 1-4zM1278 290l7 1-3 4z"/>
<path fill="#722478" d="M1359 246l2 6-7-3zM1437 220l8 0-6 8zM1228 381l5-1-4 8zM1290 295l8 1-6 7zM1286 301l4 9-8-3z"/>
<path fill="#7e2478" d="M1360 256l1-4 3 3zM1404 233l-2 5-4-6zM1232 394l-3-6 7 0zM1232 394l3 4-5 1zM1285 312l5-2 1 7zM1225 474l0-5 8 3zM1290 310l4 4-3 3zM1321 286l-3-6 6 0zM1245 383l-3 5-2-4zM1354 261l-4 8-2-8zM1320 290l-7 0 1-4z"/>
<path fill="#8a2a8a" d="M1361 252l-1 4-6-7z"/>
<path fill="#661e60" d="M1375 252l-5-1 2-4zM1259 494l-5 2 2-5zM1225 474l8-2-2 6zM1423 232l-7 1 5-6zM1228 451l-6 5-3-5zM1286 324l-8 2 3-6zM1245 372l3-9 7 7zM1308 298l-1-6 6-2zM1258 357l-2-4 8 2z"/>
<path fill="#722472" d="M1370 251l-9 1 3-8zM1265 515l1 3-9-7zM1328 272l5 9-9-1zM1318 280l3 6-7 0zM1286 324l-5-4 10-3z"/>
<path fill="#7e2472" d="M1364 255l6-4 3 5zM1230 457l-5 3-3-4zM1412 232l4 1-3 5zM1412 232l-4 7-4-6zM1333 281l5-2-4 4zM1240 384l2 4-6 0zM1242 388l0 5-6-5zM1269 352l-5 3 3-9zM1275 334l-4-3 4 1zM1296 317l-3 7-2-7zM1310 307l-7 1 2-5zM1350 269l4-8 5 5z"/>
<path fill="#962a66" d="M1377 280l-2-8 6 0zM1394 263l-2 4-5-4zM1338 313l-2-4 7-3zM1283 376l-2-4 7-3z"/>
<path fill="#8a2a7e" d="M1402 238l-7 2 3-8zM1454 228l2-8 3 8zM1416 233l4 6-7-1zM1416 233l7-1-3 7zM1359 266l-5-5 7 0zM1354 261l6-5 1 5zM1225 469l0-9 7 8zM1294 314l-4-4 5-2zM1393 244l-7 1 0-7zM1294 314l2 3-5 0zM1320 290l5 0-4 7z"/>
<path fill="#962a84" d="M1395 240l7-2-5 6zM1234 460l-4-3 6-3zM1225 460l9 0-2 8zM1235 398l7-5 2 6zM1242 393l0-5 3 7zM1333 290l-8 0 5-6z"/>
<path fill="#842a60" d="M1381 264l-1 3-3-4zM1457 243l-4-4 6 1zM1283 353l8 1-7 5zM1293 518l-8 3 4-9zM1298 349l-6 0 4-7z"/>
<path fill="#721e66" d="M1378 245l-3 7-3-5zM1250 377l-5-5 10-2zM1248 363l10 2-3 5zM1300 302l3-4 2 5z"/>
<path fill="#601e66" d="M1380 240l-7-2 7-5zM1333 268l-6-1 2-4zM1216 468l9 1-7 6zM1213 452l-2-7 7-1zM1416 228l-4 4-5-5zM1282 307l-2 5-3-5zM1298 291l5 7-5-2z"/>
<path fill="#cc7854" d="M1372 437l-4 9-5-6zM1370 466l-5 8-4-7zM1387 388l7 1-2 2zM1444 337l4-7 3 4z"/>
<path fill="#d87e54" d="M1372 426l3 5-8-4zM1392 384l2 5-7-1zM1418 360l-6 0 4-5z"/>
<path fill="#d89060" d="M1382 443l6 2-2 4zM1393 403l7-3-1 5zM1484 335l-3 6-4-6z"/>
<path fill="#c07e54" d="M1382 443l2-5 4 7zM1382 469l4-6 1 5zM1489 324l9 1-3 4z"/>
<path fill="#7e4e36" d="M1384 438l-6-1 4-3zM1371 451l2 6-6 0zM1374 500l3-4 3 8zM1501 320l5-1-1 6zM1593 341l-3-4 5 1z"/>
<path fill="#b4724e" d="M1378 437l-3-6 7 3zM1406 479l-2-4 6-1zM1512 315l2 5-8-1zM1443 340l3 9-10-2zM1423 365l-4 4-5-3z"/>
<path fill="#84543c" d="M1382 443l-4-6 6 1zM1596 348l-8-5 5-2z"/>
<path fill="#7e543c" d="M1384 438l4-3 5 3zM1408 467l5 0-3 7zM1505 331l-6 0 6-6z"/>
<path fill="#b4784e" d="M1390 426l-2 9-4-6z"/>
<path fill="#a26c48" d="M1388 435l-6-1 2-5zM1396 464l6 2-7 0zM1400 400l-7-2 4-5z"/>
<path fill="#664230" d="M1388 435l-4 3-2-4z"/>
<path fill="#fc9066" d="M1368 410l9 1-6 6zM1377 411l-9-1 5-5zM1379 407l2 4-4 0zM1365 417l3-7 3 7zM1370 420l-5-3 6 0zM1498 314l-8-3 5-2zM1495 309l-5 2-1-8zM1490 311l-5-5 4-3z"/>
<path fill="#f69066" d="M1377 411l0 3-6 3zM1376 422l1-8 4 7zM1369 479l-4-5 6-2zM1527 309l-6-1 2-6zM1527 309l7-1-6 7zM1493 319l-3-8 8 3zM1418 360l2-8 6 6zM1468 317l4 10-6-1z"/>
<path fill="#fc9666" d="M1381 411l-4 3 0-3zM1365 474l5-8 1 6zM1384 405l4 4-7 2zM1479 319l3-4 5 3zM1482 315l8-4-3 7z"/>
<path fill="#ea9060" d="M1381 421l-4-7 8 2zM1404 372l0 9-4-6z"/>
<path fill="#fc9c6c" d="M1377 414l4-3 4 5zM1374 477l-5 2 2-7zM1402 386l2-5 2 5zM1404 381l-2 5-3-5zM1370 484l-1-5 5-2zM1487 318l2 6-3 3zM1464 337l-5-7 10 0zM1420 352l8 2-2 4zM1459 330l7-4 3 4zM1478 327l1-8 7 8zM1474 321l4 6-6 0z"/>
<path fill="#c07e5a" d="M1391 474l-4-6 8-2zM1489 332l0-8 6 5z"/>
<path fill="#78362a" d="M1393 495l-5 9-4-7zM1349 514l5 1-1 2zM1335 432l3-4 3 6z"/>
<path fill="#6c3c2a" d="M1388 504l-5 4-3-4zM1425 484l4 6-9 0zM1382 492l4-9 4 7zM1429 490l3-5 4 7z"/>
<path fill="#5a3024" d="M1384 497l4 7-8 0z"/>
<path fill="#cc845a" d="M1415 477l-9 2 4-5zM1403 392l-3 8-3-7zM1400 400l-7 3 0-5zM1489 324l4-5 5 6zM1452 346l-5 5-1-2zM1542 315l1 9-4-4z"/>
<path fill="#b46c4e" d="M1406 479l-4 1 2-5zM1454 341l-8-1 5-6z"/>
<path fill="#f68a60" d="M1365 474l-4 4-4-6zM1390 369l9 1-5 7zM1360 422l10-2-3 7zM1379 407l-2 4-4-6zM1392 384l-3-8 5 1z"/>
<path fill="#de7854" d="M1361 467l4 7-8-2zM1380 378l9-2-4 6zM1368 410l-4-5 9 0zM1353 432l4-5 3 7zM1498 304l2 5-5 0zM1363 490l-3-4 3 1zM1479 309l3-7 3 4z"/>
<path fill="#e47854" d="M1356 480l-6-6 7-2zM1544 301l-8 3 3-7zM1451 314l-5 6-3-7zM1452 319l5-7 5 8z"/>
<path fill="#f67e5a" d="M1350 474l6 6-5 1zM1344 450l6-6 1 5zM1360 409l-5 1 4-5zM1364 405l-4 4-1-4zM1457 312l-5 7-1-5z"/>
<path fill="#fca272" d="M1383 457l3 6-6-1zM1402 386l-8 3 5-8zM1489 332l-9-1 6-4zM1470 334l6-3 1 4zM1436 357l0 10-5-7zM1478 327l-4-6 5-2z"/>
<path fill="#d89666" d="M1390 450l8 1-1 6zM1397 439l-4 5 0-6zM1558 332l9-3-4 7zM1400 423l-6-2 5-7zM1535 326l-2 5-3-8z"/>
<path fill="#ea9c6c" d="M1388 445l2 5-4-1zM1389 421l5 0-4 5zM1390 417l4 4-5 0zM1412 383l2 3-8 0zM1430 363l6 4-4 4z"/>
<path fill="#de7e5a" d="M1360 434l7 1-4 5zM1585 329l-4-5 9 1zM1363 487l7-3-2 7zM1466 326l-9-1 5-5zM1479 309l3 6-4-1z"/>
<path fill="#ea845a" d="M1367 435l-7-1 7-7zM1548 303l6 7-6-4zM1360 434l-3-7 10 0zM1410 350l8-3-2 8zM1418 347l7-1-5 6zM1554 310l-5 1-1-5zM1392 384l-5 4-2-6zM1559 306l-4 7-1-3z"/>
<path fill="#d27854" d="M1375 431l-8 4 0-8zM1384 405l-5 2 4-7zM1445 326l3 4-6 1zM1387 388l-4-2 2-4zM1427 342l-2 4-2-5zM1474 321l-3-6 7-1z"/>
<path fill="#f07e5a" d="M1353 432l5 6-6 2zM1350 444l6-1-5 6zM1441 318l4 8-9-3zM1445 326l-4-8 5 2zM1356 423l4-7 0 6zM1365 417l-5-8 8 1zM1370 518l-3-5 9 2zM1419 337l-1 10-5-3zM1451 314l1 5-6 1z"/>
<path fill="#fc7e60" d="M1352 440l-2 4-6-4zM1350 444l-9 0 3-4zM1355 410l5 6-8-1zM1413 337l-4 3 0-10zM1350 486l1 3-5-5z"/>
<path fill="#9c5a3c" d="M1365 452l-7 0 5-5zM1372 509l-5-5 7-4zM1504 301l6 1-4 6z"/>
<path fill="#965a3c" d="M1368 446l-3 6-2-5zM1570 325l-6 0 3-6zM1402 480l-9-2 5-4zM1400 484l-7-6 9 2zM1384 395l3-7 5 3z"/>
<path fill="#d26c4e" d="M1354 457l-4-1 1-7zM1347 434l5 6-8 0zM1498 304l2-8 4 5zM1356 423l-6 0 2-8z"/>
<path fill="#ea785a" d="M1350 456l-6-6 7-1zM1360 416l-4 7-4-8zM1413 337l6 0-6 7zM1552 295l6 9-10-1z"/>
<path fill="#a2543c" d="M1350 464l0-8 4 1zM1426 336l2-7 5 3zM1463 313l-6-1 5-3z"/>
<path fill="#f0785a" d="M1341 444l9 0-6 6zM1351 481l-5 3-1-9zM1429 317l6 3-6 5zM1373 525l-3-7 8 0zM1409 340l4-3 0 7zM1374 376l4-6 2 8zM1360 409l0 7-5-6zM1350 486l-4-2 5-3zM1377 381l-3-5 6 2z"/>
<path fill="#c06648" d="M1358 452l3 2-7 3zM1373 405l-9 0 4-6zM1350 474l6-5 1 3zM1371 382l6-1-2 7zM1463 313l5 4-6 3zM1457 312l6 1-1 7z"/>
<path fill="#c06c4e" d="M1365 452l-4 2-3-2zM1500 309l-2-5 6-3zM1367 495l-4-5 5 1zM1471 315l3 6-6-4z"/>
<path fill="#f6a26c" d="M1386 463l-4 6-2-7zM1379 473l3-4 2 5zM1476 331l4 0-3 4zM1420 377l-2 4-5-5zM1439 352l8-1-4 8z"/>
<path fill="#f69666" d="M1376 466l3 7-8-1zM1379 473l-5 4-3-5zM1534 308l4 6-10 1zM1527 309l1 6-5-1zM1521 308l6 1-4 5zM1370 484l4-7 5 9zM1490 311l3 8-6-1zM1394 389l-2-5 7-3zM1472 327l4 4-7-1zM1472 327l6 0-2 4z"/>
<path fill="#fca872" d="M1376 466l6 3-3 4zM1382 469l-6-3 4-4zM1388 457l-5 0 3-8zM1390 450l-2 7-2-8zM1403 392l-1-6 4 0zM1425 369l5-6 2 8zM1410 394l-7-2 3-6zM1436 367l-6-4 1-3zM1527 320l-3 4-3-4zM1412 383l6-2-4 5zM1436 357l3-5 4 7zM1479 319l8-1-1 9zM1423 365l7-2-5 6zM1480 331l-2-4 8 0zM1476 331l2-4 2 4z"/>
<path fill="#cc7e54" d="M1373 463l-3 3-5-4zM1377 444l-9 2 4-9zM1376 422l1 7-5-3zM1377 429l4-8 3 8zM1384 405l9-2-5 6zM1552 318l-3-7 6 2zM1493 319l5-5 3 6zM1456 331l3-1-1 7zM1410 376l3-6 0 6zM1404 372l6 4-6 5z"/>
<path fill="#f09666" d="M1370 466l6 0-5 6zM1493 319l-4 5-2-6zM1430 363l-7 2 3-7z"/>
<path fill="#d8845a" d="M1376 466l-6 0 3-3zM1394 389l8-3-5 7zM1549 311l-1 9-6-5zM1457 325l9 1-7 4z"/>
<path fill="#b43672" d="M1397 266l8 1-5 7zM1275 468l3 4-4 3zM1266 427l-3 8-3-7zM1263 435l3-8 2 8zM1479 244l-8 3 4-7zM1376 285l-2-6 3 1zM1263 435l4 3-4 8zM1278 462l3 6-6 0zM1356 309l-5-9 8 2zM1322 342l-8-2 3-6zM1314 340l4 7-8-4zM1328 329l-7 2 3-5zM1312 349l-4-2 2-4zM1308 347l-5-6 7 2zM1301 354l7-7 3 6z"/>
<path fill="#a2306c" d="M1405 267l-5-6 10 3zM1277 479l-9 1 6-5zM1500 241l-4 4-1-5zM1445 243l3 9-7 0zM1392 267l2-4 3 3zM1317 323l4 8-7-2zM1281 372l2 4-7 0zM1303 341l5 6-10 2z"/>
<path fill="#a23066" d="M1405 267l-8-1 3-5zM1272 461l-8 0 6-5zM1496 245l4-4 3 5zM1294 507l4 7-9-2zM1348 309l-2 5-3-8zM1331 325l-3 4-4-3zM1301 354l-2 4-3-3zM1288 384l-7 6-1-8zM1281 390l-5-2 4-6zM1276 388l5 2-3 2z"/>
<path fill="#842a54" d="M1384 267l5 7-8-2zM1389 274l-5 7-3-9zM1264 461l-6 0 5-4zM1264 461l8 0-4 8zM1427 261l-4 1 0-5zM1533 262l3-6 6 8zM1281 494l-7-5 4-4zM1298 514l3 6-8-2zM1284 507l4-4 1 9z"/>
<path fill="#a83660" d="M1389 285l-5-4 8-3zM1418 268l-4 7-4-3zM1446 255l2-3 3 4zM1318 347l5 8-8 0zM1270 423l8-3-4 7zM1496 245l5 7-9-2zM1318 347l4-5 3 6zM1301 502l-7 5 2-7z"/>
<path fill="#a83066" d="M1384 281l5-7 3 4zM1410 268l-5-1 5-3zM1295 363l4-5 4 9zM1278 392l3-2 4 5z"/>
<path fill="#7e2a4e" d="M1377 280l7 1-4 5zM1423 262l4-1-4 5z"/>
<path fill="#cc4278" d="M1397 275l1 5-6-2zM1398 280l-1-5 3-1z"/>
<path fill="#ba366c" d="M1389 274l8 1-5 3zM1446 255l-5 5 0-8zM1327 342l-5 0 4-5zM1483 245l10 1-4 5z"/>
<path fill="#c63c78" d="M1397 275l0-9 3 8zM1263 446l8-3-6 7zM1405 267l5 1 0 4zM1479 244l4 1-2 5z"/>
<path fill="#c64260" d="M1413 291l-6-6 8-2zM1407 289l-7 8-2-8zM1344 341l3-6 0 8zM1344 349l0-8 3 2zM1347 335l7 3-7 5zM1303 492l-6-3 1-5zM1521 261l4 7-8-1z"/>
<path fill="#c03c60" d="M1396 295l-4-6 6 0zM1392 289l2-3 4 3zM1370 315l-5-2 4-6zM1370 315l-1-8 8 1zM1301 502l-3-5 7 1zM1296 397l5 4-7 5z"/>
<path fill="#90304e" d="M1389 285l3 4-8 3zM1278 451l3-5 4 5zM1289 454l-4 3 0-6zM1521 261l-5-3 4-6zM1333 348l-6 4-2-4z"/>
<path fill="#8a2a4e" d="M1414 275l4-7 4 5zM1285 457l-7 5 0-7zM1285 457l4-3-2 8zM1286 487l-8-2 6-4zM1293 496l-5 7-3-6zM1300 384l-4 3-4-3zM1297 378l3 6-8 0zM1355 320l-4-2-1-3zM1289 398l2-3 5 2z"/>
<path fill="#cc426c" d="M1411 278l-4 7-1-7zM1483 255l6-4 0 4zM1335 343l-4-7 9 2zM1288 421l-3-7 8 3zM1285 414l3-3 5 6z"/>
<path fill="#c64266" d="M1407 285l4-7 4 5zM1394 286l8-3-4 6zM1384 306l-7 2 2-8zM1301 502l4-4 4 4zM1294 421l-6 0 5-4z"/>
<path fill="#c64e4e" d="M1435 298l-2 6-7-3zM1331 508l4-5 3 6zM1330 398l4-1-3 9zM1512 278l-3-4 3-1zM1497 279l-4 7-3-7zM1453 284l-4 2 3-6zM1318 445l1-8 2 6z"/>
<path fill="#c6544e" d="M1433 304l-3 4-4-7zM1451 289l-5 7 0-4z"/>
<path fill="#d2664e" d="M1437 312l-2 8-2-6zM1367 513l3 5-5 2zM1374 376l-3-7 7 1zM1353 495l-9 1 7-7zM1376 366l5-2-3 6zM1371 382l-2 4-4-3zM1369 386l-7 0 3-3zM1365 383l-1-6 5 1zM1381 364l6 3-1 1zM1453 304l1 6-6-2z"/>
<path fill="#e47254" d="M1435 320l1 3-7 2zM1435 320l6-2-5 5zM1448 308l3 6-8-1zM1350 456l-7-1 1-5zM1559 306l-1-2 7-3zM1454 310l3 2-6 2z"/>
<path fill="#d2604e" d="M1437 312l-2-6 5 0zM1373 525l-3 5 0-7zM1559 295l7 1-1 5zM1376 366l-2-8 3 1zM1371 369l5-3 2 4zM1364 377l1-7 4 8zM1582 314l12 9-8-3zM1457 302l-2-8 8 1z"/>
<path fill="#ea6c5a" d="M1435 306l2 6-4 2zM1402 340l-6 2 1-8zM1340 489l-3 3 2-6zM1371 369l-6 1 4-4z"/>
<path fill="#d8604e" d="M1430 308l5-2-2 8zM1392 348l-7 0 3-6zM1339 439l-2 8-5-9zM1493 286l4 4-8 2zM1396 342l-5-7 6-1z"/>
<path fill="#903042" d="M1466 267l2 5-9 0zM1421 286l-2-5 7 0zM1365 326l7 0-4 3zM1462 264l4 3-7 5zM1320 518l4-1 0 7zM1515 263l-7 4-1-3zM1323 512l1 5-4 1z"/>
<path fill="#c0424e" d="M1468 272l-5 7-4-7zM1319 404l-2-6 7 2zM1350 352l2 9-8-3z"/>
<path fill="#cc4e54" d="M1420 297l5-5 1 9zM1376 331l4 5-9 0zM1468 272l1 8-6-1z"/>
<path fill="#b43c54" d="M1419 281l2 5-6-3zM1336 363l-4-3 5-1zM1479 263l-5-1 5-5zM1468 260l6 2-8 5zM1474 262l-3 7-5-2zM1309 502l7-1-2 7zM1324 369l6-3 1 6zM1457 267l5-3-3 8zM1565 286l-5 0 5-6zM1316 387l-6 1 2-7zM1431 279l4 5-9 0z"/>
<path fill="#a29c78" d="M1490 461l5 6-8-1zM1548 446l2 5-6-2z"/>
<path fill="#aea878" d="M1490 472l-4 0 1-6zM1473 432l-2-3 6-2zM1513 401l4-9 4 8z"/>
<path fill="#a2a278" d="M1493 455l-2-4 6-2zM1489 456l2-5 2 4zM1559 421l-7 0 3-5z"/>
<path fill="#aeae84" d="M1491 451l-2 5-3-4zM1508 455l-5 8-1-7zM1562 415l-3 6-4-5zM1512 441l-4 4-6-7zM1556 430l-2 2-2-5z"/>
<path fill="#c69c6c" d="M1490 357l-7 2 6-5zM1594 376l4-4 2 5zM1465 372l4-3 0 6z"/>
<path fill="#b4ae7e" d="M1482 466l0-5 5 5zM1558 449l-3-5 6 2zM1580 410l-3-4 5 0z"/>
<path fill="#c6ba8a" d="M1486 472l-4-6 5 0zM1539 400l-4-3 2-5zM1559 388l4 7-5 0zM1573 424l-1-7 3-2zM1498 404l-6 5-3-4zM1483 422l-8 0 2-6zM1473 432l6 3-7 2zM1479 435l-6-3 4-5zM1528 399l-6 7-1-6z"/>
<path fill="#ccc090" d="M1482 466l4 6-8 0zM1523 463l9 0-5 6zM1574 410l6 0-5 5zM1533 389l9 0-5 3zM1520 411l-5 0 4-6z"/>
<path fill="#d8cc96" d="M1482 466l-4 6-2-9zM1522 473l-3 1 2-6zM1579 398l-2 8-5-6zM1498 404l2 5-8 0zM1500 409l-3 8-5-8zM1479 435l0 4-7-2zM1472 446l-5-2 5-7z"/>
<path fill="#3c0c72" d="M1202 355l-7 0 6-6zM1300 246l4 0-1 5z"/>
<path fill="#4e1278" d="M1202 355l9-3-5 8zM1241 308l-3 4-1-4zM1235 312l-6-5 8 1zM1278 280l-5 1 2-7zM1257 298l-6 5-3-8zM1258 303l-7 0 6-5zM1246 301l5 2-1 5zM1298 257l4 4-5 0zM1309 250l6-1-4 8zM1273 281l-5-7 7 0zM1303 251l5 6-10 0zM1309 250l-1 7-5-6zM1269 283l-3-6 7 4zM1269 283l-7 2 4-8z"/>
<path fill="#360c60" d="M1209 341l-4-5 8-2zM1209 341l-7 3-1-7zM1186 391l-4 9-2-9zM1194 369l2-4 3 5zM1194 369l-3 9-2-8zM1212 326l-2 4-4-5z"/>
<path fill="#5a127e" d="M1213 347l4-7 4 8zM1216 351l-5 8 0-7zM1216 351l-3-4 8 1zM1190 410l-3-5 8 1zM1261 296l-2-5 7 0zM1302 261l6-4 2 6zM1302 261l-2 7-3-7z"/>
<path fill="#361266" d="M1190 352l5 3-6 5zM1228 303l-7-1 7-5zM1213 313l5-5 3 4zM1213 313l2 8-4-3z"/>
<path fill="#301260" d="M1190 352l-3-5 6 2zM1185 375l-3 7-6-5zM1275 260l-4-6 7 1zM1208 312l5 1-2 5zM1218 308l-5 5-1-6zM1213 313l-5-1 4-5zM1275 260l-5 4-3-9z"/>
<path fill="#54127e" d="M1241 308l-4 0 4-5zM1315 249l4-6 4 7zM1213 347l3 4-5 1zM1238 312l-3 0 2-4zM1354 229l4-6 3 3zM1241 308l5-7 4 7zM1259 291l3-6 4 6zM1259 291l2 5-4 2zM1308 257l-6 4-4-4zM1262 285l7-2-3 8z"/>
<path fill="#360c42" d="M1248 313l1 6-7 0zM1255 313l-6 6-1-6zM1249 319l-4 4-3-4z"/>
<path fill="#2a0c3c" d="M1236 319l5 5-8 2z"/>
<path fill="#1e1248" d="M1208 303l4-1 0 5zM1235 275l5 2-5 3zM1285 246l-10 4-6 0zM1275 250l-4 4-2-4zM1271 254l-4 1 2-5zM1208 312l-5-4 9-1zM1197 317l5 2-2 6zM1238 284l-6 0 3-4zM1244 273l-4 4-5-2zM1244 273l-4-7 8 3zM1199 314l9-2-6 7z"/>
<path fill="#601872" d="M1214 395l-4-8 7 2zM1208 450l-5 4-1-7zM1206 427l-4-5 8 1zM1432 220l-9 0 4-3zM1269 309l4-7 4 5zM1227 357l2-3 4 6zM1227 357l-3 8-3-5zM1211 445l-3 5-6-3zM1215 377l9-3-5 9z"/>
<path fill="#7e2484" d="M1219 406l-2-8 5 0zM1388 226l5 8-8-1zM1393 234l-5-8 8 3zM1385 233l1 5-6-5zM1286 301l4-6 2 8zM1228 381l1-6 4 5zM1237 377l-8-2 6-6zM1260 337l-3 5-5-5z"/>
<path fill="#300c66" d="M1189 370l-4 5-3-4zM1225 309l-7-1 3-6zM1210 330l-5-1 1-4z"/>
<path fill="#842a4e" d="M1277 479l1-7 8 2zM1511 255l-6-6 7 1zM1410 268l3-4 5 4zM1291 491l-6 6 0-6zM1301 520l2-5 2 5zM1305 520l-2-5 7-2zM1303 515l-5-1 3-7zM1346 314l2-5 2 6zM1276 412l2 4-7-1zM1337 537l13 6-21-5zM1351 318l0 8-8-5zM1351 318l-5-4 4 1z"/>
<path fill="#a23654" d="M1285 451l-4-5 7-1zM1298 484l-7 0 3-7zM1297 489l6 3-5 5zM1351 326l5 4-6-1zM1299 394l-3-7 5 1zM1305 381l5 7-9 0z"/>
<path fill="#a2305a" d="M1279 439l2 7-4 0zM1285 451l0 6-7-2zM1323 355l-5-8 7 1zM1288 503l5-7 3 4z"/>
<path fill="#b43660" d="M1286 438l-7 1 3-6zM1527 262l-6-1 4-4zM1492 250l9 2-6 5zM1501 252l2 3-8 2zM1301 502l6 7-6-2zM1531 266l2-4 3 6zM1293 496l5 1-2 3zM1335 343l-2 5-6-6z"/>
<path fill="#b43c60" d="M1281 446l5-8 2 7zM1311 377l1 4-7 0zM1453 262l3-7 6 9z"/>
<path fill="#9c305a" d="M1275 449l3 2 0 4zM1278 451l7 0-7 4zM1418 268l5-6 0 4zM1521 261l-1-9 5 5zM1501 252l-5-7 7 1zM1531 256l-4 6-2-5zM1294 507l7-5 0 5zM1454 249l2 6-5 1zM1343 321l2 6-8-4zM1276 412l9 2-7 2zM1284 410l1 4-9-2zM1278 416l7-2-7 6z"/>
<path fill="#903054" d="M1278 451l-3-2 2-3z"/>
<path fill="#902a4e" d="M1281 446l-3 5-1-5zM1428 275l-6-2 1-7zM1536 268l-3-6 9 2z"/>
<path fill="#ae366c" d="M1263 435l0 11-5-7zM1369 284l7 1-5 6zM1448 252l-2 3-5-3zM1496 245l-3 1 2-6zM1295 363l8 4-4 3zM1318 347l-6 2-2-6zM1348 309l3-9 5 9zM1335 331l-4-6 6-2zM1328 329l3-4 4 6zM1308 347l4 2-1 4z"/>
<path fill="#541860" d="M1216 480l-2-7 4 2zM1214 473l2-5 2 7zM1216 480l9 4-5 2zM1223 478l-7 2 2-5zM1371 232l2 6-6-1zM1291 292l-3-8 7 3zM1423 220l-7 2 5-4zM1416 222l0 6-5-6zM1264 319l-7 0 1-6z"/>
<path fill="#4e125a" d="M1214 473l2 7-6 1zM1413 217l3 5-5 0zM1306 280l-5 0 1-7z"/>
<path fill="#361242" d="M1214 473l-8 2 5-7z"/>
<path fill="#36123c" d="M1225 484l10-1-5 8z"/>
<path fill="#601860" d="M1235 483l-10 1 6-6zM1225 484l-2-6 8 0zM1218 432l-8 2 4-5zM1341 261l-1 8-5-6zM1275 313l2 7-8-3zM1309 286l-2 6-6-8zM1247 347l2 7-5 1z"/>
<path fill="#3c1242" d="M1225 484l-2 6-3-4zM1215 460l1 8-5 0z"/>
<path fill="#42123c" d="M1236 481l9-2-5 8zM1266 518l-1-3 6-3zM1274 520l-8-2 5-6z"/>
<path fill="#421242" d="M1235 483l1-2 4 6zM1249 354l6 5-7 4zM1256 353l-1 6-6-5zM1256 353l2 4-3 2z"/>
<path fill="#6c1e6c" d="M1258 508l-1 3-2-8zM1456 220l-2 8-3-7zM1402 226l2 7-6-1zM1225 460l-5 0 2-4zM1281 320l4-8 6 5zM1225 469l0 5-7 1zM1237 377l1-6 4 4zM1309 286l2-8 3 8zM1253 349l-4 5-2-7zM1298 296l5 2-3 4z"/>
<path fill="#7e245a" d="M1263 469l-4 5-1-5zM1444 235l1 8-5-2zM1260 403l4 9-9-2zM1285 521l-2-8 6-1zM1259 416l-1 6-5-4zM1252 406l8-3-5 7zM1326 314l2 5-6-2zM1292 336l7 1-3 5zM1317 323l-1-5 6-1zM1260 403l2-3 3 6zM1327 307l7 7-8 0z"/>
<path fill="#661e4e" d="M1259 474l-2 6-3-5zM1242 457l0-8 5 3zM1251 410l-4 7-5-8zM1322 308l4 6-4 3zM1281 342l8 0-3 7zM1289 342l-8 0 6-5zM1268 503l10-1-5 8z"/>
<path fill="#3c1236" d="M1248 485l-3-6 5 0zM1237 411l-8-2 3-4z"/>
<path fill="#300c30" d="M1242 489l8 3-4 5z"/>
<path fill="#360c36" d="M1248 485l-6 4-2-2z"/>
<path fill="#6c1e48" d="M1258 461l-3-6 8 2zM1288 369l6 1-3 5zM1291 354l3 6-10-1zM1294 360l-6 5-4-6z"/>
<path fill="#72244e" d="M1258 461l5 8-5 0zM1281 494l-3 8-6-7z"/>
<path fill="#842a5a" d="M1258 461l6 0-1 8zM1394 263l3-5 3 3zM1406 255l3 1 1 8zM1258 422l1-6 5 4zM1296 355l-2 5-3-6z"/>
<path fill="#ae3666" d="M1272 461l-2-5 8-1zM1471 247l-4 3-4-4zM1410 268l8 0-8 4zM1281 468l6-6 0 7zM1302 375l-5 3 2-8z"/>
<path fill="#8a2a6c" d="M1241 464l1-7 5 5zM1240 441l7-2-3 5zM1283 353l-4 6-2-6zM1409 249l-7 1 3-4zM1402 250l-5-6 8 2zM1267 498l1 5-4 0zM1278 346l3-4 5 7zM1311 321l-5 2-2-5zM1333 290l6-1-3 8zM1299 323l4 9-8-2zM1344 290l-1 7-4-8zM1322 308l-3-5 8-1z"/>
<path fill="#7e246c" d="M1233 472l2-6 3 9zM1233 414l8 1-4 7zM1235 466l7 0-4 9zM1408 239l4-7 1 6zM1256 375l-6 2 5-7zM1251 380l8 1-5 5zM1264 374l-5 7-3-6zM1286 324l7 0-3 8z"/>
<path fill="#6c1e5a" d="M1237 445l-8 1 6-9zM1237 411l4 4-8-1zM1389 250l-4 5-2-6zM1283 329l3-5 4 8zM1311 302l8 1-3 3z"/>
<path fill="#962a78" d="M1237 434l3 7-5-4zM1412 246l8-7 0 7zM1234 460l8-3-1 7zM1241 428l3 6-7 0zM1394 251l-1-7 4 0zM1274 359l-5-7 8 1zM1266 357l8 2-4 6z"/>
<path fill="#96307e" d="M1241 428l-4 6-5-6zM1245 395l3 5-4-1z"/>
<path fill="#24063c" d="M1180 426l4 8-6-1zM1179 423l5-1-4 4z"/>
<path fill="#2a0c42" d="M1184 434l-4-8 6 1zM1199 382l-2-6 5 2z"/>
<path fill="#1e0636" d="M1179 423l1 3-8 0z"/>
<path fill="#601884" d="M1197 410l-7 0 5-4z"/>
<path fill="#5a1872" d="M1202 422l-2 7-3-7zM1432 220l-5-3 6-1zM1382 227l-7 1 5-8zM1243 330l2-7 6 7zM1197 443l2-2 3 6zM1199 441l-2-6 5-2zM1224 365l-4 7-4-7zM1245 323l9 1-3 6z"/>
<path fill="#60187e" d="M1199 417l3 5-5 0zM1384 220l-2 7-2-7zM1349 237l3-5 4 7zM1196 401l3 2-4 3zM1318 258l-2 4-5-5zM1261 296l10 0-4 5zM1311 267l-7-1 6-3zM1300 268l4-2-2 7zM1304 266l-4 2 2-7z"/>
<path fill="#541872" d="M1197 410l2 7-6 1zM1226 334l6 4-3 5zM1325 257l-7 1 5-8zM1278 290l-4-5 9 0z"/>
<path fill="#541866" d="M1200 429l6-2-4 6zM1375 228l-4 4-1-3zM1273 302l-4 7-2-8zM1340 254l-8 3 4-8zM1404 222l-6-2 5-2zM1343 251l-3 3-4-5zM1325 257l-1 4-6-3zM1220 372l4 2-9 3z"/>
<path fill="#240c36" d="M1204 470l2 5-8-1z"/>
<path fill="#42124e" d="M1204 470l3-8 4 6z"/>
<path fill="#2a1254" d="M1212 302l6 6-6-1zM1202 319l6-7 3 6zM1309 237l-4-2 9-3zM1305 235l4 2-8 1z"/>
<path fill="#3c126c" d="M1218 308l7 1-4 3zM1215 321l-2-8 8-1z"/>
<path fill="#66187e" d="M1349 237l3 9-8-2zM1232 349l-4 0 1-6zM1228 349l1 5-6 0zM1395 217l3 3-7 2zM1324 261l-8 1 2-4zM1304 266l7 1-1 6z"/>
<path fill="#2a0c4e" d="M1334 235l-5-6 5 0zM1327 234l2-5 5 6zM1195 342l0-7 6 2zM1182 441l-3 5-1-13zM1184 422l-5 1 2-5zM1205 329l5 1-5 6zM1256 272l-3-4 6 1z"/>
<path fill="#42126c" d="M1324 246l-5-3 3-5zM1187 405l-5 1 0-6z"/>
<path fill="#a2307e" d="M1363 274l4-8 3 8zM1244 423l3-6 3 6zM1258 398l-10 2 6-6zM1248 429l-4-6 6 0zM1270 374l-6 0 3-4zM1272 372l-5-2 3-5zM1261 394l-7 0 0-8zM1266 383l-3 3-4-5zM1266 383l-2-9 6 0z"/>
<path fill="#96305a" d="M1376 285l1-5 3 6zM1278 462l-6-1 6-6zM1272 461l6 1-3 6zM1505 249l5-6 2 7zM1505 249l-4 3 2-6zM1294 507l-6-4 8-3zM1287 389l-6 1 7-6z"/>
<path fill="#2a1260" d="M1275 260l-8-5 4-1zM1267 255l3 9-7-1z"/>
<path fill="#ba424e" d="M1367 340l-3-3 7-1zM1364 337l4-8 3 7zM1337 521l-6-2 6-6zM1479 275l-3-2 2-5zM1463 279l-7-1 3-6zM1349 527l5 4-7-1zM1324 517l3-5 4 7zM1307 480l-1-5 8 5zM1343 365l2 4-5 1zM1564 292l1-6 3 4zM1313 441l6-4-1 8z"/>
<path fill="#a83c4e" d="M1368 329l-4 8-4-8zM1298 426l7 2-7 5z"/>
<path fill="#b45a42" d="M1433 332l-5-3 1-4zM1504 301l-4-5 7 1zM1353 432l-6 2 6-8zM1547 295l5 0-4 8zM1513 298l-3 4-3-5zM1426 336l-7 1 0-8zM1369 386l2-4 4 6zM1387 367l-3-9 6 1zM1476 303l-7 0 3-7z"/>
<path fill="#a2423c" d="M1407 321l-2-7 8 1zM1371 348l5-6 0 4zM1330 473l-6 0 3-5zM1345 394l-4-5 10-2zM1363 537l4-5 2 5zM1377 355l-6-7 5-2zM1575 301l-6 1 3-7z"/>
<path fill="#ae4242" d="M1405 314l-3 7-2-6zM1341 389l-1 4-3-6zM1509 274l3 4-7 3z"/>
<path fill="#ba4e48" d="M1402 321l3-7 2 7zM1341 406l-7-9 7 1zM1381 342l4-5 3 5zM1347 381l5-1-1 7zM1335 503l7-1-4 7zM1342 502l5 5-9 2zM1444 301l-5 0 3-6zM1328 423l6-1 0 4zM1337 492l-6 5-2-6zM1341 421l-7-4 4-1zM1328 423l6-6 0 5zM1324 418l10-1-6 6z"/>
<path fill="#ae365a" d="M1377 308l-8-1 5-6zM1350 543l7-1 6 6zM1533 262l-2 4-4-4zM1313 371l4-2-1 8zM1317 369l-4 2 1-5zM1335 343l4 5-6 0z"/>
<path fill="#d24260" d="M1383 313l-6 2 0-7zM1293 426l5 0 0 7zM1298 426l-4-5 7 2z"/>
<path fill="#d84e5a" d="M1383 313l9 1-3 4zM1331 519l-4-7 10 1zM1353 349l2 6-5-3zM1449 286l-5-6 8 0zM1376 331l1-5 3 6zM1456 278l-3 6-1-4zM1319 404l-5 3 3-9z"/>
<path fill="#cc5a4e" d="M1385 348l-4-6 7 0zM1335 432l4 7-7-1zM1462 290l7 0-6 5zM1348 397l-1 7-6-6zM1552 295l1-9 4 6zM1360 382l-6 6-2-8zM1370 530l-3 2 3-9zM1455 294l7-4 1 5zM1419 315l5-1-1 7zM1357 375l7 2-4 5z"/>
<path fill="#de5a54" d="M1334 397l7 9-10 0zM1327 450l1 8-4-2zM1535 279l6 5-7-1zM1430 308l-8-2 4-5zM1385 337l-4 5-1-6zM1462 290l1-7 3 2zM1357 526l10 6-10 0zM1527 285l2-7 5 5zM1463 283l6-3-3 5zM1473 284l-4-4 9 0zM1455 294l1-5 6 1zM1394 329l-3 6-4-6zM1394 329l-2-2 7-2zM1350 375l7 0-5 5z"/>
<path fill="#963c3c" d="M1337 387l-3 10-4-2zM1337 387l3 6-6 4zM1370 530l4 7-5 0zM1324 473l-3-7 6 2zM1349 527l-2-7 6-3z"/>
<path fill="#de4866" d="M1323 374l1-5 7 3zM1316 377l7-3-3 8zM1294 421l4-4 3 6z"/>
<path fill="#e44e66" d="M1323 374l4 8-7 0zM1447 271l6 3-1 6zM1447 271l3-3 3 6zM1314 407l-8-2 2-6z"/>
<path fill="#843036" d="M1324 393l6 2-6 5zM1320 395l4-2 0 7zM1545 284l-3-5 6 1zM1508 267l1 7-7-6zM1322 501l-3 7-3-7zM1319 430l-2 5-6-7z"/>
<path fill="#e44e60" d="M1340 370l-3 7-6-5zM1416 298l-6 4-1-5zM1419 292l-3 6-3-7zM1337 377l-6 0 0-5zM1438 280l6 0-1 3zM1525 268l2 6-8-1z"/>
<path fill="#fc7260" d="M1337 411l4-5 2 5zM1516 289l6-2 2 2zM1522 287l5-2-3 4z"/>
<path fill="#fc6c60" d="M1341 406l-4 5-6-5zM1487 283l-6 2 3-5zM1365 370l-4-6 8 2zM1334 417l-5-5 8-1z"/>
<path fill="#fc7860" d="M1350 411l5-1-3 5zM1339 439l2 5-4 3zM1341 444l0 6-4-3z"/>
<path fill="#ea7254" d="M1359 405l-4 5-2-7zM1494 296l-5 1 0-5zM1377 381l-6 1 3-6z"/>
<path fill="#ea8a60" d="M1376 422l-6-2 1-3zM1581 324l4 5-5 0zM1400 375l4 6-5 0zM1534 308l-7 1 4-7zM1456 331l1-6 2 5zM1474 321l-2 6-4-10z"/>
<path fill="#f09060" d="M1377 414l-1 8-5-5zM1400 375l-1 6-5-4zM1399 381l-7 3 2-7z"/>
<path fill="#c66048" d="M1339 439l2-5 3 6zM1341 434l6 0-3 6zM1532 295l-1-3 7-3zM1424 324l5-7 0 8zM1429 317l-5 7-1-3zM1494 296l3-6 3 6zM1381 364l5 4-8 2z"/>
<path fill="#c05a48" d="M1339 439l-4-7 6 2zM1365 520l-5-2 1-3zM1409 330l4-5 0 6zM1347 404l1-7 5 6zM1348 397l7 1-2 5zM1362 386l-8 2 6-6zM1476 303l-4-7 7 2zM1569 302l-3 5-1-6zM1469 303l-3-6 6-1z"/>
<path fill="#963072" d="M1247 417l6 1-3 5zM1268 480l-2 4-5-4zM1313 324l-7-1 5-2zM1363 284l-8 1 4-5z"/>
<path fill="#9c3060" d="M1266 427l4-4 4 4zM1270 423l-4 4-2-7zM1271 415l-1 8-6-3zM1278 420l-8 3 1-8zM1454 249l-6 3 5-5zM1462 250l-8-1 3-6zM1288 503l6 4-5 5zM1331 325l6-6 0 4z"/>
<path fill="#ba5a48" d="M1373 525l5-7 3 7zM1419 329l-6-4 5-1zM1395 354l-5-2 2-4zM1457 302l-3 8-1-6z"/>
<path fill="#cc7254" d="M1377 509l-5 0 2-9z"/>
<path fill="#fc8a60" d="M1360 486l-4-6 5-2z"/>
<path fill="#8a3c36" d="M1353 508l1 7-5-1zM1331 477l-1-4 6 5z"/>
<path fill="#904236" d="M1360 518l-6-3 7 0z"/>
<path fill="#c65a48" d="M1360 518l5 2-3 3zM1516 289l-4 3 0-6zM1416 318l3-3 4 6zM1350 423l-9-2 3-6zM1341 450l2 5-9 2z"/>
<path fill="#96423c" d="M1343 514l4-7 2 7zM1325 486l6-9 2 7zM1416 318l-9 3 6-6z"/>
<path fill="#541836" d="M1319 529l5 7-8 1zM1279 506l5-3 0 4z"/>
<path fill="#601e36" d="M1324 536l2-7 3 9zM1311 521l6 2-6 0zM1516 258l-5-3 1-5zM1341 536l7 1 2 6zM1284 400l2 6-8-2zM1291 395l-2 3-4-3zM1289 398l-5 2 1-5z"/>
<path fill="#9c364e" d="M1330 524l-4 5-2-5zM1293 472l6 2-5 3zM1356 330l2-7 2 6z"/>
<path fill="#722442" d="M1319 529l7 0-2 7zM1286 487l5 4-6 0zM1292 384l-4 0 3-9zM1296 387l-9 2 5-5z"/>
<path fill="#5a1842" d="M1305 530l11 7-19-8zM1296 526l-5-2 2-6z"/>
<path fill="#c0484e" d="M1331 508l-7-1 5-4zM1357 346l10 4-6 2zM1367 350l-7-9 7-1zM1345 369l-2-4 5 1zM1496 271l1 8-7 0zM1500 272l-3 7-1-8zM1314 416l3 2-9 5z"/>
<path fill="#ea5a5a" d="M1331 508l7 1-1 4zM1407 309l7-3-1 9zM1488 273l2 6-6 1zM1385 337l-5-5 7-3zM1353 369l-8 0 3-3z"/>
<path fill="#903636" d="M1323 478l2 8-4-1zM1334 397l-4 1 0-3z"/>
<path fill="#c03c5a" d="M1298 484l-4-7 9 2zM1531 266l-6 2 2-6zM1308 399l-2 6-5-4zM1293 426l5 7-7 1z"/>
<path fill="#de486c" d="M1306 485l-8-1 5-5zM1493 263l-5-3 7-3zM1450 268l-4-1 1-3zM1446 267l1 4-6 1zM1301 401l0 4-7 1zM1293 426l1-5 4 5z"/>
<path fill="#d25454" d="M1316 466l5 0-1 7zM1365 358l-7 2 3-8zM1326 438l3 5-8 0zM1367 350l-2 8-4-6zM1343 378l4 3-10 1zM1453 284l3 5-5 0z"/>
<path fill="#de5454" d="M1321 466l-5 0 2-6z"/>
<path fill="#e45460" d="M1316 466l-4-5 6-1zM1332 383l-1-6 6 5zM1488 273l-9 2 3-8zM1381 321l2-8 6 5zM1306 475l4-9 4 6zM1355 355l-3 6-2-9zM1314 416l-6 7-2-8z"/>
<path fill="#e46054" d="M1328 458l-1-8 5 0zM1516 280l6 7-6 2zM1473 284l8 1-3 5zM1487 283l6 3-4 6zM1455 294l-9 2 5-7zM1391 335l-6 2 2-8zM1338 416l-4 1 3-6z"/>
<path fill="#ea605a" d="M1327 450l-3 6-5-7zM1522 287l-6-7 6 0zM1422 306l-3 9-5-9zM1481 285l-8-1 5-4zM1380 332l5 5-5-1zM1527 285l-5 2 0-7zM1469 280l4 4-7 1zM1456 289l-1 5-4-5zM1357 375l-4-6 6 3z"/>
<path fill="#fc6660" d="M1321 443l6 7-8-1zM1361 364l4-6 4 8zM1337 411l-8 1 2-6zM1343 378l7-3-3 6z"/>
<path fill="#ae4e42" d="M1328 435l7-3-3 6zM1418 324l-2-6 7 3zM1497 290l3-4 5 5zM1377 355l7 3-7 1zM1455 294l-2 10-7-8zM1446 296l7 8-9-3z"/>
<path fill="#c65448" d="M1326 438l2-3 4 3zM1405 323l-3 9-3-7z"/>
<path fill="#f65a66" d="M1311 449l7-4 1 4zM1331 377l6 0 0 5zM1343 378l-6-1 3-7zM1527 274l-5 6-3-7zM1314 407l5-3 1 7z"/>
<path fill="#e45a5a" d="M1318 445l3-2-2 6zM1325 406l5-8 1 8zM1522 280l-6 0 3-7zM1490 279l-3 4-3-3zM1354 531l3-5 0 6zM1349 527l8-1-3 5zM1365 358l-4 6-3-4zM1361 364l-5 2 2-6zM1325 406l4 6-9-1zM1356 366l-3 3-5-3zM1329 412l-5 6-4-7zM1334 417l-10 1 5-6z"/>
<path fill="#9c304e" d="M1298 461l-5-1 3-4zM1387 297l5-8 4 6zM1468 260l-6 4 1-6zM1304 392l-5 2 2-6zM1356 330l-5-4 7-3z"/>
<path fill="#c6425a" d="M1305 461l-7 0 5-6zM1479 263l3 4-4 1zM1453 274l4-7 2 5zM1419 292l-6-1 2-8zM1303 468l-5-7 7 0zM1400 297l6 6-6-1zM1299 474l7 1-3 4zM1508 267l7-4 2 4zM1531 266l4 7-8 1z"/>
<path fill="#a8364e" d="M1299 451l4 4-7 1zM1474 262l5 1-1 5zM1391 302l-4-5 9-2zM1309 502l3-7 4 6zM1383 313l1-7 3 1zM1330 366l-6 3-2-4zM1305 498l3-7 4 4zM1344 349l3-6 3 9zM1433 272l5 8-7-1zM1305 498l-2-6 5-1z"/>
<path fill="#7e2a3c" d="M1299 451l-7-1 6-4zM1502 263l1-8 4 9zM1293 441l-1 9-4-5zM1511 255l4 8-8 1zM1340 531l-7-1 1-5zM1348 537l-7-1 6-6z"/>
<path fill="#967854" d="M1595 381l5-4 3 6zM1593 432l2-6 3 7zM1420 457l10-2-5 6zM1432 463l2 5-5-1zM1483 369l-3 8-3-6zM1418 418l7-1-4 5zM1417 427l-1 5-3-5z"/>
<path fill="#a88a66" d="M1591 389l4-8 5 8zM1574 365l5-1-4 7zM1564 360l7-2-5 8zM1527 366l-2-5 7 3z"/>
<path fill="#ba9c72" d="M1595 381l-4 8-1-7zM1494 377l-5 4-1-4zM1423 445l3 2-2 2z"/>
<path fill="#ba724e" d="M1604 365l-2-8 6 1zM1600 354l2-5 6 9zM1501 320l3-6 2 5zM1413 370l-9 2 3-7zM1434 342l9-2-7 7zM1413 370l-3 6-6-4z"/>
<path fill="#eab47e" d="M1590 369l1-6 8 1zM1598 372l-8-3 9-5zM1585 364l6-1-1 6zM1552 349l-7-9 8 4zM1500 352l-7 1 6-4z"/>
<path fill="#b4845a" d="M1598 372l1-8 5 7zM1576 348l-5-5 8-2zM1499 337l3-2 3 6zM1443 377l-4-8 4 1zM1476 352l-5 7-3-6z"/>
<path fill="#a87e54" d="M1600 377l-2-5 6-1zM1611 405l-3-5 5 0zM1431 394l2-8 5 9z"/>
<path fill="#e4ae78" d="M1591 363l-6 1 6-4zM1510 347l-5-6 5-4z"/>
<path fill="#fcf0b4" d="M1521 468l-9 0 4-4zM1571 403l-8 3 3-6zM1559 400l4-5 3 5zM1492 417l5 0-4 4zM1489 422l-5-4 8-1zM1531 393l4 4-7 2zM1484 441l-5-2 0-4zM1479 439l5 2-3 2z"/>
<path fill="#eadea8" d="M1507 467l5 1 0 6zM1563 406l8-3-5 8zM1536 403l-5 3-3-7zM1484 429l-5 6-2-8z"/>
<path fill="#785a42" d="M1530 483l11-3-16 9z"/>
<path fill="#966c4e" d="M1507 489l8 2-12 5zM1439 386l-6 0 6-3z"/>
<path fill="#846642" d="M1499 490l8-1-4 7zM1435 398l-4-4 7 1z"/>
<path fill="#968a66" d="M1512 474l-6 6 0-5zM1586 410l4 8-7-2zM1565 451l-7-2 3-3zM1466 468l-2 7-2-9zM1490 472l6 9-10-3zM1461 424l4-10 3 6zM1554 388l-3-7 5 2zM1507 397l5 7-9 0zM1454 456l4 4-9 3zM1461 445l-8 1 3-6z"/>
<path fill="#908460" d="M1514 479l-8 1 6-6zM1591 405l-5 5-4-4zM1519 474l1 7-6-2zM1496 481l3-2 0 5zM1486 478l10 3-7 2zM1473 416l1-4 3 4z"/>
<path fill="#5a4836" d="M1506 480l1 9-4-3z"/>
<path fill="#a29672" d="M1519 474l-5 5-2-5zM1586 410l-6 0 2-4z"/>
<path fill="#ded29c" d="M1519 474l-7-6 9 0zM1466 468l0-8 6 3zM1525 393l3 6-7 1z"/>
<path fill="#fcc68a" d="M1591 440l2-8 5 1zM1462 375l1 8-4 0zM1408 445l-4-7 7 1zM1510 347l-2 8-4-8zM1404 438l4-3 3 4zM1516 346l-1-5 5 1zM1510 347l6-1-1 8zM1502 359l-2-7 8 3z"/>
<path fill="#9c7e54" d="M1587 433l6-1-2 8zM1571 352l9 2-5 6z"/>
<path fill="#60543c" d="M1593 432l-6 1 1-4zM1590 418l1 5-3-1z"/>
<path fill="#fcfcba" d="M1572 400l-6 0 4-6zM1489 422l3-5 1 4zM1484 441l2 3-5-1z"/>
<path fill="#7e7e5a" d="M1557 403l-9 3 4-7zM1546 409l6 2-1 4z"/>
<path fill="#726c4e" d="M1574 435l-8-3 5-5zM1468 412l5 4-5 4zM1464 437l-3 8-5-5zM1467 444l-6 1 3-8z"/>
<path fill="#c0c096" d="M1542 433l6 1-6 3z"/>
<path fill="#605a42" d="M1574 435l1-7 5 5zM1583 426l4 7-7 0z"/>
<path fill="#7e7254" d="M1575 428l-1 7-3-8zM1586 410l5-5 1 6zM1454 456l-5 7-1-9zM1466 432l-2 5-2-4zM1451 452l3 4-6-2z"/>
<path fill="#6c6048" d="M1575 428l8-2-3 7zM1564 381l-6-4 7-2z"/>
<path fill="#5a543c" d="M1588 429l-5-3 5-4z"/>
<path fill="#d2724e" d="M1590 325l-9-1 5-4zM1562 315l-3-9 7 1z"/>
<path fill="#90543c" d="M1575 321l-5 4-3-6zM1406 479l3 7-5-3zM1448 490l3 7-6-2zM1405 360l2 5-5 1zM1443 340l-5-3 6 0z"/>
<path fill="#724830" d="M1558 318l6 7-8 0zM1395 489l-2 6-3-5zM1393 478l-2-4 7 0zM1425 484l7 1-3 5zM1596 348l-3-7 7 2z"/>
<path fill="#6c4230" d="M1564 325l-6-7 9 1zM1376 489l6 3-5 4zM1436 492l-4-7 5 0z"/>
<path fill="#b48a60" d="M1608 400l0-5 5 5zM1459 383l-6 3-4-4zM1410 410l3 1-3 6zM1568 354l2-7 1 5zM1453 386l-6 2 2-6zM1413 411l5 7-8-1zM1523 347l6-5-1 6zM1476 364l2-6 2 7z"/>
<path fill="#cca272" d="M1608 400l3 5-10 0zM1435 398l8 2-4 4zM1449 395l-6 5 1-9zM1415 455l-3-3 6-3zM1456 394l-7 1 4-9zM1516 346l4 9-5-1zM1417 427l4 6-5-1z"/>
<path fill="#8a785a" d="M1591 423l-1-5 6-1zM1437 460l8 1-6 6z"/>
<path fill="#aea278" d="M1586 399l5 6-9 1zM1532 463l6-2-5 7zM1561 446l4-8 1 7zM1580 410l6 0-3 6zM1498 404l3-4 2 4zM1547 388l4-7 3 7z"/>
<path fill="#6c5a3c" d="M1602 392l-5 1 3-4zM1520 481l5 6-8-3zM1417 427l-1-6 5 1z"/>
<path fill="#baa272" d="M1591 389l-4-2 3-5zM1481 479l5 6-5 4zM1561 366l-5 3-1-5z"/>
<path fill="#a8a278" d="M1538 461l-6 2 2-6zM1530 452l6-1-2 6zM1550 451l-2-5 7-2zM1562 429l-3-8 6 3zM1522 406l-2 5-1-6zM1515 411l-4 5-5-5zM1461 445l6-1-4 6z"/>
<path fill="#bab48a" d="M1532 463l-4-6 6 0zM1565 424l-6-3 3-6zM1520 411l8 1-5 4zM1516 415l4-4 3 5zM1514 421l-3-5 5-1z"/>
<path fill="#ccc08a" d="M1532 463l1 5-6 1zM1563 395l-4-7 7-2zM1475 422l8 0-6 5zM1466 456l0 4-7-3zM1542 389l5-1-2 4zM1542 389l-6-7 6 1z"/>
<path fill="#d2cc96" d="M1528 457l4 6-9 0zM1572 417l2-7 1 5z"/>
<path fill="#eacc90" d="M1548 364l7 0-6 6zM1461 399l5-1-2 8zM1445 427l-6-5 7 2zM1484 395l-7-4 4-2z"/>
<path fill="#a2906c" d="M1555 376l3 1-2 6zM1453 446l-2 6-5-9z"/>
<path fill="#f0dea2" d="M1563 395l3-9 4 8zM1576 393l3 5-7 2zM1536 382l6-5 0 6zM1531 381l-6 8-1-8z"/>
<path fill="#fcf6b4" d="M1566 400l-3-5 7-1zM1508 464l4 4-5-1zM1573 387l3 6-6 1zM1579 390l-6-3 5-6zM1573 387l6 3-3 3z"/>
<path fill="#848466" d="M1532 439l2 6-7 0zM1536 451l3-6 5 4z"/>
<path fill="#aea87e" d="M1548 446l-9-1 3-8zM1491 451l1-8 5 6zM1501 468l6-1-1 8zM1544 404l2-7 2 9zM1546 397l-1-5 4-1zM1552 427l2 5-6 2zM1554 432l-5 6-1-4zM1572 417l1 7-8 0zM1503 463l-4 1 3-8zM1562 432l-6-2 6-1z"/>
<path fill="#78725a" d="M1542 456l-6-5 8-2zM1552 411l-6-2 2-3z"/>
<path fill="#f0f0b4" d="M1535 428l-5-1 5-4zM1486 434l5-8 3 7zM1530 427l-2-6 7 2zM1519 420l3 7-4 0zM1519 420l9 1-6 6zM1514 421l4 6-7-1z"/>
<path fill="#d8dea8" d="M1530 427l5 1-8 4z"/>
<path fill="#b4b48a" d="M1532 439l-8 1 3-8zM1548 434l1 4-7-1zM1535 434l7-1 0 4zM1524 440l-6-7 9-1zM1502 432l7 1-7 5z"/>
<path fill="#847854" d="M1560 454l-2-5 7 2zM1467 480l-3-5 7 0zM1449 463l-4-2 3-7zM1465 414l3-2 0 8z"/>
<path fill="#a29c72" d="M1550 451l-3 5-3-7zM1501 468l2-5 4 4zM1565 438l4 0-3 7zM1573 424l2 4-4-1zM1497 475l4-7 5 7z"/>
<path fill="#a84e3c" d="M1505 291l7 1-5 5zM1378 530l-5-5 8 0zM1552 295l-5 0 1-5zM1347 504l8-4-2 8zM1469 303l-3-2 0-4zM1466 301l-9 1 9-5z"/>
<path fill="#de6c54" d="M1512 292l4-3 4 7zM1350 423l-6-8 8 0zM1365 520l5-2 0 5zM1531 292l1 3-4 1zM1371 369l3 7-5 2z"/>
<path fill="#f66060" d="M1478 280l1-5 5 5zM1479 275l9-2-4 7zM1527 285l-5-5 7-2z"/>
<path fill="#783030" d="M1508 284l-8 2 5-5zM1328 435l-5-1 5-5zM1323 434l-4-4 9-1z"/>
<path fill="#ae3c48" d="M1542 279l-7 0 7-5zM1509 274l-1-7 4 6zM1495 269l5 3-4-1zM1343 365l-3 5-4-7zM1348 366l-5-1 1-7z"/>
<path fill="#f65466" d="M1512 273l5-6 2 6z"/>
<path fill="#6c1e42" d="M1517 243l3 9-8-2zM1305 520l6 3-8 4z"/>
<path fill="#601e30" d="M1503 255l8 0-4 9zM1311 521l5-9 4 6zM1323 355l4-3 0 8zM1350 543l-2-6 8-1zM1341 536l-4 1 3-6z"/>
<path fill="#ae3654" d="M1503 255l-1 8-7-6zM1286 438l7 3-5 4zM1291 434l2 7-7-3zM1304 392l-3 9-2-7zM1339 348l5-7 0 8z"/>
<path fill="#721e72" d="M1432 220l2 9-7-3zM1347 269l-6-8 7 0zM1240 384l-3-7 5-2z"/>
<path fill="#963084" d="M1454 228l5 0-2 6z"/>
<path fill="#84247e" d="M1454 228l-5-2 2-5zM1393 234l-7 4-1-5zM1439 228l6-8 4 6zM1354 261l-4-5 10 0zM1233 380l4-3 3 7zM1263 343l6-3-2 6zM1269 340l-6 3 3-7zM1330 284l-9 2 3-6zM1259 346l-3 7-3-4z"/>
<path fill="#722460" d="M1439 228l5 7-6-1zM1451 234l-7 1 5-9zM1423 232l9 2-4 4zM1290 332l2 4-5 1zM1283 329l7 3-3 5zM1349 285l-7 0 2-8zM1349 274l4 5-9-2zM1264 374l-8 1 4-3zM1310 307l6-1-4 5z"/>
<path fill="#962a6c" d="M1440 241l5 2-8 1zM1420 256l-11 0 4-5zM1271 489l-5-5 6 1zM1282 366l-3-7 5 0zM1262 400l-2 3-2-5z"/>
<path fill="#8a2a54" d="M1467 250l-5 0 1-4zM1303 515l-2 5-3-6z"/>
<path fill="#963048" d="M1474 262l-6-2 3-5zM1387 301l4 1-4 5zM1422 273l6 2-2 6zM1293 441l-2-7 7 5zM1324 517l6 7-6 0zM1308 399l-4-7 9 0zM1304 392l6-4 3 4z"/>
<path fill="#ae364e" d="M1502 263l-9 0 2-6z"/>
<path fill="#c63c6c" d="M1489 251l-6 4-2-5zM1402 283l-8 3 4-6zM1365 313l-8 1 5-7zM1441 260l-2 9-3-7zM1313 371l-3-5 4 0z"/>
<path fill="#962a72" d="M1473 232l3 3-8 3zM1275 366l-1-7 5 0zM1327 307l-5 1 5-6zM1334 303l-7 4 0-5z"/>
<path fill="#d2427e" d="M1473 251l-2-4 8-3z"/>
<path fill="#a83084" d="M1409 249l3-3 1 5zM1248 429l-7-1 3-5z"/>
<path fill="#b4367e" d="M1427 251l2-4 4 3z"/>
<path fill="#ae367e" d="M1427 251l-3-6 5 2zM1303 341l-4-4 5-2zM1310 332l4 3-10 0zM1310 332l3-8 1 5zM1281 372l-6-6 7 0zM1272 372l4 4-6-2zM1261 394l-3 4-4-4zM1261 394l1 6-4-2zM1266 383l4 5-7-2z"/>
<path fill="#c03c7e" d="M1430 258l-3-7 6-1zM1348 309l-5-3 2-6zM1355 295l5 1-1 6z"/>
<path fill="#a24e3c" d="M1539 297l-1-8 4 2zM1419 329l5-5 4 5zM1360 501l-1 7-4-8zM1384 358l6-6 0 7zM1361 399l3-7 4 7z"/>
<path fill="#6c302a" d="M1545 284l3 6-6 1zM1410 490l-1-4 5 5zM1337 466l4 6-11 1zM1395 489l3 5-5 1zM1354 388l6 5-8 2zM1338 428l6 0-3 6z"/>
<path fill="#8a3636" d="M1545 284l8 2-5 4z"/>
<path fill="#8a4236" d="M1547 295l-8 2 3-6zM1348 397l-3-3 7 1zM1352 395l8-2-5 5z"/>
<path fill="#de6054" d="M1538 289l-7 3 3-9zM1337 447l-8-4 3-5zM1469 290l4-6 5 6zM1397 334l5-2 1 5zM1394 329l8 3-5 2zM1365 358l9 0-5 8zM1391 335l3-6 3 5zM1357 375l3 7-8-2zM1337 492l2 3-8 2zM1337 492l-4-8 6 2zM1364 377l-7-2 2-3z"/>
<path fill="#d87854" d="M1539 297l-3 7-5-2zM1536 304l8-3-6 5zM1538 306l6-5 4 5zM1412 360l-4-7 8 2zM1383 386l-6-5 8 1zM1389 376l3 8-7-2zM1457 325l-5-6 10 1zM1559 306l3 9-7-2z"/>
<path fill="#fcc084" d="M1499 349l1-5 4 3zM1400 445l4-7 4 7zM1400 445l4 6-6 0zM1404 451l-4-6 8 0zM1493 353l-4-5 10 1zM1489 348l3-5 7 6zM1515 341l-5 6 0-10zM1515 341l4-4 1 5z"/>
<path fill="#fcba84" d="M1500 344l5-3-1 6zM1563 336l7 0-4 5zM1571 343l-6 3 1-5z"/>
<path fill="#9c4e3c" d="M1500 296l5-5 2 6zM1344 428l3 6-6 0z"/>
<path fill="#ea7e5a" d="M1523 302l5-6 3 6zM1523 302l-2 6-4-6zM1367 513l5-4 4 6zM1548 303l10 1-4 6zM1452 319l5 6-6 0zM1558 304l1 2-5 4z"/>
<path fill="#e4785a" d="M1523 302l-6 0 3-6zM1442 331l-9 1 3-9zM1410 350l-5-3 8-3zM1418 347l1-10 4 4z"/>
<path fill="#fcc684" d="M1560 343l3-7 3 5z"/>
<path fill="#cc8a60" d="M1417 474l-2 3-5-3z"/>
<path fill="#e4c08a" d="M1437 474l-3-6 5-1zM1447 480l-4-5 9-2zM1473 386l-3 6-1-4zM1470 392l-4 6-3-3zM1481 389l-4 2-4-5zM1506 366l2 5-6 0z"/>
<path fill="#f0c08a" d="M1434 468l3 6-5-1zM1594 376l-7 1 3-8zM1463 383l8-3-2 8zM1497 358l5 1-3 4zM1416 432l4 9-9-2z"/>
<path fill="#a2845a" d="M1420 457l-5-2 3-6z"/>
<path fill="#9c7e5a" d="M1420 462l-5-7 5 2zM1483 369l-6 2 3-6zM1579 364l3-6 3 6zM1426 423l-1 3-4-4z"/>
<path fill="#deb47e" d="M1443 475l-2 5-4-6zM1475 375l-4 5-2-5zM1439 404l4-4 1 6zM1449 398l-6 2 6-5z"/>
<path fill="#f0c690" d="M1443 475l-6-1 2-7zM1438 416l5-4 2 4z"/>
<path fill="#f6d296" d="M1449 469l-6 6-4-8zM1457 405l4-6 3 7zM1439 422l6 5-7 2z"/>
<path fill="#dec08a" d="M1443 475l6-6 3 4zM1555 364l1 5-7 1zM1532 364l6 6-6 2z"/>
<path fill="#d8c690" d="M1471 475l-5-7 6 0zM1494 397l4 7-9 1zM1570 380l3 7-7-1zM1486 410l-1-4 4-1zM1515 389l2 3-7 2z"/>
<path fill="#ead8a2" d="M1466 468l6-5 0 5zM1517 392l5-5 3 2z"/>
<path fill="#f0a872" d="M1399 414l-9 3 5-8zM1525 331l0 3-6-6zM1394 421l-4-4 9-3zM1463 355l-4 5-7-5zM1399 405l3 4-7 0zM1431 380l2 6-6 1zM1412 406l-5-7 6-1zM1449 364l-8 1 2-6zM1426 380l5 0-4 7zM1431 380l-5 0 2-2zM1576 337l-6-1 2-4zM1484 335l5 7-8-1z"/>
<path fill="#a27e5a" d="M1449 484l10 0-3 6zM1443 400l-8-2 3-3zM1571 358l0-6 4 8zM1406 426l1-2 6 3z"/>
<path fill="#846c4e" d="M1466 485l-5 6-2-7zM1527 355l1-7 5 7z"/>
<path fill="#ae9c72" d="M1486 485l-5-6 5-1zM1555 376l-8 2 2-8zM1551 381l4-5 1 7zM1583 392l6 2-3 5zM1456 416l9-2-4 10z"/>
<path fill="#a89672" d="M1478 472l3 7-7 1z"/>
<path fill="#661e78" d="M1375 228l7-1-2 6zM1388 226l-6 1 2-7zM1206 417l-2-8 7 0zM1206 427l4 7-8-1zM1352 246l-2 5-6-7zM1445 220l-8 0 3-2zM1445 220l-5-2 8-3zM1278 290l4 5-5 3zM1228 370l-8 2 4-7zM1316 262l8-1-5 7zM1228 370l-4 4-4-2zM1237 353l-8 1 3-5zM1343 251l3 4-6-1z"/>
<path fill="#782484" d="M1382 227l3 6-5 0zM1318 280l0-9 5 2zM1311 278l7-7 0 9zM1290 295l-4 6-4-6zM1279 301l7 0-4 6z"/>
<path fill="#a83672" d="M1374 279l1-7 2 8zM1365 288l-2-4 6 0zM1358 291l5-7 2 4z"/>
<path fill="#8a2a84" d="M1395 240l-2-6 5-2zM1386 238l0 7-6-5zM1290 310l2-7 3 5zM1292 303l8-1-5 6zM1321 286l-1 4-6-4z"/>
<path fill="#842484" d="M1386 238l-6 2 0-7zM1360 256l-10 0 4-7zM1262 331l9 0-5 5z"/>
<path fill="#842a7e" d="M1386 238l7-4 2 6zM1333 281l-3 3-6-4zM1259 346l4-3 4 3z"/>
<path fill="#481254" d="M1367 234l4-2-4 5zM1261 309l6 5-9-1zM1404 222l7 0-4 5zM1404 222l-1-4 5-2zM1411 222l-7 0 4-6zM1212 454l-5 8-4-8zM1325 257l7 0-3 6zM1269 309l6 4-8 1z"/>
<path fill="#8a543c" d="M1373 457l-2-6 6-2zM1377 444l1-7 4 6zM1382 492l-6-3 3-3zM1600 354l-4-6 6 1z"/>
<path fill="#a26042" d="M1371 451l-6 1 3-6zM1365 452l6-1-4 6zM1376 489l-3 6-5-4zM1391 485l-5-2 3-2zM1375 399l9-4-1 5zM1438 337l4-6 2 6zM1504 314l-6 0 2-5zM1558 318l4-3 5 4zM1414 366l-1 4-6-5z"/>
<path fill="#905a3c" d="M1377 444l5-1-5 6z"/>
<path fill="#a86648" d="M1378 437l-1 7-5-7zM1420 484l-11 2 6-9zM1414 366l5 3-6 1z"/>
<path fill="#784830" d="M1371 451l6-7 0 5zM1377 496l7 1-4 7zM1384 395l8-4 1 7z"/>
<path fill="#844e36" d="M1377 444l-6 7-3-5zM1441 492l7-2-3 5zM1412 360l-5 5-2-5z"/>
<path fill="#fca26c" d="M1381 411l7-2-3 7zM1388 409l2 8-5-1zM1390 417l-2-8 7 0zM1431 360l-1 3-4-5zM1404 381l8 2-6 3zM1476 331l-6 3-1-4zM1466 326l6 1-3 3z"/>
<path fill="#c06048" d="M1361 399l3 6-5 0zM1350 423l6 0-3 3zM1367 513l-2 7-4-5zM1399 349l-4 5-3-6z"/>
<path fill="#60362a" d="M1377 496l-3 4-1-5z"/>
<path fill="#66362a" d="M1384 497l-2-5 8-2zM1395 489l-4-4 9-1z"/>
<path fill="#5a362a" d="M1377 496l5-4 2 5z"/>
<path fill="#de9060" d="M1383 480l-4-7 5 1zM1382 434l-5-5 7 0zM1439 352l-3 5-2-2z"/>
<path fill="#966042" d="M1383 480l3 3-7 3zM1393 398l-1-7 5 2zM1386 483l5 2-1 5zM1452 346l-6-6 8 1z"/>
<path fill="#e49066" d="M1383 480l-9-3 5-4zM1374 477l9 3-4 6zM1538 314l-6 7-4-6zM1434 355l2 2-5 3zM1439 352l-5 3 2-8z"/>
<path fill="#783c2a" d="M1391 508l-3-4 5-9zM1466 301l0 5-9-4z"/>
<path fill="#904836" d="M1391 508l-2 5-6-5zM1390 359l5-5 5 7zM1390 359l0-7 5 2zM1372 394l-3-8 6 2zM1364 392l8 2-4 5zM1566 307l7 1-1 6zM1466 306l3-3 6 3z"/>
<path fill="#f6a272" d="M1388 457l-2 6-3-6zM1441 365l-5-8 7 2z"/>
<path fill="#e49c6c" d="M1388 457l2-7 7 7zM1510 325l9 0 0 3z"/>
<path fill="#d29060" d="M1393 444l-5 1 5-7zM1428 378l-3-9 7 2zM1588 343l-9-2 4-4zM1481 341l-7 3 3-9z"/>
<path fill="#f6a872" d="M1393 444l-3 6-2-5zM1450 360l-1 4-6-5zM1524 324l3-4 3 3zM1450 360l-3-9 5 4zM1447 351l3 9-7-1zM1426 380l-8 1 2-4zM1576 337l-4-5 8-3z"/>
<path fill="#cc9060" d="M1390 450l3-6 5 7zM1407 399l3-5 3 4zM1502 335l3-4 5 6z"/>
<path fill="#966642" d="M1397 457l-1 7-3-1z"/>
<path fill="#9c6c48" d="M1404 463l-8 1 1-7zM1499 337l-8-1 4-7zM1498 325l1 6-4-2z"/>
<path fill="#f0845a" d="M1357 427l3-5 7 5zM1544 301l4 2 0 3zM1445 326l1-6 5 5z"/>
<path fill="#723c2a" d="M1350 464l6 5-7-1zM1409 486l-8 3 3-6zM1359 508l1-7 3 6zM1420 484l0 6-6 1zM1409 486l11-2-6 7z"/>
<path fill="#b46042" d="M1358 463l-8 1 4-7zM1372 509l-5 4-4-6zM1377 381l6 5-8 2z"/>
<path fill="#96543c" d="M1358 463l3-9 4 8zM1378 392l6 3-9 4zM1438 337l-6 1 1-6z"/>
<path fill="#e46654" d="M1332 450l9 0-7 7zM1344 415l-6 1 5-5zM1402 332l7-2-6 7zM1370 523l-3 9-5-9zM1374 358l2 8-7 0zM1391 335l5 7-8 0zM1339 495l-2-3 3-3z"/>
<path fill="#963066" d="M1384 267l8 0-3 7z"/>
<path fill="#d2426c" d="M1402 283l5 6-9 0zM1446 267l-7 2 2-9zM1347 335l-3 6-4-3zM1433 272l0-5 6 2zM1288 421l-1 7-4-6zM1294 410l-6 1 6-5z"/>
<path fill="#de4278" d="M1402 283l-4-3 8-2z"/>
<path fill="#b43c4e" d="M1391 302l9 0-6 5zM1313 392l3-5 6 2z"/>
<path fill="#9c3648" d="M1400 302l-9 0 5-7zM1364 337l-6 0 2-8zM1337 359l4-6 3 5zM1365 326l4-9 3 9zM1334 525l-1 5-3-6zM1308 399l5-7 4 6zM1438 280l-3 4-4-5z"/>
<path fill="#cc4272" d="M1398 280l-4 6-2-8z"/>
<path fill="#902a48" d="M1387 297l-7-2 4-3zM1462 264l-6-9 7 3z"/>
<path fill="#b45442" d="M1444 301l4 7-8-2zM1378 530l-8 0 3-5zM1341 478l0-6 4 3zM1341 472l0 6-5 0zM1532 295l6-6 1 8zM1347 504l6-9 2 5zM1392 348l-2 4-5-4zM1339 463l4-8 1 9zM1339 463l-7 0 2-6zM1339 463l-2 3-5-3zM1384 358l-3 6-4-5zM1472 296l-6 1 3-7z"/>
<path fill="#ba484e" d="M1425 292l4 3-3 6zM1330 398l-5 8-1-6zM1325 406l-6-2 5-4zM1331 508l-4 4-3-5z"/>
<path fill="#b44848" d="M1435 298l2-7 5 4zM1405 314l2-5 6 6zM1381 342l-5 0 4-6zM1347 381l-6 8-4-7zM1367 532l-4 5-6-5z"/>
<path fill="#a84248" d="M1437 291l-8 4 3-6z"/>
<path fill="#d8664e" d="M1435 320l-6-3 4-3zM1347 504l-3-8 9-1zM1364 377l1 6-5-1z"/>
<path fill="#d86c4e" d="M1441 318l-6 2 2-8zM1513 298l-1-6 8 4zM1356 423l1 4-4-1zM1419 337l-6 0 0-6z"/>
<path fill="#f67e60" d="M1446 320l-5-2 2-5zM1405 347l4-7 4 4zM1356 480l-6 6 1-5zM1378 370l8-2-6 10zM1485 306l-3-4 7 1z"/>
<path fill="#f0605a" d="M1481 285l-3-5 6 0zM1392 327l2 2-7 0zM1456 289l-3-5 10-1z"/>
<path fill="#ea6654" d="M1481 285l4 6-7-1zM1367 532l-10-6 5-3z"/>
<path fill="#ea665a" d="M1469 290l-7 0 4-5zM1332 450l-3-7 8 4zM1481 285l6-2-2 8zM1339 495l3 7-7 1z"/>
<path fill="#ea4e66" d="M1413 291l3 7-7-1z"/>
<path fill="#cc4854" d="M1420 297l-1-5 6 0zM1496 271l-8 2 3-6zM1377 326l-1 5-4-5zM1535 273l0 6-6-1zM1527 274l8-1-6 5z"/>
<path fill="#d2485a" d="M1416 298l3-6 1 5zM1360 341l-3 5-1-6zM1381 321l-4 5-2-5z"/>
<path fill="#c6c090" d="M1481 457l1 4-6 2zM1545 392l1 5-7 3zM1574 410l-2 7-6-6zM1486 444l5 7-5 1zM1505 416l-8 1 3-8z"/>
<path fill="#fcd296" d="M1469 388l-6 7-3-7zM1443 412l4-2-2 6zM1453 404l-6 6-3-4zM1454 398l7 1-4 6zM1461 399l-5-5 7 1zM1453 404l-4-6 5 0zM1433 435l-4-2 0-7zM1424 440l-3-7 8 0zM1420 441l-5 5-4-7z"/>
<path fill="#eac68a" d="M1470 392l-7 3 6-7zM1466 398l-5 1 2-4z"/>
<path fill="#f6c68a" d="M1463 383l6 5-9 0zM1555 347l-2 6-1-4z"/>
<path fill="#fccc90" d="M1459 383l4 0-3 5zM1415 446l-7-1 3-6zM1542 349l10 0-6 4z"/>
<path fill="#f0ba84" d="M1463 383l-1-8 7 0zM1453 386l6-3 1 5zM1508 355l-8-3 4-5z"/>
<path fill="#d8a272" d="M1462 375l-8 0 3-4zM1454 375l8 0-3 8zM1412 406l8 1-7 4zM1471 359l-5 6-2-7z"/>
<path fill="#cc9066" d="M1431 394l-7 0 3-7zM1505 331l7 1-2 5z"/>
<path fill="#c69066" d="M1424 394l7 0-3 4zM1433 386l-2 8-4-7zM1400 455l4-4 2 6zM1468 353l3 6-7-1z"/>
<path fill="#c68a5a" d="M1456 346l7 9-11 0z"/>
<path fill="#ae8a60" d="M1477 371l-1-7 4 1zM1422 468l7-1-6 5zM1483 359l4 7-7-1zM1529 342l5 0-6 6zM1421 410l4 7-7 1z"/>
<path fill="#1e0c3c" d="M1195 335l-6-6 9 3z"/>
<path fill="#5a1284" d="M1238 312l3-4 7 5z"/>
<path fill="#48127e" d="M1229 307l3-5 5 6zM1192 388l-6 3-3-4zM1275 260l9 2-5 5z"/>
<path fill="#120c36" d="M1203 308l-6 1 7-13z"/>
<path fill="#0c0c24" d="M1213 292l-4 5-5-1z"/>
<path fill="#1e1242" d="M1197 317l3 8-7-2zM1208 312l-9 2 4-6z"/>
<path fill="#661e84" d="M1199 403l6-5 1 6z"/>
<path fill="#661884" d="M1199 403l-2 7-2-4zM1221 348l7 1-5 5zM1228 349l-7-1 3-6zM1229 343l-1 6-4-7zM1232 338l6 3-9 2zM1389 218l6-1-4 5zM1199 403l-3-2 9-3z"/>
<path fill="#781e84" d="M1224 388l-3 5-4-4zM1228 381l-4 7-5-5zM1257 329l-5 8-1-7z"/>
<path fill="#6c1e8a" d="M1229 354l-1-5 4 0zM1232 338l8-1-2 4zM1199 403l5 6-7 1z"/>
<path fill="#7e244e" d="M1278 485l-1-6 7 2zM1520 252l6 0-1 5zM1295 363l-1 7-6-5zM1533 262l-2-6 5 0zM1272 404l-1 8-6-6zM1297 378l-5 6-1-9zM1274 401l10-1-6 4z"/>
<path fill="#cc3c78" d="M1279 428l-5 7 0-8zM1356 309l3-7 3 5z"/>
<path fill="#601e2a" d="M1293 441l5-2 0 7z"/>
<path fill="#481842" d="M1248 485l4 0-2 7zM1239 404l-2 7-5-6z"/>
<path fill="#601e54" d="M1257 480l-5 5-2-6zM1239 404l6 1-3 4zM1340 274l-2 5-4-8zM1280 335l3-6 4 8zM1258 365l0-8 4 9z"/>
<path fill="#48123c" d="M1252 485l-4 0 2-6z"/>
<path fill="#ba3672" d="M1267 438l4 5-8 3zM1493 246l-10-1 3-7zM1368 297l-3-9 6 3zM1360 296l5-8 3 9zM1321 331l7-2-2 8z"/>
<path fill="#ba3c72" d="M1274 435l-7 3 1-3z"/>
<path fill="#c03c6c" d="M1271 441l8-2-2 7zM1271 443l0-2 6 5zM1367 302l2 5-7 0zM1367 302l1-5 6 4zM1369 307l-4 6-3-6zM1489 251l4-5-1 4zM1319 361l-5-3 1-3zM1341 332l-6-1 2-8zM1300 384l2-9 3 6zM1433 267l-6-6 9 1zM1331 336l4 7-8-1z"/>
<path fill="#421248" d="M1220 460l-5 0 0-2zM1207 462l8-2-4 8z"/>
<path fill="#48184e" d="M1213 452l5-8 1 7z"/>
<path fill="#5a1e54" d="M1229 446l-1 5-4-5z"/>
<path fill="#2a0c48" d="M1184 434l-2 7-4-8zM1180 426l4-4 2 5zM1210 330l8 1-5 3zM1187 438l-5 3 2-7z"/>
<path fill="#4e1860" d="M1207 462l-5 1 1-9zM1257 319l-3 5-5-5z"/>
<path fill="#541266" d="M1202 463l-5-7 6-2z"/>
<path fill="#541284" d="M1315 249l-4-4 8-2z"/>
<path fill="#903048" d="M1322 365l-3-4 8-1zM1330 366l-8-1 5-5zM1298 467l-5 5-6-3zM1333 530l-7-1 4-5z"/>
<path fill="#b43c5a" d="M1317 369l-3-3 8-1z"/>
<path fill="#d8486c" d="M1323 374l-6-5 7 0zM1488 260l-5-5 6 0zM1483 255l5 5-9-3zM1433 272l6-3 2 3zM1293 426l-6 2 1-7z"/>
<path fill="#d24266" d="M1317 369l6 5-7 3zM1488 260l1-5 6 2zM1488 260l-9 3 0-6zM1287 428l6-2-2 8zM1294 421l-1 5-5-5zM1298 417l-4 4-1-4z"/>
<path fill="#ba3c54" d="M1347 343l6 6-3 3z"/>
<path fill="#963648" d="M1365 326l3 3-8 0z"/>
<path fill="#60185a" d="M1333 268l7 1-6 2z"/>
<path fill="#d8545a" d="M1407 309l3-7 4 4z"/>
<path fill="#8a3042" d="M1384 306l3-5 0 6zM1340 531l-6-6 8 1z"/>
<path fill="#c6484e" d="M1392 314l1 7-4-3zM1410 302l8-1-4 5zM1377 326l9 0-6 6z"/>
<path fill="#c0425a" d="M1400 297l0 5-4-7zM1316 387l-4-6 8 1zM1369 317l1-2 5 6zM1525 268l6-2-4 8z"/>
<path fill="#ea8460" d="M1399 370l1 5-6 2zM1534 308l2-4 2 2zM1527 309l-4-7 8 0z"/>
<path fill="#ba6648" d="M1396 366l4-5 2 5zM1500 309l4-8 2 7z"/>
<path fill="#d87254" d="M1396 366l3 4-9-1zM1378 518l-8 0 6-3zM1357 427l-1-4 4-1zM1363 490l-7 1 4-5zM1356 491l-6-5 10 0z"/>
<path fill="#b46048" d="M1400 361l-5-7 6-1zM1396 366l-6-7 10 2zM1360 497l3-7 4 5zM1426 336l-7-7 9 0zM1419 337l7-1-3 5zM1372 394l3 5-7 0zM1356 491l7-1-3 7zM1479 309l-3-6 6-1zM1426 336l1 6-4-1zM1463 313l3-7 5 9z"/>
<path fill="#9c6642" d="M1454 341l6 0-4 5zM1393 478l-2 7-2-4z"/>
<path fill="#ba4254" d="M1330 366l10 4-9 2zM1340 370l-10-4 6-3zM1495 269l-2-6 9 0zM1535 279l0-6 7 1zM1305 428l-4-5 7 0zM1298 426l3-3 4 5z"/>
<path fill="#d84860" d="M1331 377l-8-3 8-2zM1488 260l5 3-2 4zM1488 260l3 7-9 0zM1383 313l-2 8-4-6zM1308 423l-7 0 5-8zM1301 423l-3-6 8-2zM1302 410l7 1-3 4z"/>
<path fill="#de4e66" d="M1331 377l-4 5-4-8z"/>
<path fill="#a2483c" d="M1348 397l4-2 3 3zM1413 325l3-7 2 6zM1416 318l-3 7-6-4zM1354 388l-2 7-1-8zM1374 358l3-3 0 4zM1338 428l3-7 3 7z"/>
<path fill="#f66c5a" d="M1338 416l-1-5 6 0z"/>
<path fill="#a8543c" d="M1344 428l6-5 3 3zM1360 393l1 6-6-1zM1343 466l-4-3 5 1zM1476 303l3 6-4-3zM1457 312l-3-2 8-1zM1454 310l3-8 5 7z"/>
<path fill="#8a4230" d="M1347 434l-3-6 9-2z"/>
<path fill="#d86c54" d="M1347 434l6-2-1 8zM1409 340l-7 0 1-3zM1482 302l-3-4 10-1zM1566 307l-7-1 6-5z"/>
<path fill="#c67854" d="M1377 429l-1-7 5-1zM1552 318l3-5 3 5zM1456 331l2 6-7-3zM1418 360l-4 6-2-6zM1427 342l7 0-3 7z"/>
<path fill="#661e42" d="M1271 412l-7 0 1-6zM1265 416l6-4 0 3zM1294 370l-6-1 0-4zM1284 503l4 0-4 4zM1334 314l3 5-9 0zM1334 314l-6 5-2-5z"/>
<path fill="#5a1e3c" d="M1271 412l-6 4-1-4zM1265 416l-6 0 5-4z"/>
<path fill="#721e5a" d="M1245 405l-6-1 5-5z"/>
<path fill="#48183c" d="M1237 411l2-7 3 5zM1284 523l-10-3 6 0z"/>
<path fill="#5a1e48" d="M1245 405l6 5-9-1zM1291 524l-6-3 8-3z"/>
<path fill="#a23084" d="M1248 400l-3-5 9-1z"/>
<path fill="#84245a" d="M1264 412l-4-9 5 3z"/>
<path fill="#ba3c6c" d="M1278 420l1 8-5-1zM1493 246l3-1-4 5zM1345 327l-4 5-4-9zM1307 371l-5 4-3-5zM1328 329l7 2-4 5z"/>
<path fill="#d8a26c" d="M1436 477l-9 3 5-7zM1529 342l-9 0 5-8z"/>
<path fill="#f0ae78" d="M1432 473l-5 7-4-8zM1419 399l-7 7 1-8z"/>
<path fill="#6c2430" d="M1357 542l6-5 3 7zM1298 439l9-1-3 7z"/>
<path fill="#84303c" d="M1363 537l-6 5-1-6zM1340 531l2-5 5 4z"/>
<path fill="#6c2436" d="M1357 542l-7 1 6-7zM1358 323l-3-3 7 0zM1327 352l10 1-5 7z"/>
<path fill="#662a2a" d="M1378 530l5 8-9-1zM1323 434l-6 1 2-5z"/>
<path fill="#7e3036" d="M1387 529l-9 1 3-5zM1324 507l-5 1 3-7zM1509 274l-9-2 2-4z"/>
<path fill="#a23642" d="M1378 530l9-1-4 9z"/>
<path fill="#ae5442" d="M1355 500l4 8-6 0zM1341 421l9 2-6 5zM1344 464l-1-9 7 1zM1339 463l4 3-6 0zM1387 367l-6-3 3-6z"/>
<path fill="#6c362a" d="M1359 508l-5 7-1-7zM1354 515l5-7 2 7zM1360 501l7 3-4 3z"/>
<path fill="#8a4836" d="M1367 504l-7-7 7-2zM1360 501l0-4 7 7z"/>
<path fill="#a83648" d="M1331 519l3 6-4-1zM1324 517l7 2-1 5zM1322 389l-6-2 4-5z"/>
<path fill="#4e182a" d="M1319 529l-7 3-1-9z"/>
<path fill="#5a1836" d="M1312 532l-7-2 6-7z"/>
<path fill="#48182a" d="M1312 532l7-3-3 8z"/>
<path fill="#421230" d="M1305 530l7 2 4 5z"/>
<path fill="#7e2448" d="M1305 520l6 1 0 2zM1542 266l-6 2 6-4zM1286 406l-2 4-6-6z"/>
<path fill="#5a1e30" d="M1317 523l2 6-8-6z"/>
<path fill="#7e2a42" d="M1319 529l-2-6 7 1zM1316 512l-5 9-1-8zM1327 352l-4 3 2-7zM1291 479l0 5-7-3z"/>
<path fill="#ea5460" d="M1327 512l4-4 6 5z"/>
<path fill="#6c243c" d="M1286 474l5 5-7 2zM1291 484l-5 3-2-6zM1326 529l7 1-4 8zM1284 400l5-2-3 8z"/>
<path fill="#96304e" d="M1291 479l2-7 1 5zM1503 255l2-6 6 6zM1291 484l0-5 3-2zM1355 320l2-6 5 6zM1433 267l-5 8-5-9zM1433 267l0 5-5 3zM1291 484l6 5-6 2z"/>
<path fill="#903c3c" d="M1324 473l-1 5-3-5z"/>
<path fill="#a24242" d="M1321 466l3 7-4 0z"/>
<path fill="#ba4e42" d="M1331 477l5 1-3 6z"/>
<path fill="#9c483c" d="M1330 473l11-1-5 6zM1424 324l-5 5-1-5zM1390 352l-6 6-1-5zM1569 302l4 6-7-1z"/>
<path fill="#964e3c" d="M1344 464l6-8 0 8zM1372 394l6-2-3 7zM1469 303l7 0-1 3z"/>
<path fill="#964836" d="M1344 464l6 0-1 4zM1390 352l-7 1 2-5zM1578 314l4 0-2 4z"/>
<path fill="#f66660" d="M1329 443l-2 7-6-7zM1350 375l3-6 4 6z"/>
<path fill="#f6665a" d="M1327 450l2-7 3 7zM1356 366l5-2-2 8z"/>
<path fill="#f05466" d="M1310 466l-5-5 7 0zM1310 466l-7 2 2-7zM1444 280l3-9 5 9zM1309 411l5-4 0 5zM1309 411l5 5-8-1zM1314 416l-5-5 5 1z"/>
<path fill="#de545a" d="M1310 466l6 0-2 6zM1316 466l-6 0 2-5zM1488 273l8-2-6 8zM1418 301l2-4 6 4zM1418 301l4 5-8 0zM1355 355l-2-6 8 3zM1358 360l-3-5 6-3zM1380 332l6-6 1 3zM1337 377l6 1-6 4zM1522 280l5-6 2 4zM1392 327l-6-1 7-5zM1463 283l-10 1 3-6zM1356 366l-4-5 6-1zM1317 418l-3-2 0-4z"/>
<path fill="#541e24" d="M1303 434l4 4-9 1z"/>
<path fill="#c68a60" d="M1596 360l6-3-3 7zM1433 386l-2-6 8 3zM1431 380l5-4 3 7zM1481 341l-2 7-5-4zM1441 365l8-1 0 6zM1439 369l2-4 2 5zM1439 369l-3 7-4-5zM1484 335l5-3 2 4z"/>
<path fill="#dea872" d="M1596 360l-5 3 0-3zM1549 335l8 2-4 7zM1466 365l-5-1 3-6zM1465 372l-4-8 5 1zM1408 435l-4 3-3-4z"/>
<path fill="#e4a872" d="M1591 363l5-3 3 4zM1454 375l-5-5 8 1z"/>
<path fill="#c0966c" d="M1595 381l-1-5 6 1zM1447 388l2 7-5-4z"/>
<path fill="#d8b47e" d="M1594 376l1 5-5 1zM1587 377l7-1-4 6zM1426 423l6-7 3 6z"/>
<path fill="#eaba84" d="M1598 372l-4 4-4-7zM1456 394l-3-8 7 2zM1510 360l-2-5 7-1zM1497 358l-1 6-6-7z"/>
<path fill="#e4c084" d="M1587 377l-5-6 8-2zM1499 363l3-4 4 7z"/>
<path fill="#fcdea2" d="M1582 371l5 6-9 1zM1582 383l-4-2 0-3zM1494 397l-8 3 3-7zM1445 427l-3 7-4-5zM1479 397l5-2 2 5zM1484 395l5-6 0 4zM1538 370l6 0-2 7zM1544 370l4-6 1 6zM1502 389l-6 0 7-5zM1495 380l6-3 2 7z"/>
<path fill="#f0cc96" d="M1575 371l7 0-4 7zM1454 410l3-5 4 7zM1456 416l-4 2 2-8z"/>
<path fill="#725a3c" d="M1580 354l2 4-7 2zM1530 483l5-5 6 2z"/>
<path fill="#b49060" d="M1585 364l-3-6 9 2z"/>
<path fill="#d8d8a2" d="M1503 463l5 1-1 3zM1531 416l5 2-1 5z"/>
<path fill="#fcf6ba" d="M1508 464l5-8 3 8zM1491 426l-5 8-2-5zM1490 439l-6 2 2-7z"/>
<path fill="#ded8a2" d="M1508 464l0-9 5 1zM1562 415l-1-6 5 2z"/>
<path fill="#726648" d="M1535 478l-3-7 4 3zM1512 486l-6-6 8-1zM1514 479l6 2-3 3z"/>
<path fill="#5a4e36" d="M1506 480l6 6-5 3z"/>
<path fill="#665436" d="M1515 491l-3-5 5-2z"/>
<path fill="#785a3c" d="M1507 489l5-3 3 5zM1420 462l2 6-9-1z"/>
<path fill="#c6c08a" d="M1522 473l-1-5 6 1z"/>
<path fill="#baa87e" d="M1527 480l-5-7 5-4zM1462 433l-6 7-2-7zM1579 398l4-6 3 7zM1551 381l-4 7-5-5zM1453 446l-7-3 5-5z"/>
<path fill="#fcf0ae" d="M1571 403l-5-3 6 0zM1538 370l4 7-9 0zM1538 366l6 4-6 0z"/>
<path fill="#aeae7e" d="M1544 404l2 5-6 0z"/>
<path fill="#dee4a8" d="M1540 421l-5 7 0-5z"/>
<path fill="#bab484" d="M1558 395l1 5-7-1zM1555 441l10-3-4 8zM1544 404l-8-1 3-3zM1536 403l8 1-4 5zM1542 389l3 3-8 0zM1484 418l-1 4-6-6zM1520 411l2-5 6 6z"/>
<path fill="#f6eaae" d="M1563 406l-4-6 7 0zM1483 422l6 0-5 7zM1486 434l-7 1 5-6zM1470 451l5 6-9-1zM1475 457l-5-6 8 0zM1472 446l7-7 2 4zM1470 451l2-5 6 5z"/>
<path fill="#d8cc9c" d="M1559 400l4 6-6-3zM1497 417l8-1-5 4z"/>
<path fill="#96906c" d="M1557 403l-5 8-4-5zM1573 424l2-9 4 9zM1515 411l-3-7 7 1zM1505 416l6 0-4 5zM1505 416l-5-7 6 2z"/>
<path fill="#9c966c" d="M1546 397l3-6 3 8zM1495 467l2 8-7-3zM1467 444l-3-7 8 0z"/>
<path fill="#847e5a" d="M1554 388l5 0-1 7zM1501 468l-4 7-2-8zM1466 432l-2-4 7 1zM1454 456l2-7 3 8zM1472 437l-8 0 2-5z"/>
<path fill="#786c54" d="M1559 388l-5 0 2-5z"/>
<path fill="#847e60" d="M1566 432l-1-8 6 3zM1493 455l6 9-9-3zM1552 427l-4-7 4 1z"/>
<path fill="#c0ba90" d="M1549 438l5-6 1 9z"/>
<path fill="#c6c690" d="M1572 417l-10-2 4-4zM1507 421l7 0-3 5z"/>
<path fill="#c07854" d="M1570 325l6-2-4 9zM1458 337l-4 4-3-7zM1549 311l3 7-4 2zM1393 403l-6-3 6-2zM1498 325l-5-6 8 1zM1452 346l-6 3 0-9zM1446 349l-7 3-3-5zM1413 370l6-1-6 7z"/>
<path fill="#de845a" d="M1576 323l5 1-1 5zM1379 407l5-2-3 6zM1518 313l3-5 2 6zM1538 314l-4-6 4-2zM1549 311l-7 4 6-9zM1428 354l3-5 3 6zM1427 342l4 7-6-3z"/>
<path fill="#ba6c48" d="M1576 323l4-5 1 6zM1384 395l-1-9 4 2z"/>
<path fill="#a89c78" d="M1575 415l5-5 3 6z"/>
<path fill="#c0a272" d="M1599 400l9 0-7 5zM1542 354l-7 4-2-3zM1531 359l4-1-3 6z"/>
<path fill="#8a724e" d="M1599 400l3-8 6 3zM1432 416l-6-4 10-3zM1531 359l-4-4 6 0z"/>
<path fill="#ba966c" d="M1608 400l-9 0 9-5zM1438 416l-6 0 4-7zM1510 360l7 0-4 4z"/>
<path fill="#ccb47e" d="M1587 387l-5-4 8-1zM1445 461l4 8-10-2zM1525 375l0-4 7 1zM1477 391l2 6-4 1z"/>
<path fill="#deba8a" d="M1582 383l5-6 3 5z"/>
<path fill="#fce4a2" d="M1587 377l-5 6-4-5zM1447 410l6-6 1 6zM1582 383l-3 7-1-9zM1548 364l-10 2 4-7z"/>
<path fill="#8a6c4e" d="M1533 355l-5-7 9-1zM1431 406l4-8 4 6zM1425 426l-8 1 4-5z"/>
<path fill="#f6cc90" d="M1542 354l4-1-4 6zM1456 394l5 5-7-1zM1473 386l4 5-7 1zM1496 370l3-7 3 8zM1501 377l-5-7 6 1z"/>
<path fill="#b49066" d="M1542 354l-9 1 4-8zM1487 366l-4 3-3-4zM1568 354l3 4-7 2zM1571 358l-3-4 3-2zM1487 366l9-2-7 7z"/>
<path fill="#fcd89c" d="M1546 353l5 5-9 1zM1551 358l-3 6-6-5zM1551 358l2-5 5 7zM1553 353l-2 5-5-5zM1435 422l4 0-1 7zM1453 404l4 1-3 5zM1453 404l1-6 3 7zM1430 437l3-2 4 2zM1544 370l-6-4 10-2zM1424 440l-4 1 1-8zM1501 377l7 0-5 7zM1508 377l-7 0 1-6z"/>
<path fill="#f6cc96" d="M1555 364l-4-6 7 2zM1424 440l5-7 1 4z"/>
<path fill="#fcde9c" d="M1548 364l3-6 4 6zM1447 410l-4 2 1-6zM1446 424l-7-2 6-6zM1437 437l-4-2 5-6zM1452 418l-5-8 7 0zM1447 410l5 8-7-2zM1452 418l4-2-3 6zM1449 398l4 6-9 2zM1430 437l-1-4 4 2zM1496 389l-1-9 8 4z"/>
<path fill="#9c9066" d="M1570 380l-6 1 1-6zM1496 481l1-6 2 4zM1561 370l-3 7-3-1z"/>
<path fill="#c6b484" d="M1564 381l6-1-4 6zM1492 409l-6 1 3-5zM1513 401l-6-4 3-3z"/>
<path fill="#aeb484" d="M1535 434l-3 5-5-7zM1542 433l-7 1 0-6z"/>
<path fill="#a2a27e" d="M1532 439l3-1-1 7zM1539 445l-4-7 7-1zM1501 445l-4-5 5-2z"/>
<path fill="#b4b484" d="M1535 438l0-4 7 3zM1540 421l8-1-5 8zM1512 441l2-8 2 5zM1556 430l6 2-8 0z"/>
<path fill="#8a8a66" d="M1519 444l5-4 3 5zM1499 464l-4 3-5-6zM1512 441l7 3-4 1z"/>
<path fill="#78785a" d="M1523 452l-4-8 8 1z"/>
<path fill="#8a8a6c" d="M1519 444l4 8-8-2zM1548 420l-4-4 7-1z"/>
<path fill="#c6664e" d="M1517 302l-4-4 7-2zM1510 302l3-4 4 4zM1498 304l-4-8 6 0zM1387 367l3-8 6 7z"/>
<path fill="#f0725a" d="M1489 297l-4-6 4 1zM1489 297l-10 1 6-7zM1351 489l-11 0 6-5zM1402 340l-3 9-3-7zM1559 295l-1 9-6-9zM1558 304l1-9 6 6z"/>
<path fill="#f65a60" d="M1516 280l-4-7 7 0z"/>
<path fill="#d85a4e" d="M1516 280l0 9-4-3zM1424 314l-2-8 8 2z"/>
<path fill="#7e2454" d="M1536 256l-10-4-1-7zM1259 416l6 0-1 4zM1531 256l-5-4 10 4zM1274 489l7 5-9 1z"/>
<path fill="#a23060" d="M1448 252l6-3-3 7zM1298 514l-4-7 7 0zM1356 309l1 5-7 1zM1312 349l6-2-3 8zM1284 400l-6-8 7 3zM1278 392l6 8-10 1zM1281 390l6-1-2 6z"/>
<path fill="#d84866" d="M1450 268l7-1-4 7zM1479 263l9-3-6 7zM1312 381l4-4 4 5zM1370 315l7 0-2 6zM1447 271l-3 9-3-8zM1354 338l4-1-2 3zM1354 338l2-8 2 7zM1298 417l4-7 4 5z"/>
<path fill="#5a1e4e" d="M1486 232l-6-6 7 2zM1342 285l-4-6 6-2z"/>
<path fill="#a8483c" d="M1553 286l-1 9-4-5zM1347 507l0-3 6 4z"/>
<path fill="#d2a272" d="M1493 353l-3 4-1-3zM1412 452l-8-1 4-6zM1469 369l7-5 1 7z"/>
<path fill="#d89c6c" d="M1525 334l0-3 4 5zM1419 399l5-5 4 4zM1419 399l-3-6 8 1zM1479 348l2-7 3 7z"/>
<path fill="#de9666" d="M1512 332l-2-7 9 3zM1417 474l3 7-5-4zM1470 334l4 10-5-2zM1407 399l-7 1 3-8zM1532 321l3 5-5-3zM1441 365l-2 4-3-2z"/>
<path fill="#d29066" d="M1505 331l5-6 2 7zM1533 331l-8 0 5-8zM1533 331l2-5 6 3zM1489 342l-5-7 7 1z"/>
<path fill="#f6ba84" d="M1565 346l-5-3 6-2zM1571 343l-1 4-5-1zM1500 352l-1-3 5-2z"/>
<path fill="#fcc08a" d="M1560 343l5 3-6 6z"/>
<path fill="#f6c084" d="M1560 343l-5 4-2-3zM1523 347l-7-1 4-4z"/>
<path fill="#f6c08a" d="M1555 347l5-4-1 9z"/>
<path fill="#fcd290" d="M1555 347l-3 2 1-5zM1471 380l-8 3 6-8zM1553 353l2-6 4 5z"/>
<path fill="#ba7854" d="M1570 325l-3 4-3-4zM1392 391l2-2 3 4zM1420 481l0 3-5-7z"/>
<path fill="#eaa26c" d="M1570 336l-3-7 5 3zM1567 329l3 7-7 0zM1426 380l-6-3 8 1z"/>
<path fill="#eaa872" d="M1558 332l5 4-6 1zM1420 481l-3-7 6-2zM1461 364l-2-4 5-2zM1576 337l-5 6-1-7z"/>
<path fill="#ae784e" d="M1564 325l-6 7-2-7z"/>
<path fill="#c09c72" d="M1559 352l5 8-6 0zM1510 360l5-6 2 6zM1506 366l4-6 3 4z"/>
<path fill="#a28a60" d="M1561 366l3-6 2 6z"/>
<path fill="#a8906c" d="M1464 475l-5 5-3-6z"/>
<path fill="#b47e54" d="M1394 421l5 8-9-3zM1474 344l-5 2 0-4zM1535 326l8-2-2 5z"/>
<path fill="#8a7e60" d="M1499 479l-2-4 9 0z"/>
<path fill="#ccae7e" d="M1454 478l-7 2 5-7zM1441 444l-7 1 3-8zM1513 376l-5 1 0-6z"/>
<path fill="#c6a272" d="M1443 475l4 5-6 0zM1483 369l4-3 2 5z"/>
<path fill="#96724e" d="M1447 480l-3 7-3-7zM1588 354l3-2 0 8zM1447 388l-8-2 6-5zM1426 404l5 2-5 6zM1481 355l-3 3-2-6zM1471 359l7-1-2 6z"/>
<path fill="#ae966c" d="M1477 486l4-7 0 10zM1589 394l-2-7 4 2zM1481 389l-2-7 7 1zM1426 447l7 5-9-3z"/>
<path fill="#6c7254" d="M1508 445l4 7-8-2z"/>
<path fill="#7e8460" d="M1512 452l-4-7 7 5z"/>
<path fill="#6c6c4e" d="M1508 445l7 0 0 5zM1499 464l-6-9 9 1z"/>
<path fill="#84246c" d="M1402 238l6 1-3 7zM1321 297l-2 6-4-6z"/>
<path fill="#4e185a" d="M1421 227l-5-5 7-2zM1324 261l1-4 4 6zM1301 280l5 0-5 4z"/>
<path fill="#f69060" d="M1365 474l4 5-8-1zM1425 346l3 8-8-2z"/>
<path fill="#fc966c" d="M1361 478l8 1-6 8zM1369 479l1 5-7 3z"/>
<path fill="#6c2a2a" d="M1395 489l6 0-3 5z"/>
<path fill="#663024" d="M1401 489l-6 0 5-5zM1401 489l8-3 1 4z"/>
<path fill="#9c6648" d="M1391 474l2 4-4 3zM1395 466l7 0-4 8zM1402 466l2 9-6-1zM1420 481l7-1-2 4z"/>
<path fill="#fcb478" d="M1400 445l-7-1 4-5zM1524 324l1 7-6-3zM1416 393l-6 1 4-8zM1399 405l1-5 6 5zM1449 364l1-4 5 5zM1418 381l8-1-4 6z"/>
<path fill="#f6ae78" d="M1393 444l7 1-2 6zM1402 409l2 9-5-4zM1450 360l9 0-4 5zM1404 451l-4 4-2-4zM1407 399l5 7-6-1z"/>
<path fill="#a27854" d="M1404 463l2-6 6 5zM1431 394l4 4-7 0zM1541 341l-7 1 3-5zM1549 335l-4 5-1-4zM1479 348l2 7-5-3zM1478 358l-7 1 5-7z"/>
<path fill="#a87e5a" d="M1406 457l9-2-3 7z"/>
<path fill="#966648" d="M1402 466l-6-2 8-1zM1432 485l4-8 1 8zM1548 327l-3 4-4-2zM1469 346l-5 0 5-4z"/>
<path fill="#6c4830" d="M1402 466l6 1-4 8z"/>
<path fill="#78244e" d="M1409 256l4 8-3 0zM1423 262l-10 2 7-8zM1276 412l-4-8 6 0zM1294 360l1 3-7 2z"/>
<path fill="#c65a4e" d="M1435 306l4-5 1 5z"/>
<path fill="#c05448" d="M1439 301l-4 5-2-2zM1402 332l-8-3 5-4zM1402 332l3-9 4 7zM1341 421l-3-5 6-1zM1342 502l5 2 0 3zM1508 284l4-6 0 8zM1333 484l4 8-8-1zM1493 286l4-7 3 7z"/>
<path fill="#e45a54" d="M1414 306l5 9-6 0z"/>
<path fill="#f0665a" d="M1473 284l-4 6-3-5zM1361 364l4 6-6 2z"/>
<path fill="#e4545a" d="M1418 301l-2-3 4-1zM1376 331l4 1 0 4zM1469 280l-6 3 0-4zM1324 418l-7 0 3-7z"/>
<path fill="#d85454" d="M1422 306l-4-5 8 0zM1393 321l-7 5 3-8zM1392 327l1-6 6 4zM1352 361l4 5-8 0z"/>
<path fill="#d24e5a" d="M1416 298l2 3-8 1zM1407 309l-1-6 4-1zM1443 283l1-3 5 6zM1386 326l-9 0 4-5z"/>
<path fill="#9c9c78" d="M1492 443l5-3 0 9zM1548 420l4 7-9 1zM1546 409l-2 7-4-7z"/>
<path fill="#f0c68a" d="M1443 412l-4-8 5 2zM1542 354l0-5 4 4zM1496 364l3-1-3 7z"/>
<path fill="#d2ae78" d="M1439 404l4 8-7-3zM1488 377l-5-8 6 2zM1432 416l6 0-3 6zM1429 433l-4-7 4 0z"/>
<path fill="#a28460" d="M1424 449l6 6-10 2zM1424 449l9 3-3 3z"/>
<path fill="#de9c6c" d="M1416 393l3 6-6-1zM1427 480l-7 1 3-9zM1410 394l6-1-3 5zM1424 394l-2-8 5 1zM1416 393l6-7 2 8zM1533 331l8-2-4 8z"/>
<path fill="#f6b478" d="M1410 410l-8-1 4-4zM1525 331l8 0-4 5z"/>
<path fill="#eaa878" d="M1410 410l-6 8-2-9zM1489 342l0 6-5 0z"/>
<path fill="#d29c6c" d="M1404 418l6-8 0 7zM1591 352l5 8-5 0zM1534 342l-5 0 0-6zM1481 355l3-7 5 6z"/>
<path fill="#ded89c" d="M1535 397l1 6-8-4z"/>
<path fill="#cccc96" d="M1536 403l-1 8-4-5zM1536 418l-1-7 5-2zM1536 418l8-2-4 5zM1528 412l3 4-8 0zM1515 411l5 0-4 4z"/>
<path fill="#ead89c" d="M1486 400l8-3-5 8zM1517 392l-2-3 7-2z"/>
<path fill="#a8845a" d="M1487 366l-4-7 7-2zM1541 341l4-1-3 9zM1570 347l6 1-5 4zM1421 410l5-6 0 8zM1478 358l3-3 2 4zM1416 432l-8 3 5-8z"/>
<path fill="#dea26c" d="M1459 360l4-5 1 3z"/>
<path fill="#cc9666" d="M1463 355l5-2-4 5zM1499 337l6 4-5 3zM1404 418l-4 5-1-9zM1410 410l2-4 1 5zM1481 355l-2-7 5 0zM1492 343l-3-1 2-6z"/>
<path fill="#8a5a3c" d="M1460 341l4 5-8 0zM1593 341l-5 2 2-6zM1548 327l0-7 8 5zM1452 346l2-5 2 5z"/>
<path fill="#ae724e" d="M1464 346l0-9 5 5zM1464 337l0 9-4-5z"/>
<path fill="#3c0c48" d="M1256 309l5 0-3 4z"/>
<path fill="#3c124e" d="M1255 313l2 6-8 0zM1257 319l-2-6 3 0zM1220 372l-5 5-3-7zM1298 272l-4 6-3-5zM1332 257l-7 0 5-8z"/>
<path fill="#180c42" d="M1197 317l2-3 3 5z"/>
<path fill="#18123c" d="M1199 314l-2 3-2-4z"/>
<path fill="#420c60" d="M1222 331l8 1-4 2z"/>
<path fill="#300c48" d="M1222 331l4-7 4 8zM1195 380l4 2-2 6z"/>
<path fill="#6c2442" d="M1278 485l8 2-1 4zM1285 497l-4-3 4-3zM1351 318l-8 3 3-7z"/>
<path fill="#541842" d="M1283 513l2 8-5-1z"/>
<path fill="#782a3c" d="M1310 513l-3-4 7-1zM1327 352l5 8-5 0z"/>
<path fill="#421272" d="M1241 297l5 4-5 2zM1292 256l-5 7 0-8zM1197 376l-2 4-4-2zM1191 378l4 2-3 8zM1268 274l-2 3-2-2zM1248 291l2-5 2 3zM1252 289l-2-3 5-1z"/>
<path fill="#662436" d="M1365 326l-7-3 4-3z"/>
<path fill="#902a84" d="M1299 315l-5-1 1-6zM1269 340l4 6-6 0zM1330 284l-5 6-4-4zM1325 290l-5 0 1-4zM1320 290l-5 7-2-7z"/>
<path fill="#a23c48" d="M1368 329l8 2-5 5zM1400 302l6 1-6 5zM1308 433l-3-5 6 0z"/>
<path fill="#a84e42" d="M1424 324l-6 0 5-3zM1457 302l-4 2 2-10z"/>
<path fill="#d85a54" d="M1419 315l-3 3-3-3zM1493 286l-6-3 3-4zM1424 314l-5 1 3-9zM1564 292l-5 3-2-3zM1347 381l3-6 2 5z"/>
<path fill="#d24866" d="M1377 315l-7 0 7-7zM1447 271l-1-4 4 1zM1438 280l-5-8 8 0z"/>
<path fill="#fcb47e" d="M1402 409l-3-4 7 0zM1459 360l2 4-6 1zM1400 400l7-1-1 6z"/>
<path fill="#c0845a" d="M1436 376l-8 2 4-7zM1596 360l-5-8 9 2z"/>
<path fill="#eaa272" d="M1436 376l-5 4-3-2zM1459 360l-9 0 2-5zM1398 451l2 4-3 2zM1422 386l4-6 1 7zM1579 341l-3-4 7 0z"/>
<path fill="#ea9c66" d="M1428 378l-8-1 5-8z"/>
<path fill="#b46c48" d="M1446 340l-2-3 7-3zM1370 484l6 5-8 2zM1555 313l7 2-4 3z"/>
<path fill="#783630" d="M1340 393l5 1-4 4zM1578 314l-5-6 8-2z"/>
<path fill="#843630" d="M1341 389l4 5-5-1z"/>
<path fill="#8a3c30" d="M1352 395l-7-1 6-7z"/>
<path fill="#fc8460" d="M1360 409l4-4 4 5zM1360 409l5 8-5-1zM1360 486l-10 0 6-6z"/>
<path fill="#72247e" d="M1224 388l4-7 1 7z"/>
<path fill="#9c6c4e" d="M1432 485l-5-5 9-3z"/>
<path fill="#a85442" d="M1360 497l0 4-5-1zM1353 495l7 2-5 3zM1367 513l-6 2 2-8zM1364 392l-2-6 7 0z"/>
<path fill="#e4605a" d="M1339 495l-4 8-4-6z"/>
<path fill="#783c30" d="M1343 466l6 2-4 7zM1573 308l5 6-6 0zM1466 306l0-5 3 2z"/>
<path fill="#7e3c30" d="M1343 466l-2 6-4-6zM1362 386l2 6-4 1zM1457 302l9 4-4 3z"/>
<path fill="#cc425a" d="M1303 468l3 7-7-1z"/>
<path fill="#c0a878" d="M1571 372l-1 8-5-5zM1470 404l-4-6 9 0zM1453 422l3-6 5 8zM1442 458l-8-2 4-6zM1524 381l-5-6 6 0zM1513 376l-5-5 10 0z"/>
<path fill="#845436" d="M1600 343l-7-2 2-3zM1391 485l4 4-5 1z"/>
<path fill="#906c4e" d="M1582 358l6-4 3 6zM1449 382l-2 6-2-7zM1406 426l2 9-7-1z"/>
<path fill="#e4dea2" d="M1571 403l3 7-8 1zM1497 417l3 3-7 1zM1491 426l-2-4 4-1zM1489 422l2 4-7 3zM1475 457l3-6 3 6zM1479 439l-7 7 0-9z"/>
<path fill="#8a8466" d="M1548 420l3-5 1 6zM1565 438l-3-6 4 0z"/>
<path fill="#d8d2a2" d="M1563 406l-2 3-4-6z"/>
<path fill="#f6f0b4" d="M1561 409l2-3 3 5zM1531 406l-9 0 6-7zM1484 441l-5-6 7-1zM1486 444l-2-3 6-2zM1478 451l-6-5 9-3z"/>
<path fill="#a26648" d="M1552 318l6 0-2 7zM1548 320l4-2 4 7z"/>
<path fill="#9c724e" d="M1537 337l4-8 3 7zM1443 377l3 1-1 3z"/>
<path fill="#fceaae" d="M1576 393l-4 7-2-6zM1542 377l-6 5-3-5zM1531 381l5 1-3 7zM1525 389l6-8 2 8z"/>
<path fill="#c69c72" d="M1542 349l0 5-5-7z"/>
<path fill="#f6c690" d="M1553 353l6-1-1 8z"/>
<path fill="#fcd896" d="M1552 349l1 4-7 0zM1433 435l-4-9 9 3z"/>
<path fill="#a25a42" d="M1510 302l5 5-9 1z"/>
<path fill="#b44842" d="M1512 278l-4 6-3-3z"/>
<path fill="#c04260" d="M1515 263l6-2-4 6zM1535 273l-4-7 5 2z"/>
<path fill="#6c1e3c" d="M1520 252l-4 6-4-8zM1284 410l-8 2 2-8zM1287 389l4 6-6 0z"/>
<path fill="#de8a60" d="M1521 320l-3-7 5 1zM1532 321l6-7 1 6zM1434 355l-3-6 5-2z"/>
<path fill="#f0a272" d="M1525 331l-1-7 6-1zM1393 403l6 2-4 4z"/>
<path fill="#9c7854" d="M1528 348l6-6 3 5zM1576 348l8 1-4 5zM1571 352l5-4 4 6zM1420 407l1 3-8 1zM1426 404l-5 6-1-3z"/>
<path fill="#cc966c" d="M1537 337l-3 5-5-6z"/>
<path fill="#de8a5a" d="M1542 315l-4-1 0-8z"/>
<path fill="#905a42" d="M1498 325l3-5 4 5z"/>
<path fill="#fcae78" d="M1519 325l5-1-5 4zM1524 324l-5 1 2-5zM1436 357l5 8-5 2z"/>
<path fill="#a86c4e" d="M1514 320l-4 5-4-6zM1548 327l-5-3 5-4z"/>
<path fill="#ba784e" d="M1518 313l-4 7-2-5z"/>
<path fill="#c67e54" d="M1514 320l4-7 3 7zM1548 320l-5 4-1-9z"/>
<path fill="#de9066" d="M1519 325l-5-5 7 0zM1464 337l6-3-1 8zM1527 320l5 1-2 2z"/>
<path fill="#d28a60" d="M1514 320l5 5-9 0zM1447 351l5-5 0 9zM1535 326l-3-5 7-1z"/>
<path fill="#d2a872" d="M1565 346l3 8-9-2zM1520 355l-4-9 7 1z"/>
<path fill="#a8724e" d="M1558 332l-5 0 3-7zM1400 455l4 8-7-6z"/>
<path fill="#a87854" d="M1545 331l8 1-4 3zM1584 349l-8-1 3-7zM1479 348l-3 4-2-8zM1436 376l7 1-4 6z"/>
<path fill="#d2966c" d="M1401 434l3 4-7 1z"/>
<path fill="#7e5a3c" d="M1401 434l-5 1 3-6zM1548 327l5 5-8-1z"/>
<path fill="#8a5a42" d="M1388 435l8 0-3 3z"/>
<path fill="#ccc696" d="M1500 420l-4 8-3-7zM1483 422l1 7-7-2zM1507 421l-5 5-2-6zM1535 411l-7 1 3-6zM1486 444l6-1-1 8z"/>
<path fill="#eae4ae" d="M1496 428l6 4-8 1zM1490 439l-4-5 8-1zM1486 444l4-5 2 4z"/>
<path fill="#9ca278" d="M1518 433l6 7-8-2z"/>
<path fill="#eaeab4" d="M1518 427l0 6-4 0zM1522 427l-4 6 0-6z"/>
<path fill="#7e7e60" d="M1508 445l4-4 3 4zM1544 416l2-7 5 6zM1562 429l3-5 1 8z"/>
<path fill="#b4a87e" d="M1475 422l-4 7-3-9zM1500 409l-2-5 5 0z"/>
<path fill="#962a8a" d="M1393 244l-7-6 9 2z"/>
<path fill="#f09c66" d="M1388 409l5-6 2 6zM1470 334l-6 3 5-7zM1528 315l-1 5-4-6z"/>
<path fill="#6c422a" d="M1391 485l2-7 7 6z"/>
<path fill="#ea725a" d="M1489 297l5-1-5 7zM1402 340l7 0-4 7zM1399 349l3-9 3 7zM1396 342l3 7-7-1zM1454 310l-3 4-3-6z"/>
<path fill="#de4872" d="M1446 267l-5-7 6 4zM1301 405l-7 5 0-4z"/>
<path fill="#e4486c" d="M1439 269l7-2-5 5z"/>
<path fill="#d2544e" d="M1456 289l7-6-1 7z"/>
<path fill="#6c6c54" d="M1501 445l7 0-4 5z"/>
<path fill="#9c9c72" d="M1508 445l-7 0 1-7zM1559 421l-3 9-4-3z"/>
<path fill="#d2ae7e" d="M1471 380l2 6-4 2zM1508 371l-2-5 7-2z"/>
<path fill="#cca878" d="M1473 386l-2-6 8 2zM1579 364l3 7-7 0zM1429 426l-3-3 9-1zM1421 433l4-7 4 7z"/>
<path fill="#b4a272" d="M1457 429l-4-7 8 2z"/>
<path fill="#d8a878" d="M1462 375l3-3 4 3z"/>
<path fill="#f0a26c" d="M1414 386l-4 8-4-8zM1583 337l-7 0 4-8zM1489 332l-5 3-4-4zM1480 331l4 4-7 0z"/>
<path fill="#8a6c48" d="M1439 386l5 5-6 4z"/>
<path fill="#a27e54" d="M1439 386l8 2-3 3zM1431 406l-5-2 2-6z"/>
<path fill="#f6d89c" d="M1437 437l5-3 2 6zM1506 389l-4 0 1-5zM1486 400l-2-5 5-2zM1434 445l-4-8 7 0zM1496 394l0-5 6 0z"/>
<path fill="#fceaa8" d="M1442 434l-5 3 1-8zM1496 389l0 5-7-5z"/>
<path fill="#eac08a" d="M1429 426l6-4 3 7zM1443 400l6-2-5 8zM1496 364l0 6-7 1zM1420 441l4-1-1 5z"/>
<path fill="#ba845a" d="M1394 421l6 2-1 6zM1441 365l8 5-6 0zM1439 369l4 8-7-1z"/>
<path fill="#f6b47e" d="M1412 406l-2 4-4-5zM1533 331l4 6-8-1zM1520 342l-1-5 6-3z"/>
<path fill="#d8ae7e" d="M1443 412l-5 4-2-7zM1415 446l8-1-5 4z"/>
<path fill="#deba84" d="M1439 422l-1-6 7 0zM1481 389l-8-3 6-4zM1499 363l7 3-4 5zM1423 445l1-5 2 7z"/>
<path fill="#ba9666" d="M1431 406l8-2-3 5z"/>
<path fill="#b49c72" d="M1445 461l4 2 0 6zM1479 404l-9 0 5-6zM1445 452l-3 6-4-8zM1519 375l-6 1 5-5z"/>
<path fill="#aea272" d="M1456 440l-5-2 3-5zM1457 429l7-1-2 5z"/>
<path fill="#e4e4ae" d="M1536 418l4 3-5 2zM1514 433l-5 0 2-7z"/>
<path fill="#c6a878" d="M1489 381l0 8-3-6zM1494 377l1 3-6 1z"/>
<path fill="#c0a278" d="M1488 377l1 4-3 2zM1489 389l-8 0 5-6zM1426 447l8-2-1 7z"/>
<path fill="#f0b47e" d="M1455 365l6-1-4 7zM1461 364l4 8-8-1zM1505 341l5 6-6 0zM1489 348l4 5-4 1z"/>
<path fill="#e49666" d="M1474 344l-4-10 7 1zM1527 320l-6 0 2-6zM1420 377l-1-8 6 0z"/>
<path fill="#36122a" d="M1274 520l0-7 6 7z"/>
<path fill="#601e3c" d="M1301 520l4 0-2 7zM1284 503l-6-1 3-8z"/>
<path fill="#721e8a" d="M1350 251l-7 0 1-7zM1311 267l7 4-8 2z"/>
<path fill="#241254" d="M1305 235l-5 0 17-6z"/>
<path fill="#3c1254" d="M1330 249l-5 8-2-7z"/>
<path fill="#d84278" d="M1331 336l4-5 5 7zM1335 331l6 1-1 6z"/>
<path fill="#d84272" d="M1341 332l6 3-7 3z"/>
<path fill="#a23054" d="M1300 384l5-3-4 7zM1345 327l6-1-1 3z"/>
<path fill="#963078" d="M1274 359l1 7-5-1zM1334 303l-6-8 8 2z"/>
<path fill="#d25a4e" d="M1370 354l4 4-9 0zM1564 292l2 4-7-1z"/>
<path fill="#962a5a" d="M1348 309l8 0-6 6zM1337 319l6 2-6 2zM1297 378l-3-8 5 0z"/>
<path fill="#c63c7e" d="M1351 300l-3 9-3-9z"/>
<path fill="#de5a5a" d="M1386 326l6 1-5 2z"/>
<path fill="#ba6048" d="M1395 354l4-5 2 4zM1353 495l3-4 4 6zM1482 302l-6 1 3-5z"/>
<path fill="#ae6048" d="M1442 331l-4 6-5-5z"/>
<path fill="#c08a60" d="M1449 370l-3 8-3-8zM1499 337l-7 6-1-7z"/>
<path fill="#dea272" d="M1446 378l3-8 5 5zM1492 343l7-6 1 7zM1481 341l8 1-5 6z"/>
<path fill="#ae845a" d="M1446 378l8-3-5 7zM1421 410l-3 8-5-7z"/>
<path fill="#e4a272" d="M1449 370l0-6 6 1zM1489 348l0-6 3 1z"/>
<path fill="#ba6c4e" d="M1407 365l-3 7-2-6zM1434 342l-2-4 6-1z"/>
<path fill="#7e4230" d="M1372 394l3-6 3 4zM1572 314l6 0-3 7zM1364 392l5-6 3 8z"/>
<path fill="#661e3c" d="M1272 404l4 8-5 0zM1271 412l5 0-5 3zM1285 497l-1 6-3-9z"/>
<path fill="#9c6042" d="M1420 484l0-3 5 3zM1512 315l-8-1 2-6z"/>
<path fill="#5a1e36" d="M1333 530l4 7-8 1z"/>
<path fill="#fc725a" d="M1339 495l5 1-2 6z"/>
<path fill="#722430" d="M1319 508l4 4-7 0z"/>
<path fill="#ba5442" d="M1343 455l-4 8-5-6zM1469 290l-3 7-3-2z"/>
<path fill="#a28a66" d="M1561 370l-5-1 5-3z"/>
<path fill="#847254" d="M1558 377l3-7 4 5zM1432 463l5-3 2 7zM1518 371l2-8 5 8zM1520 363l5-2 2 5z"/>
<path fill="#cca872" d="M1582 371l-3-7 6 0z"/>
<path fill="#f0d89c" d="M1578 381l-4-5 4 2zM1573 387l-3-7 8 1zM1449 434l2-6 3 5zM1496 394l6 1-8 2zM1515 382l4-7 5 6z"/>
<path fill="#f6dea2" d="M1570 380l4-4 4 5zM1485 406l-6-2 7-4zM1579 390l3-7 5 4zM1496 394l-2 3-5-4zM1542 377l2-7 3 8zM1522 387l-7-5 9-1z"/>
<path fill="#d8c08a" d="M1574 376l1-5 3 7zM1453 422l-2 6-5-4zM1583 392l-4-2 8-3zM1449 434l2 4-7 2zM1515 382l-2-6 6-1zM1513 376l2 6-3 1zM1508 377l4 6-9 1z"/>
<path fill="#d8ba8a" d="M1574 376l-3-4 4-1z"/>
<path fill="#603c2a" d="M1596 348l4-5 2 6z"/>
<path fill="#e4d8a2" d="M1577 406l-3 4-3-7zM1497 417l-5 0 0-8zM1484 418l5 4-6 0zM1475 457l1 6-4 0zM1463 450l4-6 3 7zM1467 444l5 2-2 5z"/>
<path fill="#eadea2" d="M1577 406l-6-3 1-3zM1535 397l-4-4 6-1zM1475 457l-9 3 0-4zM1463 450l7 1-4 5zM1531 393l-6-4 8 0z"/>
<path fill="#ccba8a" d="M1547 378l4 3-9 2zM1507 397l-5-2 4-6zM1507 397l-6 3 1-5z"/>
<path fill="#decc96" d="M1542 377l5 1-5 5zM1485 406l1-6 3 5zM1479 404l6 2-3 5zM1531 393l2-4 4 3zM1525 389l-3-2 2-6z"/>
<path fill="#a85a42" d="M1578 314l2 4-5 3zM1466 306l-3 7-1-4z"/>
<path fill="#f0e4a8" d="M1566 386l7 1-3 7zM1525 393l6 0-3 6zM1525 393l-8-1 8-3z"/>
<path fill="#c6ba84" d="M1576 393l7-1-4 6zM1507 397l-1-8 4 5z"/>
<path fill="#c0a87e" d="M1589 394l-6-2 4-5z"/>
<path fill="#ccae78" d="M1494 377l-6 0 1-6z"/>
<path fill="#ea9666" d="M1532 321l-5-1 1-5zM1412 383l-2-7 3 0z"/>
<path fill="#906c48" d="M1545 340l-4 1 3-5z"/>
<path fill="#f09c6c" d="M1489 324l0 8-3-5zM1418 381l-6 2 1-7z"/>
<path fill="#f0c084" d="M1508 355l2-8 5 7zM1502 359l-5-1 3-6z"/>
<path fill="#c09066" d="M1571 343l5 5-6-1z"/>
<path fill="#84724e" d="M1571 358l3 7-8 1zM1434 456l3 4-5 3z"/>
<path fill="#e4e4a8" d="M1502 426l0 6-6-4zM1531 416l-3 5-5-5zM1528 421l3-5 4 7zM1514 421l5-1-1 7z"/>
<path fill="#6c664e" d="M1512 404l-6 7-3-7z"/>
<path fill="#84785a" d="M1471 429l-7-1 4-8zM1464 428l2 4-4 1zM1507 397l6 4-1 3zM1453 446l8-1-5 4z"/>
<path fill="#baa878" d="M1479 397l0 7-4-6zM1446 443l-5 1 3-4z"/>
<path fill="#e4cc96" d="M1479 404l0-7 7 3zM1449 434l-4-7 6 1z"/>
<path fill="#d27e5a" d="M1387 400l6 3-9 2zM1423 365l-9 1 4-6z"/>
<path fill="#a86042" d="M1387 400l-3-5 9 3zM1504 314l-4-5 6-1z"/>
<path fill="#906648" d="M1400 455l6 2-2 6zM1476 352l-7-6 5-2z"/>
<path fill="#ba9060" d="M1404 451l8 1-6 5zM1407 424l-3-6 6-1z"/>
<path fill="#d8ae78" d="M1415 446l-3 6-4-7z"/>
<path fill="#e49060" d="M1459 330l5 7-6 0zM1428 354l6 1-3 5zM1404 381l6-5 2 7zM1419 369l4-4 2 4z"/>
<path fill="#a26642" d="M1498 314l6 0-3 6zM1504 314l8 1-6 4z"/>
<path fill="#f04e6c" d="M1444 280l-6 0 3-8z"/>
<path fill="#ba9c6c" d="M1480 377l3-8 5 8zM1535 358l-4 1 2-4zM1423 445l1 4-6 0z"/>
<path fill="#907854" d="M1479 382l1-5 6 6z"/>
<path fill="#d2b484" d="M1466 398l4-6 5 6zM1527 366l5-2 0 8z"/>
<path fill="#e4c690" d="M1456 416l-2-6 7 2zM1451 428l-6-1 1-3zM1477 391l7 4-5 2zM1538 366l0 4-6-6zM1495 380l1 9-7-8zM1508 371l0 6-6-6z"/>
<path fill="#ccba84" d="M1465 414l-9 2 5-4zM1451 428l2-6 4 7z"/>
<path fill="#decc90" d="M1451 428l6 1-3 4z"/>
<path fill="#deae78" d="M1469 369l-4 3 1-7zM1469 369l6 6-6 0zM1408 435l8-3-5 7zM1493 353l4 5-7-1z"/>
<path fill="#deae7e" d="M1475 375l-6-6 8 2z"/>
<path fill="#eac084" d="M1456 394l-2 4-5-3z"/>
<path fill="#c09060" d="M1407 424l-7-1 4-5zM1426 404l-7-5 9-1zM1446 378l-3-1 0-7zM1400 423l6 3-7 3z"/>
<path fill="#c69666" d="M1426 404l-6 3-1-8zM1407 424l-1 2-6-3zM1466 365l5-6 5 5z"/>
<path fill="#d2c090" d="M1466 460l0 8-4-2zM1533 389l3-7 6 7zM1517 392l-4 9-3-7z"/>
<path fill="#dec690" d="M1502 395l0-6 4 0zM1531 381l-7 0 1-6z"/>
<path fill="#d2c08a" d="M1501 400l-3 4-4-7zM1506 389l9 0-5 5zM1512 383l3 6-9 0z"/>
<path fill="#e4d296" d="M1502 395l-1 5-7-3zM1579 390l4 2-7 1z"/>
<path fill="#c0ae84" d="M1501 400l6-3-4 7z"/>
<path fill="#ae7e54" d="M1469 346l7 6-8 1z"/>
<path fill="#ae8460" d="M1483 359l-2-4 8-1z"/>
<path fill="#781e7e" d="M1239 348l8-1-3 8z"/>
<path fill="#78248a" d="M1252 337l-6-1 5-6z"/>
<path fill="#54183c" d="M1278 502l1 4-6 4z"/>
<path fill="#541878" d="M1271 296l-10 0 5-5zM1300 268l-2 4-5-6zM1274 285l4-5 5 5z"/>
<path fill="#cc3c6c" d="M1341 332l4-5 2 8z"/>
<path fill="#f05a66" d="M1314 412l0-5 6 4z"/>
<path fill="#c0367e" d="M1358 291l7-3-5 8z"/>
<path fill="#5a1884" d="M1300 268l-7-2 4-5zM1269 283l5 2-3 6z"/>
<path fill="#ae6042" d="M1375 388l8-2-5 6zM1383 386l1 9-6-3zM1432 338l-6-2 7-4z"/>
<path fill="#d89066" d="M1410 394l-3 5-4-7z"/>
<path fill="#a86c48" d="M1446 349l-3-9 3 0z"/>
<path fill="#f06060" d="M1329 412l-4-6 6 0z"/>
<path fill="#baae84" d="M1547 388l-5 1 0-6z"/>
<path fill="#f0cc90" d="M1535 358l7-4 0 5zM1426 447l4-10 4 8zM1424 440l6-3-4 10zM1501 377l-6 3-1-3zM1496 370l5 7-7 0z"/>
<path fill="#f0d29c" d="M1538 370l-5 7-1-5zM1547 378l-3-8 5 0z"/>
<path fill="#a8a27e" d="M1562 429l-6 1 3-9zM1511 416l3 5-7 0z"/>
<path fill="#a23c3c" d="M1581 306l-6-5-3-6z"/>
<path fill="#844836" d="M1562 315l10-1-5 5z"/>
<path fill="#d2ba8a" d="M1533 377l-8-2 7-3z"/>
<path fill="#d2b47e" d="M1496 370l-2 7-5-6zM1518 371l-10 0 5-7z"/>
<path fill="#a2724e" d="M1543 324l5 3-7 2z"/>
<path fill="#fccc8a" d="M1515 341l1 5-6 1z"/>
<path fill="#e4a26c" d="M1571 343l5-6 3 4z"/>
<path fill="#d8d29c" d="M1536 418l-5-2 4-5zM1475 457l6 0-5 6z"/>
<path fill="#d2d29c" d="M1531 416l-3-4 7-1z"/>
<path fill="#eaeaae" d="M1522 427l8 0-3 5z"/>
<path fill="#f0d296" d="M1484 395l-3-6 8 0zM1452 418l-6 6-1-8z"/>
<path fill="#d2c690" d="M1485 406l1 4-4 1zM1484 418l2-8 6 7z"/>
<path fill="#f09066" d="M1448 330l8 1-5 3z"/>
<path fill="#f08a60" d="M1456 331l-8-1 3-5zM1468 317l-2 9-4-6zM1482 315l-3 4-1-5zM1490 311l-8 4 3-9z"/>
<path fill="#e4cc90" d="M1452 418l1 4-7 2zM1442 434l7 0-5 6zM1512 383l-6 6-3-5z"/>
<path fill="#eacc96" d="M1445 427l4 7-7 0zM1489 381l7 8-7 0z"/>
<path fill="#d8c090" d="M1451 438l-2-4 5-1z"/>
<path fill="#967e5a" d="M1434 456l-2 7-2-8z"/>
<path fill="#666048" d="M1512 404l1-3 6 4z"/>
<path fill="#ead29c" d="M1496 394l6-5 0 6zM1531 381l-6-6 8 2zM1515 389l0-7 7 5zM1515 382l0 7-3-6z"/>
<path fill="#fce4a8" d="M1489 389l7 5-7-1z"/>
<path fill="#84248a" d="M1229 375l8 2-4 3z"/>
<path fill="#481242" d="M1243 366l5-3-3 9z"/>
<path fill="#481830" d="M1278 502l6 1-5 3z"/>
<path fill="#b43684" d="M1303 332l7 0-6 3zM1263 386l7 2-5 5zM1271 382l-1 6-4-5z"/>
<path fill="#e44872" d="M1294 410l4 7-5 0zM1301 405l1 5-8 0z"/>
<path fill="#fc6666" d="M1353 369l3-3 3 6z"/>
<path fill="#de9c66" d="M1436 367l3 2-7 2z"/>
<path fill="#e48460" d="M1431 349l-3 5-3-8zM1479 319l-5 2 4-7z"/>
<path fill="#9c363c" d="M1317 435l2 2-6 4z"/>
<path fill="#843636" d="M1319 437l-2-2 6-1z"/>
<path fill="#d8b484" d="M1535 358l3 8-6-2z"/>
<path fill="#e4c68a" d="M1538 366l-3-8 7 1z"/>
<path fill="#f6fcba" d="M1522 427l6-6 2 6z"/>
<path fill="#7e248a" d="M1243 342l6 1-2 4zM1262 331l-5-2 3-3z"/>
<path fill="#842454" d="M1334 314l4-1-1 6z"/>
<path fill="#ea4e72" d="M1302 410l-4 7-4-7z"/>
<path fill="#f0546c" d="M1309 411l-3-6 8 2z"/>
<path fill="#78302a" d="M1573 308l2-7 6 5z"/>
<path fill="#f6e4a8" d="M1536 382l-5-1 2-4zM1525 393l0-4 6 4z"/>
<path fill="#e44e6c" d="M1301 405l5 0-4 5z"/>
<path fill="#d2a878" d="M1496 364l-9 2 3-9z"/>
<path fill="#deb484" d="M1506 366l-4-7 8 1zM1420 441l3 4-8 1z"/>
<path fill="#d8426c" d="M1288 411l6-1-1 7z"/>
<path fill="#e4d29c" d="M1517 392l8 1-4 7z"/>
<path fill="#541848" d="M1255 359l3-2 0 8z"/>
</g>
<linearGradient id="gMag" x1="0" y1="0" x2="0" y2="1"><stop offset="0%" stop-color="#000004"/><stop offset="3.1%" stop-color="#030312"/><stop offset="6.2%" stop-color="#0a0822"/><stop offset="9.4%" stop-color="#130d34"/><stop offset="12.5%" stop-color="#1d1147"/><stop offset="15.6%" stop-color="#29115a"/><stop offset="18.8%" stop-color="#36106b"/><stop offset="21.9%" stop-color="#440f76"/><stop offset="25%" stop-color="#51127c"/><stop offset="28.1%" stop-color="#5d177f"/><stop offset="31.2%" stop-color="#6a1c81"/><stop offset="34.4%" stop-color="#762181"/><stop offset="37.5%" stop-color="#832681"/><stop offset="40.6%" stop-color="#902a81"/><stop offset="43.8%" stop-color="#9c2e7f"/><stop offset="46.9%" stop-color="#aa337d"/><stop offset="50%" stop-color="#b73779"/><stop offset="53.1%" stop-color="#c43c75"/><stop offset="56.2%" stop-color="#d0416f"/><stop offset="59.4%" stop-color="#dc4869"/><stop offset="62.5%" stop-color="#e75263"/><stop offset="65.6%" stop-color="#ef5d5e"/><stop offset="68.8%" stop-color="#f56b5c"/><stop offset="71.9%" stop-color="#f9795d"/><stop offset="75%" stop-color="#fc8961"/><stop offset="78.1%" stop-color="#fd9869"/><stop offset="81.2%" stop-color="#fea772"/><stop offset="84.4%" stop-color="#feb67c"/><stop offset="87.5%" stop-color="#fec488"/><stop offset="90.6%" stop-color="#fed395"/><stop offset="93.8%" stop-color="#fde2a3"/><stop offset="96.9%" stop-color="#fcf0b2"/><stop offset="100%" stop-color="#fcfdbf"/></linearGradient>
<rect x="1837.9" y="92" width="24.1" height="545" fill="url(#gMag)" stroke="#000" stroke-width="2"/>
<line x1="1863" y1="190.8" x2="1873" y2="190.8" stroke="#000" stroke-width="2"/>
<text x="1880" y="200.8" font-size="28" text-anchor="start" fill="#000">50</text>
<line x1="1863" y1="358" x2="1873" y2="358" stroke="#000" stroke-width="2"/>
<text x="1880" y="368" font-size="28" text-anchor="start" fill="#000">0</text>
<line x1="1863" y1="525.2" x2="1873" y2="525.2" stroke="#000" stroke-width="2"/>
<text x="1880" y="535.2" font-size="28" text-anchor="start" fill="#000">−50</text>
<text x="1964" y="364" font-size="28" text-anchor="middle" transform="rotate(-90 1964 364)" fill="#000">BOLD level</text>
</g>
<g id="panel_c">
<text x="492.5" y="774" font-size="28" text-anchor="middle" font-weight="bold" fill="#000">Histological analysis</text>
<clipPath id="cC1"><rect x="147.5" y="788" width="690.5" height="255.7"/></clipPath>
<rect x="147.5" y="788" width="690.5" height="255.7" fill="#440154"/>
<g clip-path="url(#cC1)"><g transform="scale(.5)" stroke="#000" stroke-width="3.9" stroke-linejoin="round" fill-rule="evenodd">
<path fill="#414487" d="M287 2095l36 0 28 0 29 0 28 0 28 0 28 0 28 0 28 0 29 0 28 0 28 0 28 0 28 0 29 0 28 0 28 0 28 0 28 0 15 0 13-15 29 0 28-2 12-1 12-10 4-3 1 3 8 10 13 18 6 0 28 0 29 0 28 0 28 0 28 0 28 0 29 0 28 0 28 0 28 0 28 0 28 0 29 0 28 0 24 0 3-18 1-1 24-9-2-11 6-4 9 4 19 4 20 7-11 10-9 9-28-7-24 16 24 0 28 0 29 0 28 0 28 0 28 0 28 0 28 0 29 0 28 0 36 0 0-18 0-10 0-11 0-10 0-11 0-10 0-11 0-10 0-11 0-10 0-10 0-11 0-10 0-11 0-10 0-11 0-10 0-10 0-11 0-10 0-11 0-10 0-11 0-10 0-11 0-10 0-10 0-11 0-10 0-11 0-10 0-11 0-10 0-10 0-11 0-10 0-11 0-10 0-11 0-10 0-11 0-10 0-10 0-11 0-8-36 4-5 4-23 9-29-6-6-3 6-3 24-7-12-11-12-3-6-7 6-5 13-6-6-18-7 0-28 0-28 0-28 0-28 0-28 0-29 0-28 0-28 0-28 0-28 0-29 0-28 0-28 0-28 0-11 0 11 17 0 1 0 1-28 5-1 5 1 0 17 10-4 11 15 6 12 4-12 8-28 2-10-10-18-6-29 3-11-7 11-5 13-6-13-9-1-1 1-6 28-5 1 0 9-18-9 0-29 0-28 0-28 0-28 0-28 0-29 0-28 0-28 0-28 0-28 0-29 0-28 0-28 0-28 0-28 0-28 0-29 0-28 0-28 0-28 0-13 0-15 18-29 0-2 0 0 11 2 1 29 1 28 1 28 7-28 10-28-3-9 4-20 6-28-2-24 6 17 11 7 3 8 7-8 4-12-4-16-5-28 0-3-5-4-11 7-4 15-6-5-11-10-7-7-3-12-11-9-6-4-12-24 0-29 0-28 0-36 0 0 18 0 11 0 10 0 11 0 10 0 11 0 10 0 10 0 11 0 10 0 11 0 10 0 11 0 10 0 11 0 10 0 10 0 11 0 10 0 11 0 10 0 11 0 10 0 10 0 11 0 10 0 11 0 10 0 11 0 10 0 11 0 10 0 10 0 11 0 10 0 11 0 10 0 11 0 10 0 10 0 11 0 10 0 11 0 10 0 11 0 10 0 11 0 10zM408 1620l-2-2 2-7 9 7zM436 1723l-3-1 3-1 8 1zM549 1682l-6-2-7-10 13-4 17-7 11-3 6 3 5 11-11 3-21 7zM887 2062l-5-6-7-10 12-4 9 4 9 10zM971 2077l1 0zM1112 1692l-1-1 1-1 29-5 7 6-7 2zM1169 1722l-2 0 2 0zM1648 1693l-8-2 8-5 4 5zM1169 1702l-3-1 3-1 3 1zM1648 1662l-11-3 11-8 4 8zM1169 1664l-7-5-21-6-16-4 16-3 28-7 11 10-6 10zM1662 1597l22 4 0-4 0-11 0-18-15 0-21 17-3 1 3 2zM416 1568l20 12 8-12-8 0z"/>
<path fill="#2a788e" d="M287 2095l36 0 28 0 29 0 28 0 28 0 28 0 28 0 28 0 29 0 28 0 28 0 28 0 28 0 29 0 28 0 28 0 13 0 12-18 3-3 19-7 9-3 6-8-6-6-28 3-19-7 19-9 3-2-3-1-7-9 3-11 4-5 10 5 18 10 10-10-10-8-10-2 9-11 1 0 1 0 15 11 12 1 4-1 25-8 28 5 28 1 28-1 7 3-7 2-28 5-3 3 3 1 19 10 9 2 27 8-15 11-2 10 18 7 25 4-3 10-19 18 26 0 28 0 28 0 28 0 28 0 29 0 28 0 28 0 28 0 28 0 28 0 29 0 15 0 13-17 1-1 0-10 0-11 10-10-11-11-5-10 5-6 11-5 17-3 10 3 18 5 25-5 0-10 3-5 4 5 6 10 4 11 15 3 13-3 15-4 9 4-7 10 7 11 0 10-9 7-6 4 6 2 13 8 0 18 15 0 28 0 28 0 28 0 29 0 28 0 36 0 0-18 0-10 0-11 0-10 0-11 0-10 0-11 0-10 0-11 0-10 0-10 0-11 0-10 0-11 0-10 0-11 0-10 0-10 0-11 0-10 0-11 0-10 0-11 0-10 0-3-13-8 13-4 0-6 0-7-10-3-8-11 7-10-10-11 21-6 0-4 0-6-17-5-19-2-11 2 3 11-2 10-5 11-5 10-8 6-28-6 20-10-15-11-6-6-5-4 5-2 16-9-16-8-7-2-1-10-20-6-7-5 7-5 24-5 4-11 13-10-13-3-28-5-1-3 1-5 6-5 18-11-24-9 0-1-10-10-5-11 15-6 11-4-3-11-8-8-2-2 2-2 13-9-13-6-5-12-23 0-28 0-28 0-28 0-29 0-28 0-28 0-28 0-28 0-29 0-28 0-13 0-11 18 24 10 1 1 0 10-1 3-3 8 3 3 6 7-6 4-13 7 13 10-19 10 12 11 7 6 3 4-3 4-16-4-12-1-4 1 0 11 4 2 28 8-28 9-10 2 10 6 3 4-3 3-9 8 9 3 16 7-16 8-7 2-21 10-1 1 1 4 15 6-7 11-8 9-28-3-5-6 5-3 26-8-26-4-22 4-6 2-27 9-2 0-1 0-12-11 13-7 11-3-9-11 14-10-16-1-28-8-28 0-2-1 2-3 28 0 9-8 12-10-21-10-4-1 1-10-10-11-7-10 13-11 1-10 6-3 9-7-9-9-5-2-8-10-15-6-7-5 2-10 4-11 1-1 10-17-10 0-28 0-28 0-29 0-28 0-28 0-28 0-28 0-29 0-28 0-28 0-28 0-28 0-28 0-19 0-8 18-2 3-17 8-11 6-2 4 2 8 5 3-3 10-2 1-13 10 13 5 14 5 14 6 9 4-9 4-25 7-3 1-26 9 26 9 21-9 7-4 6 4-1 11-5 10-28 2-22 9 7 10 15 8 12 3-10 10-2 0-21 10-7 6-15-6-5-10 20-9 4-1-4-1-28-1-6 2-4 10-3 10 2 11-17 10-1 0 1 1 24 10 4 3 6-3-4-11 26-7 15 7-8 11-7 7-11 3-11 11 22 9 2 1-2 1-28 3-13-4-15-10-2 0 2-2 17-9-17-3-24-7-5-1-24 1-4 0-28 9-28-5-28 2-22-6 5-11 17-4 28-2 12-4-12-7-28-1-4-3-24-9-8-1-6-10 14-3 18-8-18-7-17-3-6-11 10-10-16-4-24-7 9-10 15-6 12-5-9-10 13-10-16-7-14 7 1 10-15 1-36 3 0 6 0 11 0 10 0 11 0 10 0 11 0 10 0 11 0 10 0 10 0 11 0 10 0 11 0 10 0 11 0 10 0 10 0 11 0 10 0 11 0 10 0 11 0 10 0 11 0 10 0 10 0 11 0 10 0 11 0 10 0 11 0 10 0 10 0 11 0 10 0 11 0 10 0 11 0 10 0 11 0 10zM323 1738l-6-5 6-1 4 1zM380 1838l-10-1 10-4 7 4zM408 1819l-14-3 14-5 18 5zM464 1811l-14-5 14-10 28 6 5 4-5 1zM492 1830l-7-4 7-2 9 2zM520 1821l-11-5 11-4 13 4zM577 1850l-3-3 3-1 4 1zM633 1766l-11-2 11-2 9 2zM915 1987l-5-4-23-7-5-3 5-4 28 3 2 1 7 10zM1112 1837l-1 0-14-11 15-1 8 1-4 11zM1169 1827l-3-1 3-1 2 1zM1338 1963l-2-1 2 0 2 0zM1366 1995l-2-2-3-10 5-2 28 0 5 2-5 3-22 7zM1479 2009l-19-5 19-4 12 4zM1563 1807l-4-1 4-1 7 1zM1591 1827l-1-1 1-1 2 1zM661 1608l-2-1 2 0 1 0zM323 1713l-12-1 12-5 8 5zM1112 1806l-1 0 1-1 26-10 3-1 11 1 16 11-27 4zM1563 1777l-1-3 1-1 8 1zM942 2067l1 0 5 0-5-2zM828 2035l2 1 2-1 5-10-7-2-20 2zM490 1764l2 4 4-4-4-1zM516 1753l4 3 7-3-7-1zM1673 1743l11 4 0-4 0-1zM1119 1712l22 2 12-2-12-6zM1668 1691l16 6 0-6 0-6zM375 1670l5 2 1-2-1-1zM287 1639l0 6 24-6-24-10zM287 1618l0 9 33-9-5-11-28-4 0 4zM376 1618l4 2 2-2-2-2zM330 1607l21 4 11-4-9-10-2-1-28-2-4 3 4 4zM287 1586l0 3 20-3-2-18-18 0zM344 1568l7 9 9-9-9 0z"/>
<path fill="#22a884" d="M287 2095l36 0 28 0 29 0 28 0 28 0 28 0 28 0 28 0 29 0 28 0 28 0 28 0 28 0 29 0 17 0 9-18-5-10 7-5 28-1 7-5-7-3-27-7-1-3-5-8-5-10-18-8-7-3 3-10-25-10 0-1 29-4 28-2 21-4-21-2-21-8 21-10 3-1 19-10 6-3 5-8 4-10 6-11-15-9-28 4-24-5-4-1-29-9-18 0-10-1-4 1-24 7-5-7-23-8-28-3-29-9-22 9 22 6 16 5-13 10-3 1-28 8-11 1-17 9-9-9 9-5 7-5-7-2-15 2-13 3-28 4-15 3-13 4-14-4 5-10-20-8-12-2-16-5-12 5 11 10-35 9 0 1 0 1 36 10-36 7 0 3 0 11 0 9 19 1-7 11-12 2 0 8 0 10 0 11 0 10 0 11 0 10 0 11 0 10 0 11 0 10zM351 1939l-26-8 26-6 11 6zM380 1946l-19-5 19-2 2 2zM577 1933l-11-2-5-11 4-10 12-5 25 5-9 10-9 11zM605 1950l-13-9 13-5 20 5zM633 1973l0-1 1 1zM661 1952l-2 0-2-11-6-10 3-11 7-2 10 2 6 11 13 8 14 2-4 11-10 6zM1022 2095l6 0 28 0 28 0 28 0 29 0 28 0 28 0 28 0 28 0 28 0 16 0 0-18-8-10 4-11-9-10-3-5-1-6 1-3 4-7-4-5-3-6 3-4 5-6-5-4-5-7 5-7 4-3 5-10 6-11 2-10-9-11-8-6-5-4 5-4 29-3 28-1 7-3-4-10 25-5 28 0 28-4 29 6 26-7 2-2 15-9 13-9 3-1 22-11-25-8-5-2-23-7-8-4 8-4 28 3 13 1 15 2 8-2 6-10-14-6-28-2-8-3 8-8 23-2-19-10 10-11 14-4 3-6-2-11 4-10-5-5-8-6 8-3 11-7-11-10-2 0 2-4 1-7 4-10-5-3-11-8-3-10 14-10 1-1-1 0-14-10-2-11 16-8 2-2-2-1-23-9 12-11-7-10 5-11 13-6 6-4-6-8-2-3 2-8 1-10-1 0-28 0-28 0-28 0-29 0-28 0-28 0-28 0-28 0-19 0-2 18 21 11 1 0-1 2-29 2-5 6 5 4 15 7-14 10-1 4-2 7 2 1 14 9-1 10 6 11-19 10-1 0 1 2 6 9 0 10 2 11-8 4-12 6 9 11 3 3 8 7-8 5-11 5 11 7 6 4 23 10 3 11-3 1-9 9-20 9-10 2 5 10-23 9-2 1 2 1 26 10 2 3 6 7-6 2-14 9 14 9 20 1-5 11 14 9 7 1-7 3-21 8-8 1-15-1-3-11-10-4-6 4-1 11-21 5-13 5-15 4-11-4 11-6 12-4-9-11-3-1-5 1-11 11-12 2-20 8-8 1-24 9 0 11-5 2-23 8-5 2-3-2-6-10-19-5-28 1-6 4 6 3 9 7-9 5-19 6 6 10 4 11-19 8-8 2 8 3 5 7 18 11-1 10 6 7 4 4-4 7-2 3 2 1 6 10 6 10-12 5-9 6-1 10zM1169 1924l-4-4 4-3 8 3zM1197 1943l-14-2 1-10 13-4 28 3 4 1-4 1-20 9zM1225 1966l-4-4 4-3 4 3zM1253 1953l-8-1-1-11 9-3 15 3-8 11zM1366 1894l-20-5 20-5 8 5zM1394 1880l-7-1 7-3 28 0 11 3-11 6zM1451 1893l-20-4 20-4 13 4zM1479 1802l-2-7 2-1 17 1zM1507 1746l-3-3 3-2 6 2zM1310 1756l-12-3 12-2 4 2zM1253 1912l-6-2 6-5 4 5zM1508 2095l27 0 28 0 28 0 29 0 28 0 36 0 0-18 0-10 0-11 0-10 0-11 0-10 0-11 0-10 0-11 0-10 0-10 0-11 0-10 0-11 0-10 0-7-13-4-5-10 18-7 0-3 0-11 0-5-21 5-15 6-6 5-7 10-15 8-25-8 7-10 18-7 16-4-16-5-29 4-28-4-9 5-19 11 0 1-28 5-20 4 3 10-11 9-1 2 1 0 24 10 4 4 11 7-11 7-7 3 7 2 28 5 24 4-24 6-28 1-4 3 4 2 14 8-3 11-1 10-1 11 11 10-10 11 13 10 5 3 6 8-6 3-20 7zM1591 1953l-14-1 14-2 12 2zM1535 1925l-15-5 15-8 28 3 20 5-20 10zM699 2004l19 5 7-5-7-4zM741 1993l5 2 2-2-2-5zM759 1973l15 3 13-3-13-6zM795 1931l7 1 28 3 14-4 15-4 28-4 24 8 4 2 3-2 25-8 21 8 7 3 10-3 19-7 14-4-6-10 20-6 24 6 4 1 17-1 9-10-26-6-16-5 16-10 8 0-8-1-22-10 18-10-23-11 3-10-4-6-13-5 13-2 20-8 8-7 7-3-7-2-7 2-21 3-21-3 21-4 15-7-15-9-8-1 8-3 18-8-18-10 28-9 3-2-3-1-16-9-12-10 0-1-12-10 12-10 1 0 2-11-3-1-15 1-13 3-4-3 3-10 1-1 28-7 6-3 1-10-7-3-14-8 11-10 3-4 7-6-7-4-7-7-8-10 9-11 6-6 2-4 3-11-5-8-8-10-20 0-29 0-28 0-28 0-28 0-28 0-29 0-28 0-28 0-28 0-28 0-11 0 11 15 3 3-3 4-7 7 1 10-12 11 4 10-2 11 1 10-2 10 17 7 8 4-2 10-6 3-9-3-19-6-6 6 4 11 2 2 22 8 4 11-17 10 13 11-12 10-10 3-9 7 9 8 28-1 7 4 3 10-5 11 22 10-20 11 7 10-2 10-12 7-10 4-18 7-10 3-10 11 17 10-1 11-6 10 10 3 28-1 14 9 14 7 28-5 12-2-12-8-28-2-9-1 9-1 28-2 28 1 8 2 20 7 14 4 15 3 28 7 1 0-1 1-28 4-29 1-13 4-15 6zM915 1904l-6-4 6-3 22 3zM971 1892l-9-3 9-5 29-1 12 6-12 2zM746 1857l-15-10 15-9 10 9zM802 1859l-4-1 4-1 3 1zM971 1840l-6-3 4-11 2 0 3 0 4 11zM1000 1874l-8-6 8-5 19 5zM746 1712l-15 0 15-1 1 1zM802 1820l-14-4 14-2 6 2zM1000 1744l-2-1 0-10 2-1 26 1-24 10zM1364 1931l2 4 3-4-3-1zM1415 1920l7 3 4-3-4 0zM1085 1900l27 5 11-5-11-7zM347 1889l4 2 29 3 21-5 7-2 11 2 17 3 8-3-8-5-7-5-21-7-28 5-29-3-20 5zM447 1879l17 4 20-4 8-8 9-3-9-2-19 2-9 1zM626 1879l7 1 7-1-7-2zM287 1868l0 2 17-2-17-2zM400 1858l8 0 0-3zM1193 1858l4 6 14-6-14-4zM1561 1858l2 1 3-1-3-2zM378 1847l2 4 9-4-9 0zM424 1847l12 1 2-1-2 0zM615 1826l18 7 18-7 10-4 29-2 7-4-7-8-29 6-12 2-16 5zM685 1795l5 6 6-6-6-3z"/>
<path fill="#7ad151" d="M311 2095l12 0 28 0 29 0 28 0 28 0 28 0 28 0 28 0 29 0 28 0 28 0 28 0 28 0 2 0-2-8-26-10 12-10 14-6 9-5-9-6-22 6-6 2-2-2-3-10-23-11-1 0 1-1 9-9-9-10-2-1-18-10-8-3-28-4-17-4-3-10 20-9 2-1-2-1-29 0-4 1-24 8-3 2-25 3-26-3-2 0-22-10-6-4-12 4 0 10 12 5 13 5 1 11-14 6-16 4-6 11 22 8 4 2-4 1-28 1-8-2-21-9-13 9 13 11 0 1 10 9-10 2-28 6-7 3 7 2 24 8-24 5zM380 2078l-14-1 14-2 14 2zM492 2004l1 0zM577 2059l-11-3 11-4 7 4zM1055 2077l1 1 28 9 1 8 27 0 29 0 28 0 28 0 28 0 24 0-9-18 11-10 2-3 7-8-7-3-18-7 4-11-14-5-28-2-5-3 5-3 28-4 8-4-8-2-28-2-17-6-3-11-8-1-28-2-14 3 14 8 10 3-10 2-29 6-16 2-12 5-9 6 9 5 8 5-8 6-25 5 7 10-1 11-9 9zM1112 2056l-1 0 1-2 1 2zM1572 2095l19 0 29 0 28 0 36 0 0-18 0-10 0-11 0-10 0-11 0-9-36 0-6-1 6-1 27-10-27-8-28 8 0 1-18 10-11 3-9 7-19 9-28 1-1 1 1 0 23 10 5 4 17 7 3 10zM1620 2048l-3-2 3-1 1 1zM320 2025l3 1 19-1-19-3zM312 2004l11 5 28-3 10-2-10-4-28-1zM1206 1993l19 4 16-4-16-7-10-3-18-3-10 3 10 6zM1639 1993l9 5 9-5-9-4zM1676 1983l8 0zM1166 1973l3 0 1 0-1-1zM1636 1973l12 6 7-6-7-10zM1253 1962l2 0-2 0zM548 1952l1 0 1 0-1-1zM1646 1952l2 8 7-8-7-1zM771 1868l3 1 4-1-4-1zM1392 1858l2 1 3-1-3-1zM876 1847l11 4 12-4-12-4zM1438 1837l13 6 10-6-10-6zM827 1826l3 4 29-3 1-1-1-1-29-1zM1332 1816l6 3 28-2 7-1-7 0-28-4zM813 1806l17 1 29 4 28-2 9-3-9-3-12-8 12-5 28 3 14-8 14-4 15-7-15-8-10-2 7-11 3-3 14-7 2-10 5-11 7-6 6-4-6-5-16-6 1-10 7-11 8-8 6-2 4-11 11-10-18-10 26-4 4-7-4-2-27-8 5-11 4-10-1-11 2-18-12 0-28 0-28 0-28 0-28 0-29 0-28 0-27 0-1 9-19 9-5 11 21 10-17 11-8 4-8 6 8 4 16-4 12-3 4 3 4 11-8 4-15 6 15 5 15 5-15 8-12 3 8 10-1 11 5 5 28 3 10 2-10 4-28 1-5 6 5 9 4 1 12 11-3 10 4 10 3 11 8 5 19-5-7-11 16-5 15 5-1 11 15 6 6 4-6 5-15-5-14-4-7 4 3 11 4 1 12 9-12 9zM915 1778l-7-4 7-4 6 4zM1443 1806l8 4 5-4-3-11-2-2-14 2zM1390 1795l4 1 9-1 19-4 10-6 19-9 3-2 10-10-13-5-29-5-2-1 2 0 21-10 8-5 28 4 14-9-14-5-28-4-2-2 2 0 26-10-6-11-20-8-5-2 5-3 20-8 8-6 7-4 5-11 0-10-6-10-6-5-13-6 13-3 12-7 1-11 11-10 4-3 4-8-4-2-16-16-12 0-28 0-29 0-28 0-28 0-28 0-11 0-17 17-3 1 3 2 28 4 2 5 8 10-10 7-7 4 7 6 7 4-7 5-15 6 12 10-10 10 13 4 13 7-3 10 18 9 3 2-3 1-28 1-5 8-9 11 4 10 10 4 17 7 11 2 7-2 21-4 11 4-11 5-15 5-13 4-22 6 22 10 8 1-8 5-7 5-2 11 9 4zM1467 1785l12 2 6-2-6-4z"/>
<path fill="#fde725" d="M441 2077l23 8 9 10 19 0 28 0 29 0 17 0-17-14-28-4-1 0-28-3-28-5zM1132 2095l9 0 28 0 28 0 28 0 8 0-8-12-26-6-2-5-12 5-16 2-5-2-19-10-3-11-1 0-1 0-28 9-4 2 4 4 10 6zM1591 2095l29 0 28 0 36 0 0-12-26-6 7-10-14-11-3-9-3 9-16 11-9 2-14 8-15 10zM508 2056l12 5 11-5-11-10zM1393 1712l1 0 2 0-2-1zM881 1701l6 9 9-9-9-3zM852 1680l7 3 9-3-9-3zM829 1670l1 1 3-1-3-1zM1420 1670l2 1 2-1-2-2zM902 1659l13 3 12-3-12-6zM882 1649l5 2 9-2 19-6 28-4 1 0 0-11-1-3-5-7-23-8-8-3 8-10-9-11 9-7 17-11-17 0-11 0-17 11-9-11-19 0-25 0-4 11-9 7 9 8 4 3 12 10 13 9 5 2 17 10-22 7-29 3-3 1 3 0 29 5zM1370 1649l24 4 16-4-16-7zM798 1628l4 7 12-7-12-3zM1411 1628l11 2 3-2-3-5-3-5-16-11 19-9 29 1 5-2-5-4-10-7-1-18-18 0-28 0-16 0-12 18 0 1 25 10-3 10-13 11 19 8zM802 1568l0 8 4-8-4 0z"/>
</g></g>
<clipPath id="cC2"><rect x="147.5" y="1064.2" width="690.5" height="257.4"/></clipPath>
<rect x="147.5" y="1064.2" width="690.5" height="257.4" fill="#440154"/>
<g clip-path="url(#cC2)"><g transform="scale(.5)" stroke="#000" stroke-width="3.9" stroke-linejoin="round" fill-rule="evenodd">
<path fill="#414487" d="M287 2651l36 0 28 0 29 0 28 0 28 0 28 0 28 0 28 0 29 0 28 0 28 0 28 0 28 0 29 0 28 0 28 0 28 0 28 0 28 0 29 0 28 0 28 0 28 0 28 0 29 0 28 0 28 0 28 0 28 0 29 0 28 0 28 0 28 0 28 0 28 0 29 0 28 0 28 0 28 0 28 0 29 0 28 0 28 0 28 0 28 0 28 0 29 0 3 0 25-16 23 16 13 0 0-18 0-10-9-1 9 0 0-10 0-11 0-10 0-11 0-10 0-11 0-10 0-11 0-10 0-11 0-10 0-11 0-10 0-11 0-10 0-11 0-10 0-11 0-10 0-11 0-10 0-11 0-7-36 0-2-3-26-7-17-4 17-5 28-4 3-1 33-3 0-8 0-10 0-11 0-10 0-11 0-11 0-10 0-11 0-10 0-11 0-10 0-11 0-10 0-11 0-10 0-1-30-10-6-1-20-9 20-7 10-4 26-3 0-7 0-11 0-10 0-19-36 0-28 0-29 0-28 0-28 0-28 0-28 0-28 0-29 0-28 0-28 0-28 0-28 0-29 0-28 0-28 0-28 0-28 0-28 0-29 0-28 0-28 0-28 0-28 0-29 0-28 0-28 0-28 0-28 0-29 0-28 0-28 0-28 0-28 0-28 0-29 0-28 0-28 0-28 0-28 0-29 0-28 0-28 0-28 0-28 0-28 0-29 0-28 0-36 0 0 19 0 10 0 11 0 10 0 11 0 10 0 11 0 10 0 11 0 10 0 11 0 10 0 11 0 10 0 11 0 10 0 11 0 11 0 10 0 11 0 10 0 11 0 10 0 11 0 10 0 11 0 10 0 11 0 10 0 11 0 10 0 11 0 10 0 11 0 10 0 11 0 10 0 11 0 10 0 11 0 10 0 11 0 10 0 11 0 10 0 11 0 10 0 11zM380 2281l-3-6 3-7 6 7zM577 2519l-13-2-15-2-29-2-28-1-19-5-9-4-11 4-17 6-16-6-12-8-4-3 4-4 6-6-3-11 25-7 19-3 9-2 28-9 12 11 16 8 8-8 21-4 28 1 28-2 28 3 18 2 10 2 8-2 21-5 28 4 28 0 5 1 23 7 12 3 16 5 28 1 29 3 5 2-5 2-29 7-28-6-20 7 17 11-25 4-28 4-19 2-9 1-5-1 5-3 7-7-3-11-4 0-14 0-10 11-4 1-15 9-14 10-28-5-28-3zM859 2511l-25-4 25-3 3 3zM1563 2371l-4-1 4-10 5 10zM1591 2633l0-1 5 1zM1620 2627l-5-5 5-1 9 1zM661 2297l-6-1-22-2-26-8-2-1-20 1-8 1-28 1-29 1-28 2-19-5-9-8-13 8-15 5-9-5 9-11 3-10 25-8 22-3 6 0 3 0 25 5 29-4 4-1 24-2 28-6 28 7 28-1 29-1 28 0 19 3-3 11 12 7 11 3-11 4-6 7-22 7-28 2-8 1zM802 2278l-4-3 1-10 3 0 28-3 22 3 7 2 16 8-16 6-19-6-10-4-25 4zM1563 2183l-4-2 4-1 3 1zM1591 2194l-9-3 9-2 10 2zM540 2496l9 1 2-1-2-1zM569 2275l8 9 4-9-4-1z"/>
<path fill="#2a788e" d="M287 2651l36 0 28 0 29 0 28 0 28 0 28 0 28 0 28 0 29 0 28 0 28 0 28 0 28 0 29 0 28 0 28 0 28 0 28 0 28 0 29 0 28 0 28 0 28 0 28 0 29 0 28 0 28 0 28 0 28 0 29 0 28 0 28 0 28 0 28 0 28 0 29 0 28 0 28 0 28 0 28 0 6 0 20-18-26-10-3-1 3 0 29-6 16-4 12-5 28 2 13-8 8-10 7-1 1 1 27 8 20 2 8 1 25-1-25-9 0-1-7-11 7-2 6 2 23 8 9 3 19 5 36 4 0-9 0-11 0-10 0-11 0-10 0-11 0-10 0-11 0-10 0-11 0-10 0-11 0-10 0-11 0-10 0-11 0-10 0-11 0-2-36-4-28 3-29-4-28 2-16-5-12-3-28-4-24 7-4 1-5-1-23-8-29 0-16-3 16-8 9-2-9-5-14-6 14-5 13-5 16-6 19-5 9-7 28 7 1 0 27-4 22-6 6-1 28-4 29 3 28-2 36-1 0-6 0-10 0-11 0-11 0-10 0-11 0-10 0-11 0-10 0-11 0-10 0-11 0-2-18 2-18 6-28-2-29 1-28-3-11-2-17-3-28 2-28-4-26-5-2-4-5-7 5-4 6-6-1-11 19-10 4-1 28-5 28 2 28 0 28-2 25-5 4 0 6 0 22 4 36 7 0-11 0-10 0-19-36 0-28 0-29 0-28 0-28 0-28 0-28 0-28 0-29 0-28 0-28 0-28 0-28 0-29 0-28 0-28 0-28 0-28 0-28 0-29 0-28 0-28 0-28 0-28 0-29 0-12 0-16 12-6-12-22 0-22 0-6 10-28 2-29-3-28 5-28-3-28 1-28 1-28 2-29-4-28 2-28-1-28-1-26-11-2 0-2 0-27 15-28-4-28 3-28-1-28-3-27-10-1 0-29 0-28 0-36 0 0 19 0 10 0 11 0 10 0 11 0 10 0 11 0 10 0 11 0 10 0 11 0 9 28-9 8-3 28 1 7 2 22 4 15-4 13-3 28 3 28 3 15-3 13-2 28-1 29 0 20 3 8 1 2-1 26-10 28 6 28 3 29-3 28 0 17 4 11 2 14-2 14-4 28 1 28 2 29-4 28 4 28 0 2 1 26 10 28-4 29 0 21 4-4 11 11 9 5 1 9 11-14 6-28 4-4 0-25 2-5-2-23-4-12 4-16 11-28-6-28 4-29-2-28-3-22 7-6 4-23-4-5 0-28-4-24 4-4 1-29 0-10-1-18-1-28 0-28 0-28-1-23 2-6 0-5 0-23-1-28 0-28 0-28-2-28-1-29-3-28 6-36-7 0 8 0 11 0 10 0 11 0 10 0 11 0 10 0 11 0 10 0 11 0 10 0 11 0 10 0 7 20 4-20 5 0 5 0 8 21-8 15-5 28 4 2 1 27 5 18-5 10-3 21-7 7-2 10 2 18 5 28-4 28 3 29-1 21-3 7-1 12 1 16 1 28 4 28-5 5 0 24-2 28-7 27 9 1 0 2 0 26-6 28 4 28-1 10 3 15 10 4 1 8-1 20-3 28 0 22 3 6 6 19-6 9-4 5 4-5 7-6 4 6 0 25 10 4 2 7-2 21-8 24 8-24 4-13 7 13 8 28-6 13 8-6 11-7 2-28 6-8 2-20 4-29 0-18 7-10 4-20 6-8 2-5-2-23-10-28 5-21-5-8-3-6 3 6 6 6 4-6 1-11-1-17-2-28-1-15 3-13 3-28 1-28 5-29-7-27 9-1 0-2 0-26-4-28 2-23 2-5 0-3 0-26-10-2-1-26-4-28 2-16 2-12 5-12-5-16-5-28 3-26 2-3 1-28 4-19-5 10-10-27-11 0 11 0 10 0 11 0 10 0 11 0 10 0 11 0 10 0 11 0 10 0 11zM1281 2339l0-1 1 1zM1366 2615l-5-3 5-5 9 5zM1451 2340l-8-1 8-1 14 1zM380 2445l-6-1 6-1 2 1zM1366 2362l-13-2 5-11 8-4 7 4 21 10 1 1-1 0zM1366 2204l-4-2 4-5 11-6 3-10 14-2 14-9 14-5 22 5-22 11-2 0-11 10 11 11-26 3zM287 2507l0 9 14-9-14-2zM1478 2370l1 0zM1504 2170l3 2 3-2-3-1z"/>
<path fill="#22a884" d="M287 2651l36 0 28 0 29 0 28 0 28 0 28 0 28 0 28 0 29 0 28 0 28 0 28 0 28 0 29 0 28 0 28 0 28 0 28 0 28 0 29 0 28 0 28 0 28 0 28 0 29 0 28 0 28 0 28 0 28 0 29 0 28 0 28 0 4 0 16-18-12-11 20-2 25-8-25-8-5-3-13-10-10-3-3 3-25 8-20-8-8-6-6-5 3-10 3-4 28 1 4-8-4-5-28 0-29 1-16 4-12 4-28 3-28-5-28 0-29 4-10-6-18-4-28-1-25 5-3 3-4-3-24-4-29 2-3 2-25 7-28 1-28-7-28 7-6 3-22 4-27-4-2-1-28-8-21-2-7-1-5 1-23 4-16-4-12-1-20 1-9 3-17 8-11 2-16-2-12-4-28-1-28-2-28-2-29 5-5 4-23 6-36-6 0 10 0 11 0 10 0 11 0 10 0 11zM1056 2591l-3 0-25-6-13-5 13-4 28-2 12 6-10 11zM1112 2609l-5-8 5-4 16 4zM1169 2632l-11-10 11-3 25 3zM1269 2651l12 0 29 0 2 0-2-8-29-5zM1229 2591l24 7 12-7 16-7 29-4 6-10-6-2-8 2-21 4-28 2-3 4zM1334 2591l4 1 3-1-3-2zM1355 2580l11 4 19-4-19-4zM1178 2570l19 5 28-2 21-3-21-6-28 4zM1532 2570l3 1 4-1 24-6 28-3 29 1 26 8 2 1 6-1 30-6 0-5 0-10 0-11 0-10 0-11 0-10 0-11 0-10 0-11 0-10 0-11 0-10 0-11 0-10 0-3-36 1-3 2-25 2-15-2-14-2-12 2-16 7-25-7-3-2-28-1-16 3 12 10-24 5-28-4-10-1-19-3-25 3-3 0-1 0-18-10-9-4-28-1-18 5-10 5-29-1-19 6 19 5 19 6-19 4-27-4-1-1-28-5-23-5 23-10 3 0 1-11-4-7-3-3-7-11 10-6 16-4-16-5-21-6-7-3-10-7 10-4 28-2 19-5 2-10-21-4-20-7 16-10 4-9 5 9 22 10 1 2 28 0 27 9 2 1 7-1 21-5 28-1 26-5 2-3 28-6 29 5 28 0 6 4 22 3 8-3 20-10 28 5 28-1 19 6 10 1 6-1 22-9 36 2 0-3 0-11 0-11 0-10 0-11 0-10 0-11 0-10 0-11 0-2-36-3-28 2-29-1-28-3-28 2-28-5-1 0-27 1-28 7-29-4-28-2-28 0-28 3-21-5-7-2-5 2-12 10-12 5-12-5-13-10 7-11-10-2-27 2 21 11-19 10-3 1-8-1-20-10 28-11-17-10 17-6 28 0 15-5-15-9-5-1-23-2-26-9 14-10-16-7-28 2-28-1-19-5 17-10-27-4-14 4-3 10-11 2-4-2-21-10 7-19-10 0-9 0 7 19-26 6-28-2-29 6-28-5-28-2-27-3-1 0-28 5-29-4-28 2-28-2-28 2-28-1-28 6-29-1-28-4-28 3-28-5-28 2-29 2-28 0-28-3-28 8 0 1-1-1-24-10-3-1-4 1-24 6-29-3-28 3-36 0 0 4 0 11 0 10 0 11 0 10 0 11 0 10 0 10 21 1 15 1 28 0 29 3 28 5 28-2 28-3 28 5 28-3 29-1 28 0 28-5 28 8 28-2 29-2 28 2 28 1 28-2 28-4 24-1 4 0 1 0 28 6 28 3 26-9 2-1 4 1 24 10 28-7 19-3 10-1 28-1 9 2 12 10 7 3 8-3 14-10 6-1 8 1 10 10 10 4 16-4 1-10 12-6 6 6 22 6 22 4 6 3 10 8-4 10-6 4-14 7 14 7 7 3-7 4-13 7 7 10 6 10 4-10 14-10 10-3 11 3 17 7 6 3 22 11 29-5 5 5-5 3-29-3-28 0-15 0-13 0-16 0-12 0-13 0-15 0-2 0 2 2 3 9-3 8-28-1-13 3-15 11-1 0-11-11 11-4 12-6-12-10-28 7-20 3 1 10-9 3-3-3-13-10-12-9-2-2-26-1-7 1-22 7-16 4-12 2-28 1-28 0-28 0-29 1-28-4-28 4-28 3-28-1-26-6-2-1-23 1-6 0-28 3-27-3-1-1-28 0-5 1-23 3-29 1-16-4-12-3-28 1-8 2-20 3-28-2-28-1-29 5-28-4-11-1-25-3 0 3 0 10 0 11 0 10 0 11 0 10 0 11 0 10 0 11 0 10 0 11 0 4 36 2 7 4 21 3 29-1 5-2 23-9 27 9 1 0 25 0 3 0 28-8 28 2 29 2 28 0 28-4 28 4 28 1 12 3 17 2 6-2 22-8 28 1 28 2 19 5 9 2 11-2-11-6-7-4 7-3 17 3 11 2 29 1 28 0 26 7 2 1 4-1 24-4 28 2 29-2 12 4 16 3 10-3 18-6 16-4 12-10 15 10 13 8 29 0 17-8 11-6 9 6 16 10 2 11 1 0 28 4 18 6-18 8-18 3-10 3-28 6-6 1 6 1 28 8 28-5 28 4 6 3-6 2-28 0-19 8-9 6-26-6-2 0-1 0-15 11 16 3 28-1 9-2 19-5 28 3 18 2-18 1-20 9-8 4-28 5-28-3-7 5 7 2 28 1 28 3 11 4 17 5 11 6 15 10 2 1 2-1 26-10 1-2 3 2 18 10 7 3 28 0 28 3 28-2 29-1 18-3 10-1 24-9 4-1 7 1 1 10zM1366 2320l-10-2 10-6 18 6zM1169 2205l-3-3-19-11 22-4 18 4-12 11zM1225 2269l-15-4 15-4 10 4zM1310 2249l-14-5 14-4 21 4zM1000 2339l-3 0 3-1 2 1zM1056 2412l9 0zM1310 2533l-6-5 6-2 25 2zM287 2559l0 11 36-5 19-6-19-2-36-2zM1071 2549l13 2 3-2-3-1zM1224 2549l1 0 1 0-1-1zM1053 2454l3 1 10-1-10-2zM1166 2454l3 1 4-1-4-1zM1108 2444l4 1 29 3 8-4-8-9-29 0zM1307 2412l3 1 1-1-1-1zM1239 2402l14 0 16 0-16-1zM1420 2402l2 1 3-1-3-1zM1274 2349l7 1 4-1-4-1zM1138 2244l3 1 2-1-2-2zM287 2233l0 2 11-2-11-5zM1392 2212l2 3 2-3-2 0zM1275 2202l6 4 5-4-5-3zM1230 2149l23 6 28-1 14-5 3-10 2-19-19 0-28 0-28 0-28 0-13 0 13 12 15 7 13 8zM1143 2139l26 5 8-5-8-4zM1357 2139l9 0 28 2 28 5 29-1 28-1 27-5 1 0 28 6 28-6 28 4 29-3 28 4 36 2 0-7 0-19-36 0-28 0-29 0-28 0-28 0-28 0-28 0-28 0-29 0-28 0-28 0-28 0-20 0 20 19z"/>
<path fill="#7ad151" d="M287 2651l36 0 28 0 29 0 28 0 28 0 28 0 28 0 28 0 29 0 28 0 28 0 28 0 28 0 29 0 28 0 28 0 28 0 28 0 28 0 29 0 28 0 28 0 28 0 28 0 29 0 28 0 11 0-11-13-14-5 5-11 9-10 17 0-17-1-3 1-25 1-29 1-28-2-28-8-11-3-17-10-1 0-27-4-29 4-28-5-14 5-14 4-28-1-15-3-13-5-28-1-29 0-28 2-28-2-21 6-7 1-15-1-13-2-14 2-15 2-9-2-19-4-28-3-28 2-8 5-20 9-28-5-9 6-20 7-28 3-36-4 0 5 0 10 0 11zM351 2623l-9-1 9-6 3 6zM971 2633l0-1 3 1zM1053 2633l3 0 5 0-5-1zM995 2591l5 4 2-4-2-1zM1556 2549l7 3 9-3 19-7 29-2 6-2-6-7-5-3 5-2 5 2 23 3 19 7 17 6 0-6 0-10 0-11 0-10 0-11 0-10 0-11 0-10 0-11 0-8-34-2-2-1-28-3-29 1-15 3-13 8-7 2-21 3-28 1-21-4-7-1-2 1-16 11-10 7-29 2-1 1-20 11-7 6-10 4 0 11 10 2 28 6 29 0 5 2-3 11 26 2 18 8 10 3 13-3 15-9 23 9zM1648 2455l-8-1 8-9 4 9zM1412 2528l10 4 27-4-27-7zM287 2412l0 4 36-1 12-3 16-5 18-5 11-3 10 3 18 6 28 3 28-3 28-1 27 5 1 0 29 4 13-4 15-2 17 2 11 2 25-2 3 0 28-5 29 2 20 3 8 1 28 3 10-4 18-6 28 3 8 3 20 3 22-3 7-2 28-6 28-1 28 3 9-4 19-9 27-2 1-10 1-1 1 1 27 7 14-7 9-11-14-10-9-1-16-10-12-3-29 2-26-9-2-1-11 1-17 0-28 4-28 1-12-5-17-7-28 0-18-4-10-1-3 1-25 8-28-1-28-3-29 2-28 1-28-3-21-4-7-1-6 1-22 5-19 6-10 2-10-2-18-9-15-2-13-1-5 1-1 11-22 3-28-2-7-1-21-3-29 2-5 1-10 10-13 4-17-4-19-3 0 3 0 11 0 10 0 11 0 10 0 7 36 0 11 4-11 5-36-1zM1052 2391l4 1 7-1-7-1zM1524 2307l11 1 4-1-4-10-1-1 1 0 28-1 3 1 25 8 17 3 12 2 28 0 9-2 27-4 0-7 0-10 0-11 0-10 0-11 0-10 0-4-25 4-11 3-18-3-10-2-29-2-28 1-11 3-17 10-28-9-15 9-5 11-8 3-13-3-6-11-9-8-29 3-15 5 12 11-25 1-15 9 15 10 5 1 23 6 21 4 8 1 28 4 28 2zM1479 2288l-3-2 3-1 2 1zM310 2212l13 2 6-2 22-4 29 1 8 3 20 6 28-5 28 3 28-3 28 3 29 2 28-1 28-1 28 1 28 1 29-2 28-3 28 4 27-5 1 0 1 0 27 3 28 1 29 1 28-2 7-3 21-5 23-5 5-2 28-1 17 3 12 8 20-8 8-2 28-2 12-7-12-6-9-4 9-4 9-7-9-2-12 2-16 5-19-5-9-3-29-2-28-1-10-4-18-6-25 6-3 1-28-1-1 0-28-9-28 6-28 0-28-5-22-3-6 0-3 0-25 9-29-1-28-5-28 3-28 1-28-1-29-2-28 2-28-4-28 6-28 1-27 2-1 0-1 0-28-6-21 6-7 2-36 5 0 3 0 11 0 10 0 11 0 7zM1000 2195l-4-4 4-1 5 1zM942 2212l1 1 2-1-2-1zM1097 2191l15 4 9-4-9-4zM1077 2181l7 1 3-1-3-1zM1452 2120l27 9 8-9-8 0zM1561 2120l2 9 10-9-10 0zM1597 2120l23 9 28 5 36-2 0-12-36 0-28 0z"/>
<path fill="#fde725" d="M368 2633l12 2 22-2-22-3zM426 2651l10 0 28 0 28 0 22 0 6-10 18 10 11 0 28 0 28 0 28 0 28 0 29 0 28 0 28 0 24 0 4-12 5 12 23 0 28 0 29 0 17 0 4-18-21-3-18 3-11 7-13-7-15-3-28 2-28-9-1-1-27-4-15 4-13 6-29-3-28 8-28 3-12-3 12-8 14-3 2-10-16-4-10 4-18 5-28 4-29-4-28 2-17 3-11 2-11 9-17 7zM718 2634l-2-1 2-1 2 1zM903 2651l12 0 6 0-6-11zM1648 2507l36 6 0-6 0-11 0-10 0-11 0-2-27 2-9 1-16-1-12-1-5 1-24 4-28 0-10 7 10 5 28 2 23-7 6-7 3 7 25 9 8 1-8 10zM1642 2465l6 6 4-6-4-1zM573 2402l4 0 3 0-3-2zM462 2391l2 0 28 4 14-4 14-6 22 6 7 2 7-2 21-3 28 1 19 2 9 2 28 2 27-4 2-7 4 7 24 3 27-3 1 0 28-8 21-2 7-1 18 1-18 6-1 4 1 0 28 1 4-1 25-7 12-3 4-11 3-10-19-2-7 2-22 5-13-5-15-8-28 5-28-7-5-1-23-2-21 2-7 3-29 0-28-1-9-2-19-2-7 2-21 3-12-3-16-4-29 3-28-1-12 2-16 6-28-1-28 2-25 4 25 5 11 5-11 5-17 6 17 6 28-4zM344 2360l7 5 20-5-20-2zM1638 2286l10 1 36 1 0-2 0-3-20-8-7-10-9-9-23 9-5 2-3-2-26-3-13 3 13 5 22 5 7 4zM453 2202l11 3 15-3 13-10 28 6 29 3 13 1 15 1 28 1 28-2 2 0 26-4 29 1 28-3 14-5 14-5 21 5 7 4 22-4 6 0 28-9 3-1-3-4-28-5-25 9-3 3-3-3-6-11-19-5-19 5-9 2-28 2-8-4-21-3-17 3-11 3-7-3-21-5-21 5-7 4-13-4-15-3-29 3-28 0-5 0-23 3-18 8-6 10zM398 2191l10 4 21-4 3-10-24-7-23 7zM346 2181l5 3 13-3-13-1z"/>
</g></g>
<rect x="147.5" y="788" width="690.5" height="255.7" fill="none" stroke="#000" stroke-width="2"/>
<line x1="136.5" y1="974" x2="147.5" y2="974" stroke="#000" stroke-width="2"/>
<text x="126.5" y="984" font-size="28" text-anchor="end" fill="#000">2</text>
<line x1="136.5" y1="881" x2="147.5" y2="881" stroke="#000" stroke-width="2"/>
<text x="126.5" y="891" font-size="28" text-anchor="end" fill="#000">4</text>
<line x1="136.5" y1="788" x2="147.5" y2="788" stroke="#000" stroke-width="2"/>
<text x="126.5" y="798" font-size="28" text-anchor="end" fill="#000">6</text>
<rect x="147.5" y="1064.2" width="690.5" height="257.4" fill="none" stroke="#000" stroke-width="2"/>
<line x1="136.5" y1="1251.4" x2="147.5" y2="1251.4" stroke="#000" stroke-width="2"/>
<text x="126.5" y="1261.4" font-size="28" text-anchor="end" fill="#000">2</text>
<line x1="136.5" y1="1157.8" x2="147.5" y2="1157.8" stroke="#000" stroke-width="2"/>
<text x="126.5" y="1167.8" font-size="28" text-anchor="end" fill="#000">4</text>
<line x1="136.5" y1="1064.2" x2="147.5" y2="1064.2" stroke="#000" stroke-width="2"/>
<text x="126.5" y="1074.2" font-size="28" text-anchor="end" fill="#000">6</text>
<line x1="335.8" y1="1321.6" x2="335.8" y2="1332.6" stroke="#000" stroke-width="2"/>
<text x="335.8" y="1366" font-size="28" text-anchor="middle" fill="#000">2</text>
<line x1="586.9" y1="1321.6" x2="586.9" y2="1332.6" stroke="#000" stroke-width="2"/>
<text x="586.9" y="1366" font-size="28" text-anchor="middle" fill="#000">4</text>
<line x1="838" y1="1321.6" x2="838" y2="1332.6" stroke="#000" stroke-width="2"/>
<text x="838" y="1366" font-size="28" text-anchor="middle" fill="#000">6</text>
<rect x="858" y="1232.7" width="24.2" height="89.4" fill="#440154"/>
<line x1="882.2" y1="1277.1" x2="893.2" y2="1277.1" stroke="#000" stroke-width="2"/>
<text x="901" y="1287.6" font-size="28" text-anchor="start" fill="#000">1</text>
<rect x="858" y="1143.7" width="24.2" height="89.4" fill="#414487"/>
<line x1="882.2" y1="1188.2" x2="893.2" y2="1188.2" stroke="#000" stroke-width="2"/>
<text x="901" y="1198.7" font-size="28" text-anchor="start" fill="#000">2</text>
<rect x="858" y="1054.8" width="24.2" height="89.4" fill="#2a788e"/>
<line x1="882.2" y1="1099.3" x2="893.2" y2="1099.3" stroke="#000" stroke-width="2"/>
<text x="901" y="1109.8" font-size="28" text-anchor="start" fill="#000">3</text>
<rect x="858" y="965.9" width="24.2" height="89.4" fill="#22a884"/>
<line x1="882.2" y1="1010.3" x2="893.2" y2="1010.3" stroke="#000" stroke-width="2"/>
<text x="901" y="1020.8" font-size="28" text-anchor="start" fill="#000">4</text>
<rect x="858" y="876.9" width="24.2" height="89.4" fill="#7ad151"/>
<line x1="882.2" y1="921.4" x2="893.2" y2="921.4" stroke="#000" stroke-width="2"/>
<text x="901" y="931.9" font-size="28" text-anchor="start" fill="#000">5</text>
<rect x="858" y="788" width="24.2" height="89.4" fill="#fde725"/>
<line x1="882.2" y1="832.5" x2="893.2" y2="832.5" stroke="#000" stroke-width="2"/>
<text x="901" y="843" font-size="28" text-anchor="start" fill="#000">6</text>
<rect x="858" y="788" width="24.2" height="533.6" fill="none" stroke="#000" stroke-width="2"/>
<text x="953.5" y="1054.7" font-size="28" text-anchor="middle" transform="rotate(-90 953.5 1054.7)" fill="#000">cell group</text>
</g>
<g id="panel_d">
<text x="1441" y="760" font-size="28" text-anchor="middle" font-weight="bold" fill="#000">EEG traces</text>
<rect x="1051.8" y="776.3" width="284.5" height="167.5" fill="#fff" stroke="none" stroke-width="2"/>
<g stroke="rgba(0,0,0,0.12)" stroke-width="2">
<line x1="1064.2" y1="776.3" x2="1064.2" y2="943.8"/>
<line x1="1132.8" y1="776.3" x2="1132.8" y2="943.8"/>
<line x1="1201.5" y1="776.3" x2="1201.5" y2="943.8"/>
<line x1="1270.1" y1="776.3" x2="1270.1" y2="943.8"/>
<line x1="1051.8" y1="934.8" x2="1336.2" y2="934.8"/>
<line x1="1051.8" y1="902" x2="1336.2" y2="902"/>
<line x1="1051.8" y1="869.2" x2="1336.2" y2="869.2"/>
<line x1="1051.8" y1="836.4" x2="1336.2" y2="836.4"/>
<line x1="1051.8" y1="803.6" x2="1336.2" y2="803.6"/>
</g>
<polyline fill="none" stroke="#808080" stroke-width="3" stroke-linejoin="miter" stroke-miterlimit="3" points="1064.2,811.8 1065.6,797.6 1066.9,868.3 1068.3,797.8 1069.7,837.3 1071.1,856.7 1072.4,860.7 1073.8,870.7 1075.2,856.7 1076.6,838.3 1077.9,847.2 1079.3,849.3 1080.7,901.1 1082,900.9 1083.4,837.4 1084.8,851.4 1086.2,827.4 1087.5,849 1088.9,896.8 1090.3,849.1 1091.7,863.5 1093,872.7 1094.4,894.8 1095.8,877.8 1097.1,881.2 1098.5,859.6 1099.9,875.8 1101.3,845.3 1102.6,894.9 1104,868.8 1105.4,868.3 1106.7,896.9 1108.1,903.6 1109.5,857.5 1110.9,867.8 1112.2,882 1113.6,870.3 1115,892.6 1116.4,873.3 1117.7,890.8 1119.1,873.9 1120.5,856.8 1121.8,884.2 1123.2,858.8 1124.6,897.7 1126,881.2 1127.3,902.8 1128.7,875.1 1130.1,869.8 1131.5,873.8 1132.8,873.2 1134.2,836.9 1135.6,832.2 1136.9,884.4 1138.3,830.6 1139.7,887.5 1141.1,862.7 1142.4,846.8 1143.8,836.9 1145.2,857.7 1146.5,847.9 1147.9,828.9 1149.3,843.8 1150.7,810.2 1152,815.6 1153.4,811.6 1154.8,834.9 1156.2,836.5 1157.5,841 1158.9,854.1 1160.3,859.4 1161.6,874.4 1163,842.9 1164.4,861.8 1165.8,866 1167.1,861.7 1168.5,857.2 1169.9,840.5 1171.3,877.8 1172.6,881.8 1174,870.3 1175.4,893.2 1176.7,849.5 1178.1,857.3 1179.5,862.7 1180.9,880.1 1182.2,862.4 1183.6,856.1 1185,867.8 1186.4,884.4 1187.7,914 1189.1,858.8 1190.5,886.1 1191.8,896.5 1193.2,860.1 1194.6,871.7 1196,908.5 1197.3,880.8 1198.7,884.3 1200.1,857.7 1201.5,918.2 1202.8,886.3 1204.2,880.9 1205.6,848 1206.9,900.2 1208.3,932.8 1209.7,905.6 1211.1,870.3 1212.4,858 1213.8,837.6 1215.2,864.3 1216.5,888.1 1217.9,850.8 1219.3,867.4 1220.7,868.8 1222,861.2 1223.4,831.5 1224.8,873.5 1226.2,872.1 1227.5,847.9 1228.9,843.9 1230.3,855.7 1231.6,853.6 1233,824.4 1234.4,802.2 1235.8,814.1 1237.1,802 1238.5,803.6 1239.9,873.3 1241.3,865.9 1242.6,852.3 1244,866.3 1245.4,866 1246.7,847.8 1248.1,880.3 1249.5,866.4 1250.9,903.4 1252.2,884.1 1253.6,838.1 1255,880.1 1256.4,863.8 1257.7,857.4 1259.1,883.9 1260.5,862.6 1261.8,871.1 1263.2,861.7 1264.6,890.2 1266,907.6 1267.3,899.1 1268.7,889.6 1270.1,933.2 1271.4,882.7 1272.8,886.9 1274.2,882.4 1275.6,855.6 1276.9,890.8 1278.3,847 1279.7,904.5 1281.1,891.2 1282.4,860.8 1283.8,867.8 1285.2,896.6 1286.5,880.8 1287.9,893.3 1289.3,860.4 1290.7,866.7 1292,892.7 1293.4,869.1 1294.8,884.7 1296.2,877.9 1297.5,874.4 1298.9,886.7 1300.3,864.9 1301.6,862.9 1303,862 1304.4,845.8 1305.8,872.5 1307.1,935.5 1308.5,871.3 1309.9,853.4 1311.2,853.5 1312.6,837.8 1314,828.9 1315.4,844.3 1316.7,840.3 1318.1,855.4 1319.5,810.2 1320.9,816.7 1322.2,783.9"/>
<rect x="1051.8" y="776.3" width="284.5" height="167.5" fill="none" stroke="#000" stroke-width="2"/>
<rect x="1355.8" y="776.3" width="474.2" height="167.5" fill="#fff" stroke="none" stroke-width="2"/>
<g stroke="rgba(0,0,0,0.12)" stroke-width="2">
<line x1="1376.7" y1="776.3" x2="1376.7" y2="943.8"/>
<line x1="1514" y1="776.3" x2="1514" y2="943.8"/>
<line x1="1651.2" y1="776.3" x2="1651.2" y2="943.8"/>
<line x1="1788.5" y1="776.3" x2="1788.5" y2="943.8"/>
<line x1="1355.8" y1="936.9" x2="1830" y2="936.9"/>
<line x1="1355.8" y1="902" x2="1830" y2="902"/>
<line x1="1355.8" y1="867.1" x2="1830" y2="867.1"/>
<line x1="1355.8" y1="832.2" x2="1830" y2="832.2"/>
<line x1="1355.8" y1="797.3" x2="1830" y2="797.3"/>
</g>
<polyline fill="none" stroke="#808080" stroke-width="3" stroke-linejoin="miter" stroke-miterlimit="3" points="1376.7,785.1 1378.1,834 1379.4,791.5 1380.8,811.5 1382.2,869.9 1383.6,838.7 1384.9,834.2 1386.3,830.5 1387.7,841.1 1389.1,867.2 1390.4,847.5 1391.8,872.5 1393.2,913.2 1394.5,881.6 1395.9,883.3 1397.3,848.5 1398.7,847.8 1400,896 1401.4,869.7 1402.8,872.4 1404.2,907.2 1405.5,921.5 1406.9,878.1 1408.3,873.3 1409.6,889.9 1411,932.7 1412.4,877.6 1413.8,890 1415.1,897 1416.5,884.5 1417.9,902.5 1419.2,864.8 1420.6,877 1422,889.7 1423.4,870.9 1424.7,877.9 1426.1,911 1427.5,880.1 1428.9,887 1430.2,915.4 1431.6,890.9 1433,866.4 1434.3,889.4 1435.7,843.5 1437.1,836.4 1438.5,880.3 1439.8,860.1 1441.2,826.6 1442.6,877 1444,887.7 1445.3,874.8 1446.7,893.4 1448.1,889.7 1449.4,851.4 1450.8,861.5 1452.2,842.6 1453.6,832.8 1454.9,856.5 1456.3,839.6 1457.7,837.5 1459,843.3 1460.4,844.6 1461.8,817.5 1463.2,804.3 1464.5,817.5 1465.9,804.3 1467.3,806.6 1468.7,857.5 1470,855.7 1471.4,846.6 1472.8,842.4 1474.1,828.5 1475.5,875 1476.9,867.1 1478.3,855.2 1479.6,836.2 1481,835.4 1482.4,890.8 1483.8,874.8 1485.1,889.6 1486.5,853.9 1487.9,863.8 1489.2,882.5 1490.6,888.8 1492,869.1 1493.4,854.2 1494.7,893.5 1496.1,883.9 1497.5,874.3 1498.9,876.6 1500.2,869.5 1501.6,899.5 1503,890.5 1504.3,924.2 1505.7,876 1507.1,853.4 1508.5,923.2 1509.8,891.3 1511.2,857.1 1512.6,880.2 1514,919.2 1515.3,850.6 1516.7,908.4 1518.1,845.6 1519.4,888.9 1520.8,891.2 1522.2,874.3 1523.6,874.7 1524.9,859.9 1526.3,861 1527.7,874.2 1529,839.7 1530.4,851.3 1531.8,858.8 1533.2,859.2 1534.5,861.2 1535.9,857.2 1537.3,836.7 1538.7,836.7 1540,842.1 1541.4,816 1542.8,840.4 1544.1,821.2 1545.5,808.7 1546.9,850.6 1548.3,783.7 1549.6,787.9 1551,846.5 1552.4,801.3 1553.8,853.5 1555.1,824.3 1556.5,861.1 1557.9,855.3 1559.2,854.3 1560.6,862.4 1562,831.7 1563.4,839.3 1564.7,841.8 1566.1,859.8 1567.5,830 1568.9,845.7 1570.2,863.1 1571.6,895.2 1573,857.7 1574.3,859.3 1575.7,872.6 1577.1,859.3 1578.5,858.6 1579.8,935.5 1581.2,863.8 1582.6,868.9 1583.9,869.9 1585.3,884.6 1586.7,887.4 1588.1,874.5 1589.4,845.3 1590.8,825.3 1592.2,885.5 1593.6,900.8 1594.9,884.9 1596.3,895.8 1597.7,886.4 1599,868.1 1600.4,897.3 1601.8,863.1 1603.2,858.8 1604.5,842.3 1605.9,835.2 1607.3,853.1 1608.7,824.1 1610,885.2 1611.4,867 1612.8,868.2 1614.1,860.8 1615.5,846.1 1616.9,874.1 1618.3,826.2 1619.6,833.2 1621,850.6 1622.4,844.3 1623.8,872.4 1625.1,901.9 1626.5,844.1 1627.9,830.7 1629.2,828.7 1630.6,854.7 1632,837.3 1633.4,787.9 1634.7,793.8 1636.1,810.4 1637.5,832.1 1638.8,810.8 1640.2,801.5 1641.6,816.8 1643,846.8 1644.3,835.7 1645.7,866 1647.1,857.4 1648.5,841.4 1649.8,870.1 1651.2,866.6 1652.6,832.4 1653.9,870.4 1655.3,851.6 1656.7,877 1658.1,897 1659.4,872.7 1660.8,881.7 1662.2,919.1 1663.6,901.7 1664.9,884.8 1666.3,843.1 1667.7,888.9 1669,877.1 1670.4,862.6 1671.8,870.2 1673.2,884.3 1674.5,839.1 1675.9,847.2 1677.3,931 1678.7,855.7 1680,864.9 1681.4,855.2 1682.8,874.9 1684.1,858.5 1685.5,833.9 1686.9,838.6 1688.3,836.7 1689.6,852.8 1691,855.3 1692.4,854.5 1693.7,899.7 1695.1,824 1696.5,868.3 1697.9,865.4 1699.2,868.8 1700.6,859.5 1702,915.3 1703.4,861.1 1704.7,891.8 1706.1,882.7 1707.5,898.7 1708.8,891.9 1710.2,836.8 1711.6,856.4 1713,843.5 1714.3,840.8 1715.7,858.7 1717.1,845.2 1718.5,854.7 1719.8,831.8 1721.2,790.3 1722.6,832.9 1723.9,805.3 1725.3,800.9 1726.7,805.4 1728.1,823.5 1729.4,860.9 1730.8,822.8 1732.2,835.8 1733.6,845.6 1734.9,882.3 1736.3,850.3 1737.7,830.8 1739,848.4 1740.4,872.3 1741.8,857.1 1743.2,870.8 1744.5,868.2 1745.9,854.5 1747.3,866.5 1748.6,873.2 1750,866.9 1751.4,894 1752.8,898.3 1754.1,865.7 1755.5,889.9 1756.9,864.5 1758.3,917.9 1759.6,850.5 1761,879.4 1762.4,840.3 1763.7,932.2 1765.1,914.6 1766.5,846.1 1767.9,873.7 1769.2,870.4 1770.6,874.3 1772,873.3 1773.4,864.8 1774.7,898.9 1776.1,880 1777.5,847.1 1778.8,871.5 1780.2,888.8 1781.6,872.3 1783,850.5 1784.3,877.1 1785.7,875.4 1787.1,859.1 1788.5,849.3 1789.8,833.2 1791.2,866.3 1792.6,852.8 1793.9,833.9 1795.3,895.6 1796.7,846 1798.1,834.7 1799.4,842.4 1800.8,855.2 1802.2,819.4 1803.5,801.4 1804.9,828.3 1806.3,835.3 1807.7,799"/>
<rect x="1355.8" y="776.3" width="474.2" height="167.5" fill="none" stroke="#000" stroke-width="2"/>
<rect x="1051.8" y="964.3" width="284.5" height="167.3" fill="#fff" stroke="none" stroke-width="2"/>
<g stroke="rgba(0,0,0,0.12)" stroke-width="2">
<line x1="1064.2" y1="964.3" x2="1064.2" y2="1131.6"/>
<line x1="1132.8" y1="964.3" x2="1132.8" y2="1131.6"/>
<line x1="1201.5" y1="964.3" x2="1201.5" y2="1131.6"/>
<line x1="1270.1" y1="964.3" x2="1270.1" y2="1131.6"/>
<line x1="1051.8" y1="1097.6" x2="1336.2" y2="1097.6"/>
<line x1="1051.8" y1="1061.6" x2="1336.2" y2="1061.6"/>
<line x1="1051.8" y1="1025.6" x2="1336.2" y2="1025.6"/>
<line x1="1051.8" y1="989.6" x2="1336.2" y2="989.6"/>
</g>
<polyline fill="none" stroke="#808080" stroke-width="3" stroke-linejoin="miter" stroke-miterlimit="3" points="1064.2,993.2 1065.6,989 1066.9,1018.1 1068.3,1046.8 1069.7,1054 1071.1,1036.3 1072.4,1040.5 1073.8,1031.6 1075.2,1068.1 1076.6,1049.3 1077.9,1038.1 1079.3,1092.6 1080.7,1004.3 1082,1046.4 1083.4,1049.8 1084.8,1093.7 1086.2,1088.9 1087.5,1043.3 1088.9,1047.3 1090.3,1120.6 1091.7,1042.6 1093,1052.9 1094.4,1055.7 1095.8,1095.9 1097.1,1064.7 1098.5,1084.7 1099.9,1058 1101.3,1028.8 1102.6,1056.4 1104,1047.8 1105.4,1078.4 1106.7,1094.7 1108.1,1070.9 1109.5,1047.3 1110.9,1037.3 1112.2,1072.4 1113.6,1065 1115,1079.9 1116.4,1110.1 1117.7,1068.4 1119.1,1062 1120.5,1079.2 1121.8,1073.2 1123.2,1110.1 1124.6,1066.7 1126,1035.3 1127.3,1066.6 1128.7,1051 1130.1,1052.8 1131.5,1078.5 1132.8,1053.9 1134.2,1074.8 1135.6,985.7 1136.9,1044.4 1138.3,1070.2 1139.7,1076.2 1141.1,1002.1 1142.4,1017.8 1143.8,1018.5 1145.2,1055.1 1146.5,1033.5 1147.9,1046 1149.3,991.4 1150.7,993.2 1152,975.9 1153.4,1006.9 1154.8,1029 1156.2,994.2 1157.5,1077.4 1158.9,1052.6 1160.3,1047.2 1161.6,1017.8 1163,1021.8 1164.4,1042.3 1165.8,1094.8 1167.1,1069.1 1168.5,1085 1169.9,1033.1 1171.3,1073.8 1172.6,1051.6 1174,1023.7 1175.4,1069.2 1176.7,1052.2 1178.1,1077.7 1179.5,1068.3 1180.9,1068.8 1182.2,1069.8 1183.6,1068.8 1185,1079.6 1186.4,1027.8 1187.7,1085.8 1189.1,1065.3 1190.5,1077.9 1191.8,1120.6 1193.2,1048.7 1194.6,1065.8 1196,1102.7 1197.3,1123.5 1198.7,1108.2 1200.1,1064.4 1201.5,1034.9 1202.8,1042.6 1204.2,1100.2 1205.6,1109.9 1206.9,1057.7 1208.3,1030.6 1209.7,1067.7 1211.1,1044 1212.4,1099.4 1213.8,1068.7 1215.2,1054.6 1216.5,1072.6 1217.9,1066.3 1219.3,1043 1220.7,1070.3 1222,1075.5 1223.4,1031.8 1224.8,1039.4 1226.2,1063.6 1227.5,1026.2 1228.9,1044.7 1230.3,1012.8 1231.6,1023.9 1233,1027.2 1234.4,1036.1 1235.8,1012.4 1237.1,971.6 1238.5,975.9 1239.9,1020.8 1241.3,1053.7 1242.6,978.6 1244,1077.4 1245.4,996.8 1246.7,1059.2 1248.1,1011.7 1249.5,1052.1 1250.9,1039.2 1252.2,1054.4 1253.6,1060.6 1255,1048.7 1256.4,1077.6 1257.7,1053.6 1259.1,1091 1260.5,1084.2 1261.8,1080 1263.2,1071.4 1264.6,1041.7 1266,1089.5 1267.3,1090.5 1268.7,1096.9 1270.1,1080.6 1271.4,1058.5 1272.8,1088.8 1274.2,1078.5 1275.6,1085.4 1276.9,1069.9 1278.3,1118.3 1279.7,1058.3 1281.1,1050.6 1282.4,1091.2 1283.8,1073.5 1285.2,1092.7 1286.5,1048.6 1287.9,1057 1289.3,1004.6 1290.7,1075.9 1292,1091 1293.4,1081.4 1294.8,1098.9 1296.2,1064.5 1297.5,1061.4 1298.9,1046.3 1300.3,1057 1301.6,1074.4 1303,1033.3 1304.4,1047.7 1305.8,1039.4 1307.1,1082.6 1308.5,1071.5 1309.9,1063.2 1311.2,1053.4 1312.6,1090.3 1314,1007.7 1315.4,1035.8 1316.7,1007.2 1318.1,1005.2 1319.5,985.5 1320.9,1004.6 1322.2,982.4"/>
<rect x="1051.8" y="964.3" width="284.5" height="167.3" fill="none" stroke="#000" stroke-width="2"/>
<rect x="1355.8" y="964.3" width="474.2" height="167.3" fill="#fff" stroke="none" stroke-width="2"/>
<g stroke="rgba(0,0,0,0.12)" stroke-width="2">
<line x1="1376.7" y1="964.3" x2="1376.7" y2="1131.6"/>
<line x1="1514" y1="964.3" x2="1514" y2="1131.6"/>
<line x1="1651.2" y1="964.3" x2="1651.2" y2="1131.6"/>
<line x1="1788.5" y1="964.3" x2="1788.5" y2="1131.6"/>
<line x1="1355.8" y1="1124.2" x2="1830" y2="1124.2"/>
<line x1="1355.8" y1="1092.2" x2="1830" y2="1092.2"/>
<line x1="1355.8" y1="1060.2" x2="1830" y2="1060.2"/>
<line x1="1355.8" y1="1028.1" x2="1830" y2="1028.1"/>
<line x1="1355.8" y1="996.1" x2="1830" y2="996.1"/>
</g>
<polyline fill="none" stroke="#808080" stroke-width="3" stroke-linejoin="miter" stroke-miterlimit="3" points="1376.7,997.7 1378.1,1017.9 1379.4,985.8 1380.8,1060.2 1382.2,1041.5 1383.6,1024.9 1384.9,1001.2 1386.3,1060.8 1387.7,1051.4 1389.1,1042.8 1390.4,985.7 1391.8,1070.2 1393.2,1058.4 1394.5,1042.3 1395.9,1074 1397.3,1053.3 1398.7,1054.1 1400,1071 1401.4,1057.3 1402.8,1029.9 1404.2,1063.2 1405.5,1075 1406.9,1081.9 1408.3,1062.1 1409.6,1045.8 1411,1064.2 1412.4,1061 1413.8,1013.1 1415.1,1083.2 1416.5,1089.7 1417.9,1062 1419.2,1072 1420.6,1055.8 1422,1042.2 1423.4,1060.2 1424.7,1071.5 1426.1,1056.7 1427.5,1057.3 1428.9,1069 1430.2,1078.7 1431.6,1053 1433,1070.5 1434.3,1089.5 1435.7,1051.5 1437.1,1075.6 1438.5,1075.2 1439.8,1049.9 1441.2,1078.1 1442.6,1064.2 1444,1079 1445.3,1088.1 1446.7,1048.4 1448.1,1019.7 1449.4,1123.3 1450.8,1021 1452.2,1019.2 1453.6,1006.2 1454.9,1055 1456.3,1042.6 1457.7,992.1 1459,1023.9 1460.4,1020.8 1461.8,1004.8 1463.2,971.7 1464.5,1030.8 1465.9,1025.5 1467.3,1010.5 1468.7,1021.2 1470,1045.2 1471.4,1008 1472.8,1020.7 1474.1,1048.5 1475.5,1057 1476.9,1030.3 1478.3,1101.6 1479.6,1052.7 1481,1069.4 1482.4,1073 1483.8,1042.7 1485.1,1055.9 1486.5,1000.6 1487.9,1068.5 1489.2,1057.2 1490.6,1093.9 1492,1045 1493.4,1078.2 1494.7,1061.8 1496.1,1039.9 1497.5,1042.4 1498.9,1056.7 1500.2,1040.6 1501.6,1075.9 1503,1086 1504.3,1098.1 1505.7,1055.6 1507.1,1026.7 1508.5,1073.6 1509.8,1066.7 1511.2,1073.3 1512.6,1056.8 1514,1104 1515.3,1049 1516.7,1044.2 1518.1,1080 1519.4,1086.4 1520.8,1083.4 1522.2,1053.6 1523.6,1034.6 1524.9,1083.8 1526.3,1094.1 1527.7,1059.2 1529,1054.3 1530.4,1043.5 1531.8,1070 1533.2,1038.4 1534.5,1028 1535.9,1080.8 1537.3,1049.8 1538.7,1027.3 1540,1020.2 1541.4,1043.3 1542.8,1068.1 1544.1,1040.9 1545.5,1051.4 1546.9,1030.9 1548.3,998.1 1549.6,1002.5 1551,1018.1 1552.4,1046.4 1553.8,1005.2 1555.1,1040.3 1556.5,1052.6 1557.9,996.9 1559.2,1032.2 1560.6,1029 1562,1087.6 1563.4,1021 1564.7,1018 1566.1,1058.7 1567.5,1064.3 1568.9,1072 1570.2,1039.6 1571.6,1095.2 1573,1057.4 1574.3,1024.1 1575.7,1062.9 1577.1,1025.8 1578.5,1066.2 1579.8,1073.3 1581.2,1048.6 1582.6,1069 1583.9,1065.7 1585.3,1076.1 1586.7,1092.7 1588.1,1074.3 1589.4,1053.6 1590.8,1046 1592.2,1069.6 1593.6,1061.8 1594.9,1087.1 1596.3,1071.6 1597.7,1071.1 1599,1070.7 1600.4,1066.5 1601.8,1060.3 1603.2,1042.3 1604.5,1051.3 1605.9,1056.2 1607.3,1091.2 1608.7,1082.2 1610,1064.1 1611.4,1062.1 1612.8,1048.2 1614.1,1097.9 1615.5,1056.7 1616.9,1055.9 1618.3,1063.1 1619.6,1069.8 1621,1046 1622.4,1050.6 1623.8,1034 1625.1,1080.8 1626.5,1054.2 1627.9,1000.6 1629.2,1023.4 1630.6,1040.6 1632,1028.6 1633.4,1046.6 1634.7,980 1636.1,989.9 1637.5,1002.1 1638.8,997.4 1640.2,1015.1 1641.6,1001 1643,1018.7 1644.3,1006.7 1645.7,1040 1647.1,1045.1 1648.5,1058.4 1649.8,1059.8 1651.2,1085.3 1652.6,1028.7 1653.9,1029.4 1655.3,1044.9 1656.7,1041 1658.1,1058 1659.4,1053.7 1660.8,1091.9 1662.2,1066.6 1663.6,1102.5 1664.9,1079.9 1666.3,1072.3 1667.7,1073.1 1669,1088.5 1670.4,1041 1671.8,1047.1 1673.2,1078 1674.5,1092.4 1675.9,1077.4 1677.3,1048.4 1678.7,1106.3 1680,1051.2 1681.4,1070.2 1682.8,1075.5 1684.1,1046.7 1685.5,1066.9 1686.9,1074.3 1688.3,1041.8 1689.6,1099.1 1691,1033.7 1692.4,1083.3 1693.7,1082.7 1695.1,1032.9 1696.5,996.9 1697.9,1038.5 1699.2,1079.5 1700.6,1105.5 1702,1054.6 1703.4,1057.6 1704.7,1067.2 1706.1,1055.3 1707.5,1063.4 1708.8,1029.2 1710.2,1044.3 1711.6,1042.9 1713,1079.4 1714.3,1025.7 1715.7,1056.7 1717.1,1009 1718.5,1022.1 1719.8,1060.9 1721.2,978.4 1722.6,1043.3 1723.9,1009 1725.3,1013.2 1726.7,1003.7 1728.1,1044.2 1729.4,1022.3 1730.8,1064.3 1732.2,1033.7 1733.6,1048.9 1734.9,1043 1736.3,1051.4 1737.7,1033.3 1739,1063.6 1740.4,1062.5 1741.8,1032.1 1743.2,1063.5 1744.5,1074.1 1745.9,1082.6 1747.3,1064.8 1748.6,1066.4 1750,1053.2 1751.4,1070.1 1752.8,1053 1754.1,1072.6 1755.5,1035.1 1756.9,1068.6 1758.3,1053.9 1759.6,1060 1761,1094.6 1762.4,1047 1763.7,1076.5 1765.1,1049.3 1766.5,1108.6 1767.9,1105.6 1769.2,1108.6 1770.6,1104.4 1772,1075.8 1773.4,1068.5 1774.7,1087.6 1776.1,1074.5 1777.5,1081.1 1778.8,1051.9 1780.2,1052 1781.6,1059.8 1783,1052 1784.3,1029.5 1785.7,1050 1787.1,1092.7 1788.5,1064.5 1789.8,1064.3 1791.2,1039.3 1792.6,1043.5 1793.9,1032.6 1795.3,1078 1796.7,1014.6 1798.1,1042.1 1799.4,1015.5 1800.8,1021.4 1802.2,1045.5 1803.5,1041.1 1804.9,1009.9 1806.3,997.4 1807.7,999.3"/>
<rect x="1355.8" y="964.3" width="474.2" height="167.3" fill="none" stroke="#000" stroke-width="2"/>
<rect x="1051.8" y="1152.3" width="284.5" height="169.5" fill="#fff" stroke="none" stroke-width="2"/>
<g stroke="rgba(0,0,0,0.12)" stroke-width="2">
<line x1="1064.2" y1="1152.3" x2="1064.2" y2="1321.8"/>
<line x1="1132.8" y1="1152.3" x2="1132.8" y2="1321.8"/>
<line x1="1201.5" y1="1152.3" x2="1201.5" y2="1321.8"/>
<line x1="1270.1" y1="1152.3" x2="1270.1" y2="1321.8"/>
<line x1="1051.8" y1="1291" x2="1336.2" y2="1291"/>
<line x1="1051.8" y1="1250.8" x2="1336.2" y2="1250.8"/>
<line x1="1051.8" y1="1210.6" x2="1336.2" y2="1210.6"/>
<line x1="1051.8" y1="1170.4" x2="1336.2" y2="1170.4"/>
</g>
<polyline fill="none" stroke="#808080" stroke-width="3" stroke-linejoin="miter" stroke-miterlimit="3" points="1064.2,1159.9 1065.6,1253.4 1066.9,1226.8 1068.3,1225 1069.7,1217.4 1071.1,1199 1072.4,1231.8 1073.8,1252.8 1075.2,1239.1 1076.6,1236.2 1077.9,1234.9 1079.3,1239.3 1080.7,1250.6 1082,1235.3 1083.4,1259.2 1084.8,1280.5 1086.2,1260.2 1087.5,1210 1088.9,1279.2 1090.3,1197 1091.7,1272.9 1093,1242.5 1094.4,1302 1095.8,1264.1 1097.1,1225.2 1098.5,1291.8 1099.9,1280.6 1101.3,1254.3 1102.6,1253.5 1104,1300.1 1105.4,1294.4 1106.7,1255.2 1108.1,1255 1109.5,1243.9 1110.9,1266.6 1112.2,1246.5 1113.6,1231.6 1115,1293 1116.4,1236.1 1117.7,1242.5 1119.1,1228.9 1120.5,1270.7 1121.8,1261.3 1123.2,1257.8 1124.6,1271.1 1126,1232.5 1127.3,1251.1 1128.7,1280.5 1130.1,1246.9 1131.5,1278.2 1132.8,1288.2 1134.2,1271.8 1135.6,1241.5 1136.9,1235 1138.3,1236.3 1139.7,1215.1 1141.1,1175.3 1142.4,1247.2 1143.8,1203.2 1145.2,1202.7 1146.5,1236 1147.9,1216 1149.3,1196.5 1150.7,1170.4 1152,1223 1153.4,1184.8 1154.8,1201.1 1156.2,1195 1157.5,1175.6 1158.9,1252.4 1160.3,1200.7 1161.6,1218.5 1163,1257 1164.4,1240.9 1165.8,1253.7 1167.1,1276.1 1168.5,1229.4 1169.9,1271.5 1171.3,1305.2 1172.6,1235.3 1174,1269.5 1175.4,1249.2 1176.7,1254.2 1178.1,1267.8 1179.5,1270.2 1180.9,1310.3 1182.2,1271.7 1183.6,1290.3 1185,1249.3 1186.4,1281.7 1187.7,1278.7 1189.1,1260 1190.5,1291.3 1191.8,1280.3 1193.2,1274.8 1194.6,1252.5 1196,1298.9 1197.3,1243.3 1198.7,1266 1200.1,1274.9 1201.5,1253.6 1202.8,1236.6 1204.2,1232.9 1205.6,1287.5 1206.9,1227.4 1208.3,1259.6 1209.7,1227.1 1211.1,1285.5 1212.4,1262.3 1213.8,1259.6 1215.2,1287 1216.5,1264.8 1217.9,1228.5 1219.3,1220.6 1220.7,1228.8 1222,1234.6 1223.4,1248.6 1224.8,1181.5 1226.2,1261.9 1227.5,1253.4 1228.9,1237.6 1230.3,1209.2 1231.6,1220.9 1233,1186.6 1234.4,1242.6 1235.8,1181.1 1237.1,1174.4 1238.5,1180.9 1239.9,1212.4 1241.3,1223.3 1242.6,1185 1244,1259.4 1245.4,1241.7 1246.7,1268.8 1248.1,1235.3 1249.5,1190.3 1250.9,1251.4 1252.2,1217.6 1253.6,1274.8 1255,1264.4 1256.4,1267.3 1257.7,1228.7 1259.1,1278.6 1260.5,1274.8 1261.8,1258.9 1263.2,1221.3 1264.6,1259.1 1266,1216.7 1267.3,1251.7 1268.7,1268.3 1270.1,1233.5 1271.4,1277 1272.8,1285.4 1274.2,1260.1 1275.6,1301.4 1276.9,1292.6 1278.3,1283.1 1279.7,1262.1 1281.1,1237 1282.4,1234.2 1283.8,1267.7 1285.2,1256.9 1286.5,1270.4 1287.9,1297.9 1289.3,1252.1 1290.7,1280.3 1292,1242.9 1293.4,1274.8 1294.8,1313.5 1296.2,1251.8 1297.5,1272.9 1298.9,1291 1300.3,1231 1301.6,1247.4 1303,1245.5 1304.4,1249.1 1305.8,1262.2 1307.1,1310.3 1308.5,1255.3 1309.9,1248.2 1311.2,1222 1312.6,1260.4 1314,1210.8 1315.4,1216.9 1316.7,1176.3 1318.1,1227 1319.5,1205.2 1320.9,1196.9 1322.2,1182.5"/>
<rect x="1051.8" y="1152.3" width="284.5" height="169.5" fill="none" stroke="#000" stroke-width="2"/>
<rect x="1355.8" y="1152.3" width="474.2" height="169.5" fill="#fff" stroke="none" stroke-width="2"/>
<g stroke="rgba(0,0,0,0.12)" stroke-width="2">
<line x1="1376.7" y1="1152.3" x2="1376.7" y2="1321.8"/>
<line x1="1514" y1="1152.3" x2="1514" y2="1321.8"/>
<line x1="1651.2" y1="1152.3" x2="1651.2" y2="1321.8"/>
<line x1="1788.5" y1="1152.3" x2="1788.5" y2="1321.8"/>
<line x1="1355.8" y1="1312" x2="1830" y2="1312"/>
<line x1="1355.8" y1="1277.5" x2="1830" y2="1277.5"/>
<line x1="1355.8" y1="1243" x2="1830" y2="1243"/>
<line x1="1355.8" y1="1208.5" x2="1830" y2="1208.5"/>
<line x1="1355.8" y1="1174" x2="1830" y2="1174"/>
</g>
<polyline fill="none" stroke="#808080" stroke-width="3" stroke-linejoin="miter" stroke-miterlimit="3" points="1376.7,1177.5 1378.1,1191.1 1379.4,1233 1380.8,1169.9 1382.2,1251.2 1383.6,1198.6 1384.9,1188.2 1386.3,1235.4 1387.7,1226 1389.1,1230.6 1390.4,1256.8 1391.8,1228.2 1393.2,1259.8 1394.5,1234.8 1395.9,1230.9 1397.3,1222.2 1398.7,1218 1400,1239.3 1401.4,1238.9 1402.8,1254.9 1404.2,1252.2 1405.5,1232.3 1406.9,1235 1408.3,1241.9 1409.6,1252.5 1411,1230.3 1412.4,1276.9 1413.8,1264.2 1415.1,1248.1 1416.5,1228.7 1417.9,1279.5 1419.2,1275.9 1420.6,1278.9 1422,1237.3 1423.4,1235.7 1424.7,1219.8 1426.1,1203.9 1427.5,1278.4 1428.9,1256.5 1430.2,1264.1 1431.6,1275.4 1433,1250.8 1434.3,1263 1435.7,1247.6 1437.1,1257.7 1438.5,1280.3 1439.8,1235.5 1441.2,1234.8 1442.6,1254.8 1444,1290 1445.3,1291.1 1446.7,1268.3 1448.1,1227.6 1449.4,1313.4 1450.8,1226.8 1452.2,1222.7 1453.6,1274.5 1454.9,1208 1456.3,1226.4 1457.7,1213.9 1459,1225.6 1460.4,1245.5 1461.8,1184.9 1463.2,1187.8 1464.5,1224.5 1465.9,1236.5 1467.3,1219.5 1468.7,1190.7 1470,1201.5 1471.4,1216.3 1472.8,1202.1 1474.1,1218.7 1475.5,1250.4 1476.9,1219.8 1478.3,1238.3 1479.6,1257.8 1481,1218 1482.4,1235.4 1483.8,1277.3 1485.1,1231.4 1486.5,1244.7 1487.9,1257.8 1489.2,1260.6 1490.6,1273.4 1492,1283.3 1493.4,1246.3 1494.7,1242.4 1496.1,1260 1497.5,1247.5 1498.9,1261.2 1500.2,1260.8 1501.6,1242.4 1503,1242.9 1504.3,1223 1505.7,1263.4 1507.1,1245.9 1508.5,1256.9 1509.8,1248.7 1511.2,1226.5 1512.6,1244.6 1514,1269.7 1515.3,1262.7 1516.7,1265.3 1518.1,1258 1519.4,1266.2 1520.8,1262.2 1522.2,1254.7 1523.6,1243.4 1524.9,1267.6 1526.3,1247 1527.7,1246.2 1529,1227.5 1530.4,1238.1 1531.8,1230.2 1533.2,1232.7 1534.5,1211.2 1535.9,1234.6 1537.3,1259.7 1538.7,1216.5 1540,1240.5 1541.4,1262.5 1542.8,1201.3 1544.1,1208.7 1545.5,1200.8 1546.9,1193.1 1548.3,1159.2 1549.6,1178.7 1551,1201 1552.4,1210.7 1553.8,1206.4 1555.1,1253.5 1556.5,1203.7 1557.9,1249.7 1559.2,1214.7 1560.6,1230.1 1562,1229.7 1563.4,1251.9 1564.7,1203 1566.1,1283.9 1567.5,1246.3 1568.9,1264.4 1570.2,1280.7 1571.6,1218.5 1573,1245.9 1574.3,1199.7 1575.7,1235.1 1577.1,1241.6 1578.5,1240.6 1579.8,1279.8 1581.2,1280.7 1582.6,1223.3 1583.9,1236.4 1585.3,1269 1586.7,1251.3 1588.1,1250.2 1589.4,1228.1 1590.8,1246.4 1592.2,1268.1 1593.6,1236.5 1594.9,1264.6 1596.3,1241.3 1597.7,1265.4 1599,1310.6 1600.4,1219 1601.8,1272.3 1603.2,1231.5 1604.5,1238.9 1605.9,1262.8 1607.3,1275.6 1608.7,1210.3 1610,1244.9 1611.4,1221.9 1612.8,1240.6 1614.1,1226.5 1615.5,1239.7 1616.9,1269.5 1618.3,1256.4 1619.6,1229.3 1621,1312 1622.4,1237.7 1623.8,1228.8 1625.1,1199.2 1626.5,1184.1 1627.9,1257.1 1629.2,1201 1630.6,1168.4 1632,1231.9 1633.4,1224.1 1634.7,1174 1636.1,1196.7 1637.5,1213 1638.8,1199.1 1640.2,1191 1641.6,1207.7 1643,1205.5 1644.3,1213.3 1645.7,1213.5 1647.1,1221.5 1648.5,1220.8 1649.8,1236.5 1651.2,1212.9 1652.6,1245.2 1653.9,1251.8 1655.3,1273.3 1656.7,1260.4 1658.1,1242.9 1659.4,1251 1660.8,1235.6 1662.2,1273.3 1663.6,1262.7 1664.9,1291.3 1666.3,1256 1667.7,1230.5 1669,1241.1 1670.4,1259.5 1671.8,1241.2 1673.2,1245.7 1674.5,1270.2 1675.9,1272.8 1677.3,1271.1 1678.7,1242.4 1680,1239.6 1681.4,1243.4 1682.8,1257.2 1684.1,1212 1685.5,1255.8 1686.9,1241.1 1688.3,1247.4 1689.6,1229.1 1691,1285.8 1692.4,1239.4 1693.7,1253.8 1695.1,1251.1 1696.5,1270.4 1697.9,1262.8 1699.2,1221 1700.6,1226.7 1702,1273.2 1703.4,1236 1704.7,1248.9 1706.1,1213.4 1707.5,1223.2 1708.8,1213 1710.2,1226.2 1711.6,1219.8 1713,1230.1 1714.3,1243.7 1715.7,1220.2 1717.1,1179.2 1718.5,1174 1719.8,1218.7 1721.2,1167.1 1722.6,1215.4 1723.9,1217.5 1725.3,1228 1726.7,1220.9 1728.1,1196.6 1729.4,1199 1730.8,1183.2 1732.2,1226.4 1733.6,1272.2 1734.9,1243 1736.3,1257.1 1737.7,1245.2 1739,1256.2 1740.4,1222.8 1741.8,1262.6 1743.2,1246.6 1744.5,1210.5 1745.9,1249.4 1747.3,1284.7 1748.6,1232 1750,1241.5 1751.4,1240.3 1752.8,1237.7 1754.1,1272.2 1755.5,1273.3 1756.9,1249.6 1758.3,1288.3 1759.6,1270.5 1761,1229 1762.4,1279.7 1763.7,1245.9 1765.1,1231.1 1766.5,1254.4 1767.9,1262.5 1769.2,1225.8 1770.6,1281.6 1772,1218.2 1773.4,1271.4 1774.7,1251.9 1776.1,1275.3 1777.5,1274.5 1778.8,1231 1780.2,1249.6 1781.6,1239.7 1783,1276.9 1784.3,1256.2 1785.7,1273.5 1787.1,1246.7 1788.5,1234.8 1789.8,1231.8 1791.2,1229 1792.6,1250.5 1793.9,1221.5 1795.3,1238.9 1796.7,1197.5 1798.1,1225.1 1799.4,1192.2 1800.8,1220.5 1802.2,1195.3 1803.5,1201 1804.9,1233.8 1806.3,1187.5 1807.7,1170.5"/>
<rect x="1355.8" y="1152.3" width="474.2" height="169.5" fill="none" stroke="#000" stroke-width="2"/>
<rect x="1830" y="777.3" width="32" height="166.2" fill="#e5e5e5" stroke="#000" stroke-width="2"/>
<text x="1856" y="860" font-size="28" text-anchor="middle" transform="rotate(-90 1856 860)" fill="#000">sleep</text>
<rect x="1830" y="965.3" width="32" height="166" fill="#e5e5e5" stroke="#000" stroke-width="2"/>
<text x="1856" y="1047.9" font-size="28" text-anchor="middle" transform="rotate(-90 1856 1047.9)" fill="#000">awake</text>
<rect x="1830" y="1153.3" width="32" height="168.2" fill="#e5e5e5" stroke="#000" stroke-width="2"/>
<text x="1856" y="1237" font-size="28" text-anchor="middle" transform="rotate(-90 1856 1237)" fill="#000">test</text>
<text x="1194" y="1357" font-size="28" text-anchor="middle" fill="#000">Day 1</text>
<text x="1593" y="1357" font-size="28" text-anchor="middle" fill="#000">Day 2</text>
</g>
</svg>
</body></html>
